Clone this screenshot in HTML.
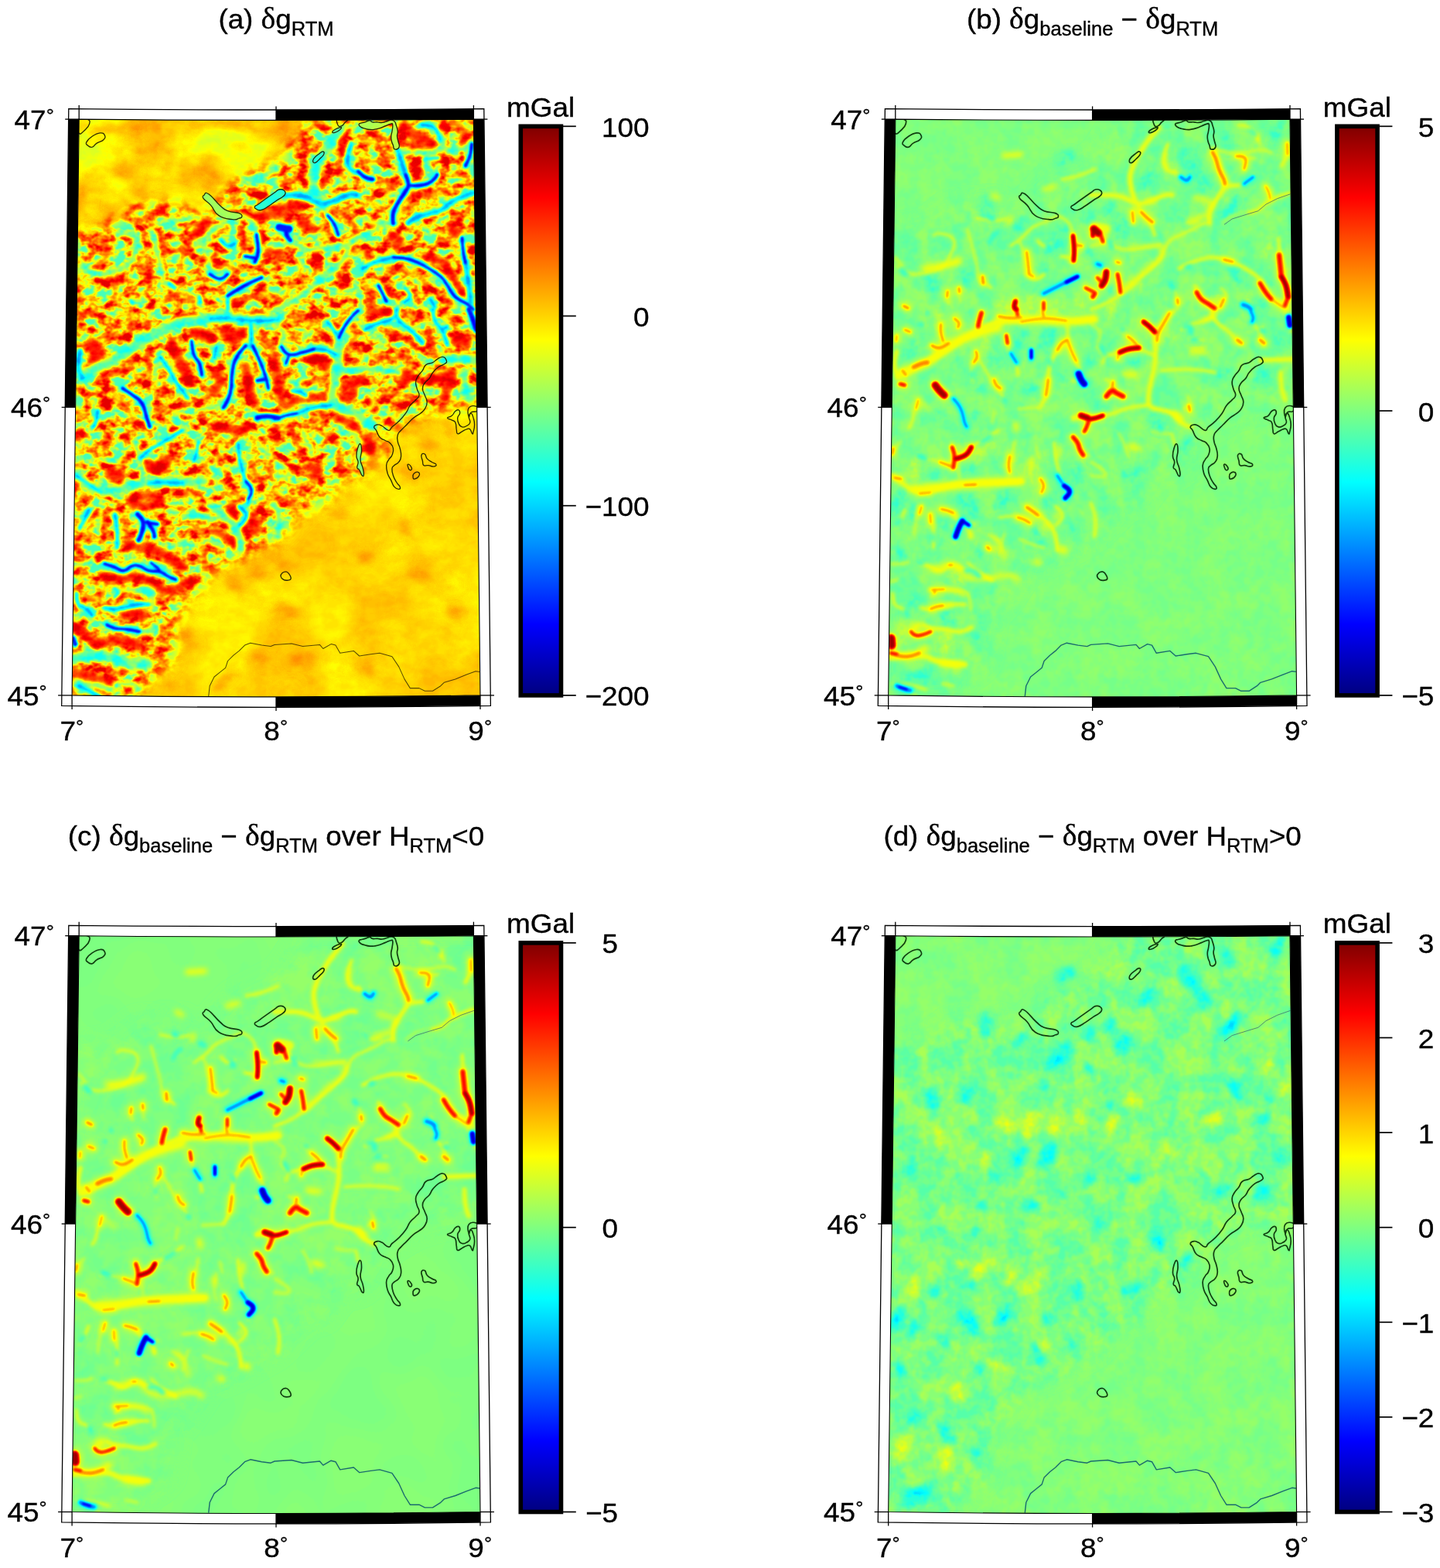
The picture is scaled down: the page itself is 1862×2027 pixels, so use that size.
<!DOCTYPE html>
<html><head><meta charset="utf-8"><title>RTM gravity comparison</title>
<style>
html,body{margin:0;padding:0;background:#fff}
svg{display:block}
.t{font-family:"Liberation Sans", sans-serif;font-size:35px;fill:#000;stroke:#000;stroke-width:0.35px}
.tt{font-family:"Liberation Sans", sans-serif;font-size:36px;fill:#000;stroke:#000;stroke-width:0.35px}
.sb{font-size:25px}
.dl{font-family:"Liberation Serif","DejaVu Serif",serif;font-size:39px}
</style></head><body>
<svg width="1862" height="2027" viewBox="0 0 1862 2027">
<defs>
<clipPath id="mapclip"><path d="M102.2,154.1 Q357,156.7 612.4,154.1 L621.0,898.9 Q357,902.9 93.1,898.9 Z"/></clipPath>
<filter id="bR1" x="-5%" y="-5%" width="110%" height="110%" filterUnits="objectBoundingBox" color-interpolation-filters="sRGB"><feGaussianBlur stdDeviation="2.6"/></filter>
<filter id="bR2" x="-5%" y="-5%" width="110%" height="110%" filterUnits="objectBoundingBox" color-interpolation-filters="sRGB"><feGaussianBlur stdDeviation="2.4"/></filter>
<filter id="bV1" x="-5%" y="-5%" width="110%" height="110%" filterUnits="objectBoundingBox" color-interpolation-filters="sRGB"><feGaussianBlur stdDeviation="2.6"/></filter>
<filter id="bV2" x="-5%" y="-5%" width="110%" height="110%" filterUnits="objectBoundingBox" color-interpolation-filters="sRGB"><feGaussianBlur stdDeviation="1.8"/></filter>
<filter id="bV3" x="-5%" y="-5%" width="110%" height="110%" filterUnits="objectBoundingBox" color-interpolation-filters="sRGB"><feGaussianBlur stdDeviation="1.3"/></filter>
<filter id="bO" x="-5%" y="-5%" width="110%" height="110%" filterUnits="objectBoundingBox" color-interpolation-filters="sRGB"><feGaussianBlur stdDeviation="6"/></filter>
<filter id="bY" x="-5%" y="-5%" width="110%" height="110%" filterUnits="objectBoundingBox" color-interpolation-filters="sRGB"><feGaussianBlur stdDeviation="6"/></filter>
<filter id="bALP" x="0" y="0" width="1862" height="2027" filterUnits="userSpaceOnUse" color-interpolation-filters="sRGB"><feGaussianBlur stdDeviation="9"/></filter>
<filter id="jetA" x="85" y="145" width="550" height="770" filterUnits="userSpaceOnUse" color-interpolation-filters="sRGB">
<feTurbulence type="fractalNoise" baseFrequency="0.055 0.07" numOctaves="3" seed="11" result="t"/>
<feColorMatrix in="t" type="matrix" values="2.3 0 0 0 -0.65  2.3 0 0 0 -0.65  2.3 0 0 0 -0.65  0 0 0 0 1" result="n"/>
<feTurbulence type="fractalNoise" baseFrequency="0.012" numOctaves="2" seed="16" result="t2"/>
<feColorMatrix in="t2" type="matrix" values="3.0 0 0 0 -1.0  3.0 0 0 0 -1.0  3.0 0 0 0 -1.0  0 0 0 0 1" result="n2"/>
<feColorMatrix in="SourceGraphic" type="matrix" values="0 1 0 0 0  0 1 0 0 0  0 1 0 0 0  0 0 0 0 1" result="amp"/>
<feColorMatrix in="SourceGraphic" type="matrix" values="0 0 1 0 0  0 0 1 0 0  0 0 1 0 0  0 0 0 0 1" result="amp2"/>
<feColorMatrix in="SourceGraphic" type="matrix" values="1 0 0 0 0  1 0 0 0 0  1 0 0 0 0  0 0 0 0 1" result="val"/>
<feComposite in="amp" in2="n" operator="arithmetic" k1="1" k2="-0.5" k3="0" k4="0.5" result="m"/>
<feComposite in="amp2" in2="n2" operator="arithmetic" k1="1" k2="-0.5" k3="0" k4="0.5" result="m2"/>
<feComposite in="val" in2="m" operator="arithmetic" k1="0" k2="1" k3="1" k4="-0.5" result="v1"/>
<feComposite in="v1" in2="m2" operator="arithmetic" k1="0" k2="1" k3="1" k4="-0.5" result="v"/>
<feComponentTransfer in="v">
<feFuncR type="table" tableValues="0 0 0 0 0.5 1 1 1 0.5"/>
<feFuncG type="table" tableValues="0 0 0.5 1 1 1 0.5 0 0"/>
<feFuncB type="table" tableValues="0.5 1 1 1 0.5 0 0 0 0"/>
</feComponentTransfer>
</filter>
<filter id="dr2" x="-5%" y="-5%" width="110%" height="110%" color-interpolation-filters="sRGB"><feGaussianBlur stdDeviation="1.5"/></filter>
<filter id="dr1" x="-5%" y="-5%" width="110%" height="110%" color-interpolation-filters="sRGB"><feGaussianBlur stdDeviation="1.6"/></filter>
<filter id="do" x="-5%" y="-5%" width="110%" height="110%" color-interpolation-filters="sRGB"><feGaussianBlur stdDeviation="1.8"/></filter>
<filter id="dy" x="-5%" y="-5%" width="110%" height="110%" color-interpolation-filters="sRGB"><feGaussianBlur stdDeviation="3.5"/></filter>
<filter id="dc" x="-5%" y="-5%" width="110%" height="110%" color-interpolation-filters="sRGB"><feGaussianBlur stdDeviation="2.5"/></filter>
<filter id="db1" x="-5%" y="-5%" width="110%" height="110%" color-interpolation-filters="sRGB"><feGaussianBlur stdDeviation="1.6"/></filter>
<filter id="db2" x="-5%" y="-5%" width="110%" height="110%" color-interpolation-filters="sRGB"><feGaussianBlur stdDeviation="1.4"/></filter>
<filter id="dvein" x="-5%" y="-5%" width="110%" height="110%" color-interpolation-filters="sRGB"><feGaussianBlur stdDeviation="2.2"/></filter>
<filter id="dblob" x="-5%" y="-5%" width="110%" height="110%" color-interpolation-filters="sRGB"><feGaussianBlur stdDeviation="4.2"/></filter>
<filter id="jetB" x="85" y="145" width="550" height="770" filterUnits="userSpaceOnUse" color-interpolation-filters="sRGB">
<feTurbulence type="fractalNoise" baseFrequency="0.09" numOctaves="2" seed="41" result="t"/>
<feColorMatrix in="t" type="matrix" values="3.0 0 0 0 -1.0  3.0 0 0 0 -1.0  3.0 0 0 0 -1.0  0 0 0 0 1" result="n"/>
<feTurbulence type="fractalNoise" baseFrequency="0.03 0.024" numOctaves="3" seed="46" result="t2"/>
<feColorMatrix in="t2" type="matrix" values="3.4 0 0 0 -1.2  3.4 0 0 0 -1.2  3.4 0 0 0 -1.2  0 0 0 0 1" result="n2"/>
<feColorMatrix in="SourceGraphic" type="matrix" values="0 1 0 0 0  0 1 0 0 0  0 1 0 0 0  0 0 0 0 1" result="amp"/>
<feColorMatrix in="SourceGraphic" type="matrix" values="0 0 1 0 0  0 0 1 0 0  0 0 1 0 0  0 0 0 0 1" result="amp2"/>
<feColorMatrix in="SourceGraphic" type="matrix" values="1 0 0 0 0  1 0 0 0 0  1 0 0 0 0  0 0 0 0 1" result="val"/>
<feComposite in="amp" in2="n" operator="arithmetic" k1="1" k2="-0.5" k3="0" k4="0.5" result="m"/>
<feComposite in="amp2" in2="n2" operator="arithmetic" k1="1" k2="-0.5" k3="0" k4="0.5" result="m2"/>
<feComposite in="val" in2="m" operator="arithmetic" k1="0" k2="1" k3="1" k4="-0.5" result="v1"/>
<feComposite in="v1" in2="m2" operator="arithmetic" k1="0" k2="1" k3="1" k4="-0.5" result="v"/>
<feComponentTransfer in="v">
<feFuncR type="table" tableValues="0 0 0 0 0.5 1 1 1 0.5"/>
<feFuncG type="table" tableValues="0 0 0.5 1 1 1 0.5 0 0"/>
<feFuncB type="table" tableValues="0.5 1 1 1 0.5 0 0 0 0"/>
</feComponentTransfer>
</filter>
<filter id="jetC" x="85" y="145" width="550" height="770" filterUnits="userSpaceOnUse" color-interpolation-filters="sRGB">
<feTurbulence type="fractalNoise" baseFrequency="0.045" numOctaves="3" seed="31" result="t"/>
<feColorMatrix in="t" type="matrix" values="3.0 0 0 0 -1.0  3.0 0 0 0 -1.0  3.0 0 0 0 -1.0  0 0 0 0 1" result="n"/>
<feTurbulence type="fractalNoise" baseFrequency="0.012" numOctaves="2" seed="36" result="t2"/>
<feColorMatrix in="t2" type="matrix" values="3.0 0 0 0 -1.0  3.0 0 0 0 -1.0  3.0 0 0 0 -1.0  0 0 0 0 1" result="n2"/>
<feColorMatrix in="SourceGraphic" type="matrix" values="0 1 0 0 0  0 1 0 0 0  0 1 0 0 0  0 0 0 0 1" result="amp"/>
<feColorMatrix in="SourceGraphic" type="matrix" values="0 0 1 0 0  0 0 1 0 0  0 0 1 0 0  0 0 0 0 1" result="amp2"/>
<feColorMatrix in="SourceGraphic" type="matrix" values="1 0 0 0 0  1 0 0 0 0  1 0 0 0 0  0 0 0 0 1" result="val"/>
<feComposite in="amp" in2="n" operator="arithmetic" k1="1" k2="-0.5" k3="0" k4="0.5" result="m"/>
<feComposite in="amp2" in2="n2" operator="arithmetic" k1="1" k2="-0.5" k3="0" k4="0.5" result="m2"/>
<feComposite in="val" in2="m" operator="arithmetic" k1="0" k2="1" k3="1" k4="-0.5" result="v1"/>
<feComposite in="v1" in2="m2" operator="arithmetic" k1="0" k2="1" k3="1" k4="-0.5" result="v"/>
<feComponentTransfer in="v">
<feFuncR type="table" tableValues="0 0 0 0 0.5 1 1 1 0.5"/>
<feFuncG type="table" tableValues="0 0 0.5 1 1 1 0.5 0 0"/>
<feFuncB type="table" tableValues="0.5 1 1 1 0.5 0 0 0 0"/>
</feComponentTransfer>
</filter>
<filter id="jetD" x="85" y="145" width="550" height="770" filterUnits="userSpaceOnUse" color-interpolation-filters="sRGB">
<feTurbulence type="fractalNoise" baseFrequency="0.09" numOctaves="2" seed="41" result="t"/>
<feColorMatrix in="t" type="matrix" values="3.0 0 0 0 -1.0  3.0 0 0 0 -1.0  3.0 0 0 0 -1.0  0 0 0 0 1" result="n"/>
<feTurbulence type="fractalNoise" baseFrequency="0.03 0.024" numOctaves="3" seed="46" result="t2"/>
<feColorMatrix in="t2" type="matrix" values="3.4 0 0 0 -1.2  3.4 0 0 0 -1.2  3.4 0 0 0 -1.2  0 0 0 0 1" result="n2"/>
<feColorMatrix in="SourceGraphic" type="matrix" values="0 1 0 0 0  0 1 0 0 0  0 1 0 0 0  0 0 0 0 1" result="amp"/>
<feColorMatrix in="SourceGraphic" type="matrix" values="0 0 1 0 0  0 0 1 0 0  0 0 1 0 0  0 0 0 0 1" result="amp2"/>
<feColorMatrix in="SourceGraphic" type="matrix" values="1 0 0 0 0  1 0 0 0 0  1 0 0 0 0  0 0 0 0 1" result="val"/>
<feComposite in="amp" in2="n" operator="arithmetic" k1="1" k2="-0.5" k3="0" k4="0.5" result="m"/>
<feComposite in="amp2" in2="n2" operator="arithmetic" k1="1" k2="-0.5" k3="0" k4="0.5" result="m2"/>
<feComposite in="val" in2="m" operator="arithmetic" k1="0" k2="1" k3="1" k4="-0.5" result="v1"/>
<feComposite in="v1" in2="m2" operator="arithmetic" k1="0" k2="1" k3="1" k4="-0.5" result="v"/>
<feComponentTransfer in="v">
<feFuncR type="table" tableValues="0 0 0 0 0.5 1 1 1 0.5"/>
<feFuncG type="table" tableValues="0 0 0.5 1 1 1 0.5 0 0"/>
<feFuncB type="table" tableValues="0.5 1 1 1 0.5 0 0 0 0"/>
</feComponentTransfer>
</filter>
<linearGradient id="jet" x1="0" y1="0" x2="0" y2="1">
<stop offset="0" stop-color="#7f0000"/><stop offset="0.125" stop-color="#ff0000"/><stop offset="0.375" stop-color="#ffff00"/><stop offset="0.625" stop-color="#00ffff"/><stop offset="0.875" stop-color="#0000ff"/><stop offset="1" stop-color="#00007f"/>
</linearGradient>
</defs>
<rect width="1862" height="2027" fill="#fff"/>

<g transform="translate(0,0)">
<path d="M88.8,140.7 Q357,143.29999999999998 625.8,140.7 L634.4,912.3 Q357,916.3 79.69999999999999,912.3 Z" fill="#fff" stroke="#000" stroke-width="1.3"/>
<path d="M357,142.0 Q485,141.7 612.4,140.7 L612.4,154.1 Q485,155.1 357,155.4 Z" fill="#000"/>
<path d="M357,914.3 Q489,913.8 621.0,912.3 L621.0,898.9 Q489,900.4 357,900.9 Z" fill="#000"/>
<path d="M88.8,154.1 L102.2,154.1 L97.65,526.5 L84.25,526.5 Z" fill="#000"/>
<path d="M625.8,154.1 L612.4,154.1 L616.7,526.5 L630.1,526.5 Z" fill="#000"/>
<path d="M102.2,154.1 Q357,156.7 612.4,154.1 L621.0,898.9 Q357,902.9 93.1,898.9 Z" fill="#80ff80"/>
<g clip-path="url(#mapclip)"><g filter="url(#jetA)">
<rect x="80" y="140" width="560" height="780" fill="rgb(168,5,11)"/>
<g filter="url(#bALP)"><path d="M90.0,296.0 L141.0,289.0 L177.7,261.0 L236.0,258.0 L258.0,281.5 L280.0,252.0 L302.0,230.0 L360.0,201.0 L384.0,164.6 L399.0,150.0 L630.0,150.0 L630.0,524.0 L574.0,528.6 L537.6,538.8 L501.0,560.7 L486.5,597.0 L464.6,616.0 L442.7,619.0 L420.7,650.0 L400.0,655.0 L360.0,694.0 L309.0,723.0 L272.6,737.7 L258.0,759.6 L243.4,781.5 L228.8,796.0 L225.9,825.0 L221.5,854.6 L206.9,869.0 L192.0,876.5 L177.7,905.0 L85.0,905.0Z" fill="rgb(170,117,0)"/></g>
<g filter="url(#bALP)"><path d="M85.0,145.0 L405.0,145.0 L384.0,164.6 L360.0,201.0 L302.0,230.0 L280.0,252.0 L258.0,281.5 L236.0,258.0 L177.7,261.0 L141.0,289.0 L85.0,300.0Z" fill="rgb(165,8,26)"/></g>
<g filter="url(#bO)"><g fill="none" stroke="rgb(182,8,8)" stroke-linecap="round" stroke-linejoin="round"><path d="M476.3,565.1 C477.8,571.5 481.4,579.8 482.1,589.9 C482.9,600.0 479.9,600.8 479.2,604.5" stroke-width="16.0"/><path d="M523.0,554.9 L544.9,551.9" stroke-width="10.0"/><path d="M544.9,575.3 L559.5,575.3" stroke-width="10.0"/><path d="M578.5,546.1 L581.5,560.7" stroke-width="10.0"/><path d="M523.0,607.5 L537.6,616.2" stroke-width="14.0"/><path d="M450.0,633.8 L457.3,641.1" stroke-width="10.0"/><path d="M329.6,737.7 L338.4,740.6" stroke-width="18.0"/><path d="M297.5,752.3 L309.2,761.0" stroke-width="12.0"/><path d="M240.5,818.0 L244.9,834.1" stroke-width="16.0"/><path d="M209.8,883.8 L221.5,885.2" stroke-width="12.0"/><path d="M279.9,891.1 L301.9,869.2" stroke-width="12.0"/><path d="M323.8,847.2 L338.4,851.6" stroke-width="12.0"/><path d="M345.7,715.7 L360.0,723.1" stroke-width="10.0"/><path d="M355.0,720.1 C358.0,722.4 361.1,725.1 366.7,728.9 C372.3,732.6 374.3,733.2 376.9,734.7" stroke-width="8.0"/><path d="M363.8,788.8 L374.0,790.3" stroke-width="22.0"/><path d="M469.0,720.1 L480.6,721.6" stroke-width="14.0"/><path d="M534.7,740.6 L549.3,740.6" stroke-width="16.0"/><path d="M520.1,676.3 L525.9,688.0" stroke-width="14.0"/><path d="M582.9,788.8 L594.6,790.3" stroke-width="16.0"/><path d="M376.9,854.5 L398.8,851.6" stroke-width="14.0"/><path d="M464.6,858.9 L479.2,866.2" stroke-width="14.0"/><path d="M428.1,664.6 L445.6,663.1" stroke-width="10.0"/><path d="M155.7,218.7 L166.0,223.1" stroke-width="26.0"/><path d="M119.2,171.9 C126.7,170.4 133.5,167.9 148.4,166.1 C163.4,164.2 170.2,165.0 177.7,164.6" stroke-width="12.0"/><path d="M107.5,237.7 L111.9,266.9" stroke-width="10.0"/><path d="M221.5,193.8 L218.6,215.7" stroke-width="8.0"/><path d="M236.1,208.4 L240.5,230.4" stroke-width="8.0"/><path d="M272.6,201.1 L287.2,208.4" stroke-width="9.0"/><path d="M301.9,186.5 L323.8,193.8" stroke-width="7.0"/><path d="M350.1,193.8 L345.7,215.7" stroke-width="8.0"/><path d="M250.7,164.6 C258.2,163.1 261.2,159.5 279.9,158.8 C298.7,158.0 312.5,160.9 323.8,161.7" stroke-width="10.0"/><path d="M138.2,266.9 L148.4,281.5" stroke-width="9.0"/><path d="M192.3,237.7 L177.7,249.4" stroke-width="9.0"/><path d="M265.3,215.7 L279.9,226.0" stroke-width="8.0"/><path d="M331.1,171.9 L353.0,167.5" stroke-width="8.0"/><path d="M362.3,164.6 L376.9,158.8" stroke-width="9.0"/><path d="M369.6,179.2 L384.2,171.9" stroke-width="9.0"/></g></g>
<g filter="url(#bY)"><g fill="none" stroke="rgb(164,8,8)" stroke-linecap="round" stroke-linejoin="round"><path d="M331.1,766.9 L345.7,769.8" stroke-width="16.0"/><path d="M258.0,781.5 L272.6,788.8" stroke-width="16.0"/><path d="M508.4,715.7 L523.0,717.2" stroke-width="14.0"/><path d="M527.4,658.8 L539.1,658.8" stroke-width="14.0"/><path d="M431.0,861.9 L442.7,860.4" stroke-width="16.0"/><path d="M363.8,891.1 L378.4,889.6" stroke-width="14.0"/><path d="M581.5,752.3 L588.8,755.2" stroke-width="14.0"/><path d="M177.7,186.5 C170.2,190.3 161.6,191.8 148.4,201.1 C135.3,210.5 135.9,202.4 126.5,223.1 C117.2,243.7 115.7,266.5 111.9,281.5" stroke-width="12.0"/><path d="M236.1,186.5 L243.4,193.8" stroke-width="10.0"/><path d="M250.7,245.0 L258.0,266.9" stroke-width="12.0"/><path d="M192.3,208.4 L206.9,230.4" stroke-width="10.0"/><path d="M359.4,193.8 L369.6,208.4" stroke-width="10.0"/></g></g>
<g filter="url(#bR1)"><g fill="none" stroke="rgb(200,51,0)" stroke-linecap="round" stroke-linejoin="round"><path d="M177.7,285.9 C184.4,282.1 192.7,276.7 204.0,271.3 C215.2,265.8 213.3,265.8 221.5,264.7 C229.7,263.6 227.5,264.1 236.1,266.9 C244.7,269.7 250.2,273.4 255.1,275.6" stroke-width="6.8"/><path d="M253.6,301.9 C251.0,306.1 248.7,308.3 243.4,318.0 C238.2,327.8 235.8,334.3 233.2,339.9" stroke-width="7.6"/><path d="M293.1,262.5 L309.2,246.4" stroke-width="6.0"/><path d="M300.4,268.3 L315.0,255.2" stroke-width="5.1"/><path d="M128.0,309.3 C130.6,313.4 137.5,317.8 138.2,325.3 C139.0,332.8 135.0,333.2 130.9,338.5 C126.8,343.7 124.4,343.9 122.1,345.8" stroke-width="8.5"/><path d="M138.2,358.9 L158.7,366.2" stroke-width="7.6"/><path d="M151.4,354.5 L148.4,383.8" stroke-width="6.8"/><path d="M180.6,339.9 C184.3,342.9 192.6,345.6 195.2,351.6 C197.8,357.6 191.9,360.3 190.8,363.3" stroke-width="8.5"/><path d="M206.9,303.4 C209.5,309.0 209.6,321.6 217.1,325.3 C224.6,329.1 231.2,319.9 236.1,318.0" stroke-width="6.8"/><path d="M214.2,386.7 C219.8,384.8 226.7,377.9 236.1,379.4 C245.5,380.9 247.0,389.2 250.7,392.5" stroke-width="8.5"/><path d="M301.9,391.1 C311.2,388.8 323.5,384.2 338.4,382.3 C353.3,380.4 354.5,383.4 360.0,383.8" stroke-width="8.5"/><path d="M272.6,339.9 C278.2,341.1 285.2,341.7 294.5,344.3 C303.9,346.9 305.4,348.7 309.2,350.2" stroke-width="6.8"/><path d="M309.2,296.1 C311.4,299.9 317.2,304.0 317.9,310.7 C318.7,317.5 313.6,319.4 312.1,322.4" stroke-width="6.0"/><path d="M104.6,383.8 L98.8,398.4" stroke-width="6.0"/><path d="M345.7,337.0 L360.0,339.9" stroke-width="6.8"/><path d="M160.1,281.5 C163.1,278.5 165.8,274.3 171.8,269.8 C177.8,265.3 180.5,265.5 183.5,264.0" stroke-width="5.1"/><path d="M133.8,296.1 L145.5,278.6" stroke-width="5.1"/><path d="M355.0,281.5 L372.5,278.6" stroke-width="8.5"/><path d="M442.7,179.2 C442.7,183.0 443.8,184.5 442.7,193.8 C441.5,203.2 437.5,206.0 438.3,215.7 C439.0,225.5 443.7,227.7 445.6,231.8" stroke-width="9.3"/><path d="M410.5,218.7 C413.1,222.0 420.0,225.1 420.7,231.8 C421.5,238.6 415.3,241.6 413.4,245.0" stroke-width="7.6"/><path d="M360.8,234.7 L384.2,231.8" stroke-width="8.5"/><path d="M372.5,190.9 C377.4,189.8 382.9,188.4 391.5,186.5 C400.1,184.7 402.4,184.4 406.1,183.6" stroke-width="6.8"/><path d="M398.8,164.6 L420.7,163.1" stroke-width="6.0"/><path d="M466.0,179.2 L486.5,186.5" stroke-width="6.8"/><path d="M479.2,171.9 L493.8,179.2" stroke-width="6.0"/><path d="M469.0,208.4 C475.3,208.4 485.6,210.3 493.8,208.4 C502.0,206.6 499.2,203.0 501.1,201.1" stroke-width="7.6"/><path d="M523.0,183.6 C528.6,185.5 535.6,188.7 544.9,190.9 C554.3,193.2 555.8,192.0 559.5,192.4" stroke-width="10.2"/><path d="M585.8,157.3 C590.3,161.1 600.8,164.4 603.4,171.9 C606.0,179.4 597.9,182.8 596.1,186.5" stroke-width="10.2"/><path d="M486.5,234.7 C492.1,235.5 504.7,233.9 508.4,237.7 C512.2,241.4 503.0,246.4 501.1,249.4" stroke-width="8.5"/><path d="M530.3,212.8 C534.1,214.7 543.1,215.6 544.9,220.1 C546.8,224.6 539.5,227.7 537.6,230.4" stroke-width="7.6"/><path d="M517.2,261.0 C522.4,258.8 526.8,254.9 537.6,252.3 C548.5,249.7 549.4,251.6 559.5,250.8 C569.7,250.1 572.6,249.7 577.1,249.4" stroke-width="9.3"/><path d="M520.1,274.2 L534.7,265.4" stroke-width="7.6"/><path d="M588.8,223.1 L604.8,230.4" stroke-width="6.8"/><path d="M588.8,274.2 L594.6,288.8" stroke-width="6.8"/><path d="M398.8,284.4 L403.2,293.2" stroke-width="6.8"/><path d="M428.1,268.3 C433.7,271.7 441.7,274.4 450.0,281.5 C458.2,288.6 456.4,288.6 460.2,296.1 C463.9,303.6 463.5,307.0 464.6,310.7" stroke-width="7.6"/><path d="M479.2,259.6 L493.8,269.8" stroke-width="6.8"/><path d="M457.3,325.3 C461.8,326.1 469.2,324.5 474.8,328.2 C480.4,332.0 478.1,336.9 479.2,339.9" stroke-width="7.6"/><path d="M401.8,337.0 C404.8,337.8 412.3,335.4 413.4,339.9 C414.6,344.4 408.0,350.8 406.1,354.5" stroke-width="6.8"/><path d="M435.4,354.5 C437.2,358.3 441.9,363.2 442.7,369.2 C443.4,375.1 439.4,375.7 438.3,377.9" stroke-width="6.8"/><path d="M501.1,347.2 C508.6,348.4 519.1,347.9 530.3,351.6 C541.6,355.4 539.3,357.4 544.9,361.9 C550.6,366.3 550.4,367.3 552.2,369.2" stroke-width="7.6"/><path d="M476.3,369.2 C477.8,372.9 481.4,376.3 482.1,383.8 C482.9,391.3 479.9,394.6 479.2,398.4" stroke-width="7.6"/><path d="M376.9,369.2 L369.6,383.8" stroke-width="6.8"/><path d="M566.9,310.7 L581.5,315.1" stroke-width="6.0"/><path d="M413.4,310.7 L425.1,303.4" stroke-width="6.0"/><path d="M501.1,377.9 L515.7,386.7" stroke-width="6.0"/><path d="M574.2,386.7 L588.8,395.5" stroke-width="6.0"/><path d="M384.2,337.0 L391.5,351.6" stroke-width="6.0"/><path d="M133.8,436.5 L152.8,432.1" stroke-width="7.6"/><path d="M104.6,407.3 L119.2,404.4" stroke-width="6.8"/><path d="M152.8,404.4 L170.4,408.8" stroke-width="6.8"/><path d="M170.4,414.6 L167.4,429.2" stroke-width="6.8"/><path d="M189.4,408.8 L192.3,429.2" stroke-width="6.0"/><path d="M338.4,429.2 C341.4,434.8 344.5,441.8 350.1,451.1 C355.6,460.5 357.5,462.0 360.0,465.7" stroke-width="8.5"/><path d="M126.5,490.6 C132.1,488.3 139.1,485.2 148.4,481.8 C157.8,478.4 159.3,478.6 163.1,477.4" stroke-width="7.6"/><path d="M168.9,465.7 C170.0,469.5 170.3,472.9 173.3,480.4 C176.3,487.8 178.7,491.2 180.6,495.0" stroke-width="6.8"/><path d="M189.4,455.5 C190.1,460.0 190.8,464.8 192.3,473.1 C193.8,481.3 194.4,483.9 195.2,487.7" stroke-width="6.8"/><path d="M211.3,495.0 L212.7,509.6" stroke-width="6.8"/><path d="M123.6,502.3 L128.0,511.0" stroke-width="5.1"/><path d="M144.1,502.3 C147.1,506.0 150.1,509.4 155.7,516.9 C161.4,524.4 161.5,524.0 166.0,531.5 C170.5,539.0 171.4,542.4 173.3,546.1" stroke-width="7.6"/><path d="M202.5,528.6 L214.2,531.5" stroke-width="8.5"/><path d="M98.8,528.6 L104.6,538.8" stroke-width="6.8"/><path d="M160.1,560.7 L163.1,575.3" stroke-width="6.0"/><path d="M262.4,597.2 L268.2,607.5" stroke-width="6.8"/><path d="M104.6,597.2 L98.8,604.5" stroke-width="6.0"/><path d="M287.2,604.5 L294.5,611.9" stroke-width="6.0"/><path d="M323.8,597.2 C325.6,601.0 327.3,606.2 331.1,611.9 C334.8,617.5 336.5,617.3 338.4,619.2" stroke-width="7.6"/><path d="M236.1,639.6 L258.0,636.7" stroke-width="8.5"/><path d="M298.9,641.1 L309.2,636.7" stroke-width="6.8"/><path d="M104.6,633.8 L111.9,645.5" stroke-width="6.8"/><path d="M269.7,408.8 L287.2,405.8" stroke-width="6.0"/><path d="M301.9,405.8 L338.4,404.4" stroke-width="6.0"/><path d="M218.6,587.0 L221.5,594.3" stroke-width="5.1"/><path d="M104.6,553.4 L109.0,563.6" stroke-width="6.0"/><path d="M138.2,560.7 L133.8,582.6" stroke-width="6.0"/><path d="M265.3,502.3 L269.7,516.9" stroke-width="6.0"/><path d="M353.0,560.7 L360.0,575.3" stroke-width="6.0"/><path d="M345.7,604.5 L353.0,619.2" stroke-width="6.0"/><path d="M374.0,408.8 C378.5,409.5 384.0,409.4 391.5,411.7 C399.0,413.9 400.2,416.0 403.2,417.5" stroke-width="7.6"/><path d="M376.9,436.5 L384.2,433.6" stroke-width="6.0"/><path d="M416.4,429.2 C418.2,431.5 420.7,433.1 423.7,438.0 C426.7,442.9 426.9,445.6 428.1,448.2" stroke-width="6.8"/><path d="M439.7,408.8 L442.7,417.5" stroke-width="6.0"/><path d="M460.2,421.9 C459.4,425.7 459.9,429.0 457.3,436.5 C454.7,444.0 451.8,447.4 450.0,451.1" stroke-width="7.6"/><path d="M501.1,426.3 C504.9,428.2 508.2,429.1 515.7,433.6 C523.2,438.1 524.7,439.3 530.3,443.8 C535.9,448.3 535.8,449.3 537.6,451.1" stroke-width="7.6"/><path d="M523.0,407.3 C526.8,407.7 530.9,406.9 537.6,408.8 C544.4,410.6 546.3,413.1 549.3,414.6" stroke-width="6.8"/><path d="M552.2,429.2 C554.1,433.0 556.9,437.1 559.5,443.8 C562.2,450.6 561.7,452.5 562.5,455.5" stroke-width="7.6"/><path d="M574.2,407.3 C577.9,408.4 583.1,409.1 588.8,411.7 C594.4,414.3 594.2,416.0 596.1,417.5" stroke-width="6.8"/><path d="M461.7,451.1 C463.2,453.8 468.6,456.5 467.5,461.4 C466.4,466.2 459.9,467.9 457.3,470.1" stroke-width="6.8"/><path d="M482.1,459.9 C487.0,460.7 488.7,462.8 501.1,462.8 C513.5,462.8 522.8,460.7 530.3,459.9" stroke-width="6.8"/><path d="M536.2,470.1 L523.0,476.0" stroke-width="6.0"/><path d="M391.5,493.5 C395.3,493.5 399.4,493.9 406.1,493.5 C412.9,493.1 414.8,492.4 417.8,492.0" stroke-width="6.8"/><path d="M493.8,514.0 C499.4,513.2 506.3,511.4 515.7,511.0 C525.1,510.7 526.6,512.1 530.3,512.5" stroke-width="6.8"/><path d="M515.7,524.2 L512.8,538.8" stroke-width="8.5"/><path d="M403.2,543.2 C407.0,542.4 414.5,543.3 417.8,540.3 C421.2,537.3 416.7,533.7 416.4,531.5" stroke-width="6.8"/><path d="M355.0,553.4 C358.7,553.0 363.2,550.1 369.6,551.9 C376.0,553.8 376.1,554.7 379.8,560.7 C383.6,566.7 382.0,568.6 384.2,575.3 C386.5,582.1 387.5,584.0 388.6,587.0" stroke-width="7.6"/><path d="M416.4,560.7 C419.4,561.8 422.8,561.4 428.1,565.1 C433.3,568.8 434.6,572.7 436.8,575.3" stroke-width="6.8"/><path d="M390.1,626.5 L398.8,633.8" stroke-width="6.0"/><path d="M436.8,589.9 L442.7,611.9" stroke-width="6.8"/><path d="M355.0,633.8 C357.2,635.6 360.0,637.3 363.8,641.1 C367.5,644.8 368.1,646.5 369.6,648.4" stroke-width="6.8"/><path d="M501.1,581.2 L501.1,589.9" stroke-width="6.0"/><path d="M123.6,658.8 C122.5,664.0 121.8,669.1 119.2,679.2 C116.6,689.3 114.9,693.3 113.4,698.2" stroke-width="6.0"/><path d="M139.7,657.3 C139.3,662.9 139.7,668.0 138.2,679.2 C136.7,690.5 135.0,695.5 133.8,701.1" stroke-width="5.1"/><path d="M155.7,669.0 C157.6,671.6 160.8,671.0 163.1,679.2 C165.3,687.5 163.8,692.9 164.5,701.1 C165.3,709.4 165.6,708.7 166.0,711.4" stroke-width="6.8"/><path d="M98.8,701.1 L104.6,715.7" stroke-width="6.0"/><path d="M317.9,676.3 L338.4,673.4" stroke-width="6.8"/><path d="M258.0,705.5 C259.9,709.3 264.2,712.6 265.3,720.1 C266.4,727.6 263.2,731.0 262.4,734.7" stroke-width="7.6"/><path d="M206.9,764.0 L209.8,781.5" stroke-width="4.2"/><path d="M221.5,761.0 L225.9,778.6" stroke-width="4.2"/><path d="M236.1,761.0 L241.9,775.6" stroke-width="4.2"/><path d="M138.2,745.0 C137.1,749.8 136.8,756.5 133.8,764.0 C130.8,771.5 132.1,772.3 126.5,774.2 C120.9,776.1 115.7,772.0 111.9,771.3" stroke-width="6.8"/><path d="M155.7,772.7 C159.5,772.0 164.0,770.2 170.4,769.8 C176.7,769.4 178.0,770.9 180.6,771.3" stroke-width="5.1"/><path d="M209.8,810.7 L221.5,807.8" stroke-width="6.0"/><path d="M209.8,810.7 C209.4,814.5 206.1,819.3 208.3,825.3 C210.6,831.3 215.9,831.8 218.6,834.1" stroke-width="6.0"/><path d="M154.3,829.7 L158.7,844.3" stroke-width="4.2"/><path d="M168.9,832.6 L173.3,845.8" stroke-width="4.2"/><path d="M182.0,834.1 L186.4,847.2" stroke-width="4.2"/><path d="M201.0,837.0 C202.5,840.8 203.5,846.4 206.9,851.6 C210.3,856.9 212.3,856.0 214.2,857.5" stroke-width="5.1"/><path d="M141.1,869.2 C146.8,868.8 152.2,867.7 163.1,867.7 C173.9,867.7 178.3,868.8 183.5,869.2" stroke-width="6.0"/><path d="M133.8,886.7 L138.2,892.5" stroke-width="6.8"/><path d="M104.6,745.0 L111.9,740.6" stroke-width="5.1"/><path d="M221.5,655.8 L236.1,658.8" stroke-width="6.0"/><path d="M250.7,683.6 L265.3,686.5" stroke-width="6.0"/><path d="M372.5,651.5 L384.2,652.9" stroke-width="8.5"/></g><g fill="none" stroke="rgb(200,51,0)" stroke-linecap="round" stroke-linejoin="round"><path d="M266.8,287.3 L253.6,301.9" stroke-width="14.4"/><path d="M332.5,281.5 C336.3,280.4 340.1,278.6 347.1,277.1 C354.2,275.6 356.7,276.0 360.0,275.6" stroke-width="13.6"/><path d="M345.7,325.3 L360.0,322.4" stroke-width="12.0"/><path d="M355.0,272.7 C358.7,271.6 360.2,270.2 369.6,268.3 C379.0,266.5 385.9,266.2 391.5,265.4" stroke-width="13.6"/><path d="M355.0,320.9 L360.8,329.7" stroke-width="11.2"/><path d="M523.0,166.1 C528.6,169.4 535.6,174.0 544.9,179.2 C554.3,184.5 555.8,184.7 559.5,186.5" stroke-width="15.2"/><path d="M582.9,293.2 L590.2,303.4" stroke-width="12.8"/><path d="M388.6,288.8 L406.1,296.1" stroke-width="13.6"/><path d="M505.5,304.9 C508.5,306.4 515.3,307.3 517.2,310.7 C519.0,314.1 513.9,316.1 512.8,318.0" stroke-width="12.0"/><path d="M552.2,332.6 C557.9,334.5 566.3,334.3 574.2,339.9 C582.0,345.6 578.4,347.1 582.9,354.5 C587.4,362.0 587.9,362.4 591.7,369.2 C595.4,375.9 596.0,377.8 597.5,380.8" stroke-width="11.2"/><path d="M117.8,443.8 C120.0,446.8 125.8,449.9 126.5,455.5 C127.3,461.1 122.2,463.1 120.7,465.7" stroke-width="16.8"/><path d="M253.6,429.2 C256.6,430.3 260.8,431.4 265.3,433.6 C269.8,435.9 269.7,436.9 271.2,438.0" stroke-width="16.8"/><path d="M290.2,429.2 C293.2,431.1 296.2,436.2 301.9,436.5 C307.5,436.9 309.5,432.2 312.1,430.7" stroke-width="16.8"/><path d="M221.5,443.8 C223.7,448.3 225.8,452.0 230.3,461.4 C234.8,470.7 235.3,471.7 239.0,480.4 C242.8,489.0 243.4,491.2 244.9,495.0" stroke-width="13.6"/><path d="M279.9,481.8 C281.1,484.8 285.1,487.5 284.3,493.5 C283.6,499.5 278.9,502.2 277.0,505.2" stroke-width="13.6"/><path d="M317.9,473.1 C318.7,477.5 319.3,482.3 320.8,490.6 C322.3,498.8 321.5,497.7 323.8,505.2 C326.0,512.7 328.1,516.1 329.6,519.8" stroke-width="12.8"/><path d="M279.9,550.5 C283.7,551.6 287.1,553.4 294.5,554.9 C302.0,556.4 302.0,557.1 309.2,556.3 C316.3,555.6 318.9,553.1 322.3,551.9" stroke-width="12.0"/><path d="M190.8,601.6 C194.2,602.4 198.0,605.7 204.0,604.5 C210.0,603.4 211.6,599.1 214.2,597.2" stroke-width="16.8"/><path d="M141.1,611.9 L155.7,616.2" stroke-width="15.2"/><path d="M170.4,645.5 C176.0,644.3 182.9,640.7 192.3,641.1 C201.6,641.4 203.1,645.4 206.9,646.9" stroke-width="12.0"/><path d="M403.2,462.8 C406.6,463.6 411.9,463.1 416.4,465.7 C420.9,468.4 419.6,471.2 420.7,473.1" stroke-width="16.8"/><path d="M479.2,402.9 L501.1,404.4" stroke-width="10.4"/><path d="M590.2,439.4 L603.4,442.4" stroke-width="16.0"/><path d="M515.7,483.3 C518.7,483.7 525.5,482.1 527.4,484.7 C529.3,487.4 524.1,491.3 523.0,493.5" stroke-width="15.2"/><path d="M559.5,490.6 C563.3,489.5 567.8,487.7 574.2,486.2 C580.5,484.7 582.9,481.4 584.4,484.7 C585.9,488.1 582.6,491.9 580.0,499.4 C577.4,506.8 575.7,510.2 574.2,514.0" stroke-width="13.6"/><path d="M445.6,499.4 C448.6,498.2 451.3,497.2 457.3,495.0 C463.3,492.7 466.0,491.7 469.0,490.6" stroke-width="12.8"/><path d="M442.7,515.4 C445.7,514.3 450.6,514.4 454.4,511.0 C458.1,507.7 456.5,504.5 457.3,502.3" stroke-width="12.8"/><path d="M355.0,465.7 C356.1,471.4 357.5,476.4 359.4,487.7 C361.3,498.9 359.7,500.2 362.3,509.6 C364.9,518.9 364.0,522.3 369.6,524.2 C375.2,526.1 374.9,519.5 384.2,516.9 C393.6,514.3 397.5,515.5 406.1,514.0 C414.8,512.5 414.8,511.8 417.8,511.0" stroke-width="12.0"/><path d="M436.8,540.3 C440.2,541.8 444.0,543.1 450.0,546.1 C456.0,549.1 457.6,550.4 460.2,551.9" stroke-width="12.8"/><path d="M475.5,568.0 L479.2,582.6" stroke-width="13.6"/><path d="M398.8,604.5 C401.8,605.3 409.0,604.5 410.5,607.5 C412.0,610.5 406.2,614.0 404.7,616.2" stroke-width="12.8"/><path d="M171.8,652.9 C177.1,653.3 184.0,654.4 192.3,654.4 C200.5,654.4 201.0,653.3 204.0,652.9" stroke-width="11.2"/><path d="M298.9,655.8 L301.9,663.1" stroke-width="14.4"/><path d="M326.7,667.5 L329.6,686.5" stroke-width="15.2"/><path d="M277.0,686.5 C279.6,687.6 281.6,687.5 287.2,690.9 C292.9,694.3 294.8,695.9 298.9,699.7 C303.0,703.4 302.2,704.0 303.3,705.5" stroke-width="12.0"/><path d="M166.0,705.5 C172.7,706.3 180.7,705.8 192.3,708.4 C203.9,711.1 203.8,712.0 211.3,715.7 C218.8,719.5 215.1,718.6 221.5,723.1 C227.9,727.5 232.4,730.7 236.1,733.3" stroke-width="13.6"/><path d="M133.8,743.5 C139.5,744.3 144.5,746.1 155.7,746.4 C167.0,746.8 166.4,742.7 177.7,745.0 C188.9,747.2 190.2,750.3 199.6,755.2 C208.9,760.1 204.8,764.0 214.2,764.0 C223.6,764.0 227.5,758.6 236.1,755.2 C244.7,751.8 244.8,751.9 247.8,750.8" stroke-width="12.0"/><path d="M160.1,794.6 C164.6,794.1 171.3,791.7 177.7,792.5 C184.0,793.2 183.1,796.3 185.0,797.6" stroke-width="13.6"/><path d="M94.4,810.7 C97.0,811.5 99.4,809.9 104.6,813.6 C109.9,817.4 109.2,820.8 114.8,825.3 C120.5,829.8 117.9,830.8 126.5,831.2 C135.1,831.5 138.3,827.2 148.4,826.8 C158.6,826.4 157.7,827.8 166.0,829.7 C174.2,831.6 176.8,833.0 180.6,834.1" stroke-width="12.8"/><path d="M94.4,869.2 C98.9,870.3 103.7,871.3 111.9,873.5 C120.2,875.8 119.0,876.0 126.5,877.9 C134.0,879.8 137.4,880.1 141.1,880.8" stroke-width="12.8"/></g></g>
<g filter="url(#bR2)"><g fill="none" stroke="rgb(217,26,0)" stroke-linecap="round" stroke-linejoin="round"><path d="M266.8,287.3 L253.6,301.9" stroke-width="10.4"/><path d="M332.5,281.5 C336.3,280.4 340.1,278.6 347.1,277.1 C354.2,275.6 356.7,276.0 360.0,275.6" stroke-width="9.6"/><path d="M345.7,325.3 L360.0,322.4" stroke-width="8.0"/><path d="M355.0,272.7 C358.7,271.6 360.2,270.2 369.6,268.3 C379.0,266.5 385.9,266.2 391.5,265.4" stroke-width="9.6"/><path d="M355.0,320.9 L360.8,329.7" stroke-width="7.2"/><path d="M523.0,166.1 C528.6,169.4 535.6,174.0 544.9,179.2 C554.3,184.5 555.8,184.7 559.5,186.5" stroke-width="11.2"/><path d="M582.9,293.2 L590.2,303.4" stroke-width="8.8"/><path d="M388.6,288.8 L406.1,296.1" stroke-width="9.6"/><path d="M505.5,304.9 C508.5,306.4 515.3,307.3 517.2,310.7 C519.0,314.1 513.9,316.1 512.8,318.0" stroke-width="8.0"/><path d="M552.2,332.6 C557.9,334.5 566.3,334.3 574.2,339.9 C582.0,345.6 578.4,347.1 582.9,354.5 C587.4,362.0 587.9,362.4 591.7,369.2 C595.4,375.9 596.0,377.8 597.5,380.8" stroke-width="7.2"/><path d="M117.8,443.8 C120.0,446.8 125.8,449.9 126.5,455.5 C127.3,461.1 122.2,463.1 120.7,465.7" stroke-width="12.8"/><path d="M253.6,429.2 C256.6,430.3 260.8,431.4 265.3,433.6 C269.8,435.9 269.7,436.9 271.2,438.0" stroke-width="12.8"/><path d="M290.2,429.2 C293.2,431.1 296.2,436.2 301.9,436.5 C307.5,436.9 309.5,432.2 312.1,430.7" stroke-width="12.8"/><path d="M221.5,443.8 C223.7,448.3 225.8,452.0 230.3,461.4 C234.8,470.7 235.3,471.7 239.0,480.4 C242.8,489.0 243.4,491.2 244.9,495.0" stroke-width="9.6"/><path d="M279.9,481.8 C281.1,484.8 285.1,487.5 284.3,493.5 C283.6,499.5 278.9,502.2 277.0,505.2" stroke-width="9.6"/><path d="M317.9,473.1 C318.7,477.5 319.3,482.3 320.8,490.6 C322.3,498.8 321.5,497.7 323.8,505.2 C326.0,512.7 328.1,516.1 329.6,519.8" stroke-width="8.8"/><path d="M279.9,550.5 C283.7,551.6 287.1,553.4 294.5,554.9 C302.0,556.4 302.0,557.1 309.2,556.3 C316.3,555.6 318.9,553.1 322.3,551.9" stroke-width="8.0"/><path d="M190.8,601.6 C194.2,602.4 198.0,605.7 204.0,604.5 C210.0,603.4 211.6,599.1 214.2,597.2" stroke-width="12.8"/><path d="M141.1,611.9 L155.7,616.2" stroke-width="11.2"/><path d="M170.4,645.5 C176.0,644.3 182.9,640.7 192.3,641.1 C201.6,641.4 203.1,645.4 206.9,646.9" stroke-width="8.0"/><path d="M403.2,462.8 C406.6,463.6 411.9,463.1 416.4,465.7 C420.9,468.4 419.6,471.2 420.7,473.1" stroke-width="12.8"/><path d="M479.2,402.9 L501.1,404.4" stroke-width="6.4"/><path d="M590.2,439.4 L603.4,442.4" stroke-width="12.0"/><path d="M515.7,483.3 C518.7,483.7 525.5,482.1 527.4,484.7 C529.3,487.4 524.1,491.3 523.0,493.5" stroke-width="11.2"/><path d="M559.5,490.6 C563.3,489.5 567.8,487.7 574.2,486.2 C580.5,484.7 582.9,481.4 584.4,484.7 C585.9,488.1 582.6,491.9 580.0,499.4 C577.4,506.8 575.7,510.2 574.2,514.0" stroke-width="9.6"/><path d="M445.6,499.4 C448.6,498.2 451.3,497.2 457.3,495.0 C463.3,492.7 466.0,491.7 469.0,490.6" stroke-width="8.8"/><path d="M442.7,515.4 C445.7,514.3 450.6,514.4 454.4,511.0 C458.1,507.7 456.5,504.5 457.3,502.3" stroke-width="8.8"/><path d="M355.0,465.7 C356.1,471.4 357.5,476.4 359.4,487.7 C361.3,498.9 359.7,500.2 362.3,509.6 C364.9,518.9 364.0,522.3 369.6,524.2 C375.2,526.1 374.9,519.5 384.2,516.9 C393.6,514.3 397.5,515.5 406.1,514.0 C414.8,512.5 414.8,511.8 417.8,511.0" stroke-width="8.0"/><path d="M436.8,540.3 C440.2,541.8 444.0,543.1 450.0,546.1 C456.0,549.1 457.6,550.4 460.2,551.9" stroke-width="8.8"/><path d="M475.5,568.0 L479.2,582.6" stroke-width="9.6"/><path d="M398.8,604.5 C401.8,605.3 409.0,604.5 410.5,607.5 C412.0,610.5 406.2,614.0 404.7,616.2" stroke-width="8.8"/><path d="M171.8,652.9 C177.1,653.3 184.0,654.4 192.3,654.4 C200.5,654.4 201.0,653.3 204.0,652.9" stroke-width="7.2"/><path d="M298.9,655.8 L301.9,663.1" stroke-width="10.4"/><path d="M326.7,667.5 L329.6,686.5" stroke-width="11.2"/><path d="M277.0,686.5 C279.6,687.6 281.6,687.5 287.2,690.9 C292.9,694.3 294.8,695.9 298.9,699.7 C303.0,703.4 302.2,704.0 303.3,705.5" stroke-width="8.0"/><path d="M166.0,705.5 C172.7,706.3 180.7,705.8 192.3,708.4 C203.9,711.1 203.8,712.0 211.3,715.7 C218.8,719.5 215.1,718.6 221.5,723.1 C227.9,727.5 232.4,730.7 236.1,733.3" stroke-width="9.6"/><path d="M133.8,743.5 C139.5,744.3 144.5,746.1 155.7,746.4 C167.0,746.8 166.4,742.7 177.7,745.0 C188.9,747.2 190.2,750.3 199.6,755.2 C208.9,760.1 204.8,764.0 214.2,764.0 C223.6,764.0 227.5,758.6 236.1,755.2 C244.7,751.8 244.8,751.9 247.8,750.8" stroke-width="8.0"/><path d="M160.1,794.6 C164.6,794.1 171.3,791.7 177.7,792.5 C184.0,793.2 183.1,796.3 185.0,797.6" stroke-width="9.6"/><path d="M94.4,810.7 C97.0,811.5 99.4,809.9 104.6,813.6 C109.9,817.4 109.2,820.8 114.8,825.3 C120.5,829.8 117.9,830.8 126.5,831.2 C135.1,831.5 138.3,827.2 148.4,826.8 C158.6,826.4 157.7,827.8 166.0,829.7 C174.2,831.6 176.8,833.0 180.6,834.1" stroke-width="8.8"/><path d="M94.4,869.2 C98.9,870.3 103.7,871.3 111.9,873.5 C120.2,875.8 119.0,876.0 126.5,877.9 C134.0,879.8 137.4,880.1 141.1,880.8" stroke-width="8.8"/></g></g>
<g filter="url(#bV1)"><g fill="none" stroke="rgb(112,31,0)" stroke-linecap="round" stroke-linejoin="round"><path d="M206.9,282.2 C212.5,283.0 219.1,285.0 228.8,285.1 C238.5,285.3 240.7,283.5 244.9,283.0" stroke-width="6.3"/><path d="M104.6,344.3 C108.4,346.6 110.6,350.8 119.2,353.1 C127.8,355.3 127.0,355.3 138.2,353.1 C149.5,350.8 154.4,349.6 163.1,344.3 C171.7,339.1 168.1,341.2 171.8,332.6 C175.6,324.0 180.7,318.6 177.7,310.7 C174.7,302.8 166.9,303.4 160.1,301.9 C153.4,300.4 153.6,304.1 151.4,304.9" stroke-width="6.3"/><path d="M195.2,296.1 C196.7,301.7 198.0,306.8 201.0,318.0 C204.0,329.3 204.3,328.7 206.9,339.9 C209.5,351.2 207.5,354.7 211.3,361.9 C215.0,369.0 218.9,366.2 221.5,367.7" stroke-width="5.4"/><path d="M250.7,318.0 C254.5,315.4 258.6,313.4 265.3,307.8 C272.1,302.2 271.4,300.6 277.0,296.1 C282.6,291.6 277.9,294.6 287.2,290.3 C296.6,286.0 306.8,282.1 313.5,279.3" stroke-width="6.3"/><path d="M262.4,310.7 C264.3,316.3 267.5,321.4 269.7,332.6 C272.0,343.9 270.8,348.9 271.2,354.5" stroke-width="5.4"/><path d="M313.5,279.3 C316.9,281.7 322.2,282.6 326.7,288.8 C331.2,295.0 329.9,299.7 331.1,303.4" stroke-width="6.3"/><path d="M101.7,332.6 L111.9,344.3" stroke-width="5.4"/><path d="M183.5,373.5 L186.4,391.1" stroke-width="4.5"/><path d="M317.9,231.8 C323.2,230.7 327.6,230.8 338.4,227.4 C349.2,224.1 354.5,220.9 360.0,218.7" stroke-width="7.2"/><path d="M413.4,262.5 L423.7,278.6" stroke-width="6.3"/><path d="M553.7,205.5 L552.2,215.7" stroke-width="3.6"/><path d="M355.0,400.0 C360.6,397.7 366.4,396.7 376.9,391.1 C387.4,385.4 385.8,385.8 395.9,377.9 C406.0,370.1 404.4,370.9 416.4,360.4 C428.4,349.9 434.4,346.0 442.7,337.0 C450.9,328.0 447.0,328.3 448.5,325.3" stroke-width="8.1"/><path d="M448.5,325.3 C450.8,321.6 451.3,316.3 457.3,310.7 C463.3,305.1 464.4,307.2 471.9,303.4 C479.4,299.7 479.0,299.9 486.5,296.1 C494.0,292.4 495.1,290.3 501.1,288.8 C507.1,287.3 507.6,289.9 509.9,290.3" stroke-width="6.3"/><path d="M508.4,332.6 C514.0,333.4 519.1,332.2 530.3,335.6 C541.6,338.9 542.1,340.2 552.2,345.8 C562.4,351.4 563.0,351.5 569.8,357.5 C576.5,363.5 573.7,362.4 578.5,369.2 C583.4,375.9 586.1,380.0 588.8,383.8" stroke-width="9.0"/><path d="M355.0,318.0 C360.6,317.3 365.7,314.0 376.9,315.1 C388.2,316.2 383.8,321.7 398.8,322.4 C413.8,323.2 423.4,319.5 435.4,318.0 C447.3,316.5 443.0,316.9 445.6,316.6" stroke-width="6.3"/><path d="M413.4,262.5 C411.6,256.1 407.3,249.7 406.1,237.7 C405.0,225.7 405.3,227.0 409.1,215.7 C412.8,204.5 415.1,203.2 420.7,193.8 C426.4,184.5 425.4,186.7 431.0,179.2 C436.6,171.7 439.7,168.4 442.7,164.6" stroke-width="12.6"/><path d="M471.9,278.6 C473.8,280.8 473.6,285.5 479.2,287.3 C484.8,289.2 490.1,286.3 493.8,285.9" stroke-width="5.4"/><path d="M515.7,193.8 C523.2,195.0 530.0,198.2 544.9,198.2 C559.9,198.2 562.9,193.8 574.2,193.8 C585.4,193.8 585.0,197.1 588.8,198.2" stroke-width="5.4"/><path d="M461.7,369.2 C462.8,372.9 464.5,375.9 466.0,383.8 C467.5,391.7 467.1,395.8 467.5,400.0" stroke-width="4.5"/><path d="M571.2,171.9 L574.2,188.0" stroke-width="5.4"/><path d="M104.6,487.7 C110.2,484.7 115.3,482.0 126.5,476.0 C137.8,470.0 137.2,470.7 148.4,464.3 C159.7,457.9 159.1,458.3 170.4,451.1 C181.6,444.0 181.0,443.3 192.3,436.5 C203.5,429.8 202.9,430.1 214.2,424.8 C225.4,419.6 223.0,419.1 236.1,416.1 C249.2,413.1 250.3,414.3 265.3,413.1 C280.3,412.0 279.6,411.3 294.5,411.7 C309.5,412.1 307.0,414.2 323.8,414.6 C340.5,415.0 350.7,413.5 360.0,413.1" stroke-width="13.5"/><path d="M202.5,468.7 C201.8,472.0 199.6,475.4 199.6,481.8 C199.6,488.2 201.8,490.5 202.5,493.5" stroke-width="4.5"/><path d="M260.9,528.6 C265.8,528.2 272.8,527.5 279.9,527.1 C287.1,526.7 286.5,527.1 288.7,527.1" stroke-width="5.4"/><path d="M174.7,572.4 C175.9,576.9 176.9,581.7 179.1,589.9 C181.4,598.2 182.0,597.1 183.5,604.5 C185.0,612.0 184.6,615.4 185.0,619.2" stroke-width="4.5"/><path d="M332.5,568.0 C334.8,571.8 336.1,577.0 341.3,582.6 C346.5,588.2 350.0,588.1 353.0,589.9" stroke-width="4.5"/><path d="M98.8,614.8 C102.1,617.4 104.8,620.1 111.9,625.0 C119.0,629.9 117.2,631.5 126.5,633.8 C135.9,636.0 135.3,635.6 148.4,633.8 C161.6,631.9 162.7,629.1 177.7,626.5 C192.6,623.8 191.9,624.3 206.9,623.5 C221.9,622.8 221.1,623.9 236.1,623.5 C251.1,623.2 257.8,622.5 265.3,622.1" stroke-width="11.7"/><path d="M129.4,592.9 C134.3,593.2 141.7,593.6 148.4,594.3 C155.2,595.1 153.9,595.4 155.7,595.8" stroke-width="4.5"/><path d="M98.8,582.6 L109.0,570.9" stroke-width="4.5"/><path d="M284.3,575.3 L287.2,589.9" stroke-width="4.5"/><path d="M230.3,531.5 L227.3,546.1" stroke-width="4.5"/><path d="M279.9,589.9 C279.2,595.6 277.0,602.5 277.0,611.9 C277.0,621.2 279.2,622.7 279.9,626.5" stroke-width="4.5"/><path d="M438.3,436.5 C438.3,442.1 438.7,448.3 438.3,458.4 C437.9,468.6 438.3,466.6 436.8,476.0 C435.3,485.3 434.3,485.2 432.4,495.0 C430.6,504.7 429.5,506.1 429.5,514.0 C429.5,521.8 428.3,521.5 432.4,525.6 C436.6,529.8 438.5,527.8 445.6,530.0 C452.7,532.3 454.2,531.0 460.2,534.4 C466.2,537.8 464.8,539.4 469.0,543.2 C473.1,546.9 472.5,546.8 476.3,549.0 C480.0,551.3 481.7,551.2 483.6,551.9" stroke-width="11.7"/><path d="M445.6,478.9 C452.3,478.5 457.6,477.4 471.9,477.4 C486.1,477.4 489.9,477.8 501.1,478.9 C512.3,480.0 512.0,481.1 515.7,481.8" stroke-width="7.2"/><path d="M372.5,490.6 C374.8,491.7 378.3,491.2 381.3,495.0 C384.3,498.7 383.5,502.6 384.2,505.2" stroke-width="5.4"/><path d="M574.2,465.7 C579.8,465.6 585.6,465.4 596.1,465.0 C606.6,464.6 610.2,464.5 615.1,464.3" stroke-width="11.7"/><path d="M483.6,438.0 L501.1,439.4" stroke-width="4.5"/><path d="M486.5,451.1 L501.1,449.7" stroke-width="4.5"/><path d="M479.2,511.0 C480.3,514.0 484.7,518.2 483.6,522.7 C482.4,527.2 477.1,527.1 474.8,528.6" stroke-width="4.5"/><path d="M600.5,481.8 C600.8,487.1 600.4,493.3 601.9,502.3 C603.4,511.3 605.2,513.1 606.3,516.9" stroke-width="10.8"/><path d="M355.0,597.2 C358.0,599.1 361.8,600.8 366.7,604.5 C371.6,608.3 373.2,608.9 374.0,611.9 C374.7,614.8 374.5,615.5 369.6,616.2 C364.7,617.0 358.7,615.1 355.0,614.8" stroke-width="5.4"/><path d="M391.5,560.7 C393.4,564.5 395.8,567.8 398.8,575.3 C401.8,582.8 402.1,586.2 403.2,589.9" stroke-width="4.5"/><path d="M433.9,557.8 C436.9,558.5 439.6,560.0 445.6,560.7 C451.6,561.5 454.3,560.7 457.3,560.7" stroke-width="4.5"/><path d="M355.0,419.0 C358.0,421.6 364.4,422.9 366.7,429.2 C368.9,435.6 364.5,440.1 363.8,443.8" stroke-width="4.5"/><path d="M391.5,426.3 L403.2,435.1" stroke-width="4.5"/><path d="M460.2,560.7 L463.1,575.3" stroke-width="6.3"/><path d="M132.4,654.4 C131.2,660.8 129.5,669.1 128.0,679.2 C126.5,689.3 126.9,690.1 126.5,693.8" stroke-width="4.5"/><path d="M135.3,728.9 C138.7,730.0 142.1,731.0 148.4,733.3 C154.8,735.5 154.5,738.0 160.1,737.7 C165.7,737.3 165.1,733.3 170.4,731.8 C175.6,730.3 175.0,730.3 180.6,731.8 C186.2,733.3 185.5,735.8 192.3,737.7 C199.0,739.5 200.5,737.3 206.9,739.1 C213.3,741.0 211.9,742.3 217.1,745.0 C222.4,747.6 224.7,748.2 227.3,749.4" stroke-width="10.8"/><path d="M97.3,728.9 C101.1,728.9 106.3,729.6 111.9,728.9 C117.5,728.1 117.3,726.7 119.2,726.0" stroke-width="5.4"/><path d="M221.5,690.9 C225.2,693.2 231.6,695.2 236.1,699.7 C240.6,704.2 239.0,704.3 239.0,708.4 C239.0,712.6 236.9,713.9 236.1,715.7" stroke-width="4.5"/><path d="M243.4,689.4 L240.5,699.7" stroke-width="4.5"/><path d="M218.6,708.4 L230.3,711.4" stroke-width="4.5"/><path d="M262.4,696.8 C266.9,698.6 271.7,701.1 279.9,704.1 C288.2,707.1 290.8,707.3 294.5,708.4" stroke-width="5.4"/><path d="M272.6,654.4 C276.4,657.0 279.7,658.2 287.2,664.6 C294.7,671.0 296.2,671.7 301.9,679.2 C307.5,686.7 306.5,685.6 309.2,693.8 C311.8,702.1 311.3,706.9 312.1,711.4" stroke-width="9.9"/><path d="M236.1,669.0 C241.7,668.6 246.8,666.8 258.0,667.5 C269.3,668.3 274.3,670.8 279.9,671.9" stroke-width="6.3"/><path d="M145.5,762.5 C151.9,762.5 158.4,761.8 170.4,762.5 C182.3,763.2 185.2,762.4 192.3,765.4 C199.4,768.4 196.2,768.2 198.1,774.2 C200.0,780.2 199.2,785.1 199.6,788.8" stroke-width="5.4"/><path d="M138.2,807.8 C140.8,808.9 142.1,810.7 148.4,812.2 C154.8,813.7 154.8,812.5 163.1,813.6 C171.3,814.8 173.1,816.2 180.6,816.6 C188.1,816.9 187.0,816.6 192.3,815.1 C197.5,813.6 198.8,811.8 201.0,810.7" stroke-width="9.9"/><path d="M95.8,752.3 L104.6,749.4" stroke-width="4.5"/><path d="M95.8,850.2 C101.8,849.4 107.6,847.6 119.2,847.2 C130.8,846.9 131.8,846.8 141.1,848.7 C150.5,850.6 146.4,852.3 155.7,854.5 C165.1,856.8 168.3,856.3 177.7,857.5 C187.0,858.6 188.5,858.6 192.3,858.9" stroke-width="13.5"/><path d="M98.8,883.8 C104.0,884.1 108.4,883.4 119.2,885.2 C130.1,887.1 135.5,889.6 141.1,891.1" stroke-width="7.2"/><path d="M163.1,883.8 L177.7,886.7" stroke-width="5.4"/><path d="M355.0,650.0 C356.5,655.6 359.7,660.7 360.8,671.9 C362.0,683.2 359.8,688.2 359.4,693.8" stroke-width="8.1"/></g><g fill="none" stroke="rgb(112,31,0)" stroke-linecap="round" stroke-linejoin="round"><path d="M218.6,366.2 L225.9,372.1" stroke-width="7.0"/><path d="M285.8,310.7 C288.0,312.6 290.0,316.9 294.5,318.0 C299.0,319.1 301.1,315.8 303.3,315.1" stroke-width="7.0"/><path d="M294.5,382.3 L294.5,400.0" stroke-width="7.0"/><path d="M168.9,388.1 L171.8,392.5" stroke-width="6.2"/><path d="M258.0,383.8 L259.5,391.1" stroke-width="7.0"/><path d="M355.0,252.3 C358.7,252.3 360.2,251.9 369.6,252.3 C379.0,252.6 380.3,251.1 391.5,253.7 C402.8,256.4 404.1,260.6 413.4,262.5 C422.8,264.4 418.7,263.7 428.1,261.0 C437.4,258.4 441.7,254.5 450.0,252.3 C458.2,250.0 457.6,252.3 460.2,252.3" stroke-width="9.4"/><path d="M514.3,193.8 C515.8,198.3 517.5,203.1 520.1,211.4 C522.7,219.6 523.4,222.2 524.5,226.0" stroke-width="8.6"/><path d="M612.9,249.4 C608.6,250.8 604.1,251.8 596.1,255.2 C588.0,258.6 587.8,258.4 581.5,262.5 C575.1,266.6 577.6,267.9 571.2,271.3 C564.9,274.6 565.2,273.0 556.6,275.6 C548.0,278.3 545.1,278.1 537.6,281.5 C530.1,284.9 530.0,286.9 527.4,288.8" stroke-width="8.6"/><path d="M454.4,186.5 C453.2,190.3 450.7,193.6 450.0,201.1 C449.2,208.6 448.8,210.1 451.4,215.7 C454.1,221.4 457.9,221.2 460.2,223.1" stroke-width="7.8"/><path d="M544.9,161.7 C548.7,162.4 553.9,161.6 559.5,164.6 C565.2,167.6 564.2,168.9 566.9,173.4 C569.5,177.9 569.0,179.9 569.8,182.1" stroke-width="7.0"/><path d="M549.3,205.5 L566.9,204.1" stroke-width="6.2"/><path d="M469.0,347.2 C473.5,345.0 476.4,342.2 486.5,338.5 C496.6,334.7 502.8,334.1 508.4,332.6" stroke-width="7.8"/><path d="M601.9,339.9 C603.0,347.4 604.2,353.8 606.3,369.2 C608.4,384.6 609.0,392.1 610.0,400.0" stroke-width="8.6"/><path d="M523.0,372.1 C524.9,374.7 530.3,377.4 530.3,382.3 C530.3,387.2 524.9,388.8 523.0,391.1" stroke-width="6.2"/><path d="M556.6,386.7 L562.5,396.9" stroke-width="6.2"/><path d="M272.6,413.1 C278.2,412.8 281.4,411.3 294.5,411.7 C307.7,412.1 307.0,414.0 323.8,414.6 C340.5,415.2 350.7,414.1 360.0,413.9" stroke-width="7.8"/><path d="M106.1,487.7 C104.8,483.9 101.5,481.7 101.0,473.1 C100.4,464.4 103.1,458.9 103.9,454.1" stroke-width="9.4"/><path d="M206.9,461.4 C209.1,464.4 210.8,465.6 215.6,473.1 C220.5,480.5 220.6,482.3 225.9,490.6 C231.1,498.8 231.6,498.8 236.1,505.2 C240.6,511.6 241.5,512.8 243.4,515.4" stroke-width="6.2"/><path d="M279.9,448.2 L277.0,462.8" stroke-width="6.2"/><path d="M323.8,414.6 C324.1,420.2 325.2,428.3 325.2,436.5 C325.2,444.8 324.1,444.1 323.8,446.8" stroke-width="7.0"/><path d="M236.1,556.3 C232.4,558.6 229.0,560.6 221.5,565.1 C214.0,569.6 214.4,569.4 206.9,573.9 C199.4,578.4 199.0,577.8 192.3,582.6 C185.5,587.5 183.6,590.2 180.6,592.9" stroke-width="7.0"/><path d="M126.5,531.5 C125.8,535.2 125.5,540.5 123.6,546.1 C121.7,551.7 120.3,551.5 119.2,553.4" stroke-width="7.0"/><path d="M256.6,570.9 C255.8,575.1 255.1,580.6 253.6,587.0 C252.1,593.4 251.5,593.5 250.7,595.8" stroke-width="6.2"/><path d="M307.7,572.4 C308.4,578.8 308.4,585.3 310.6,597.2 C312.9,609.2 313.1,609.8 316.5,619.2 C319.8,628.5 322.6,625.9 323.8,633.8 C324.9,641.7 321.6,645.8 320.8,650.0" stroke-width="7.0"/><path d="M192.3,625.0 C197.9,624.6 202.9,623.7 214.2,623.5 C225.4,623.4 230.5,624.1 236.1,624.3" stroke-width="7.8"/><path d="M98.8,614.8 C104.0,618.5 111.0,623.8 119.2,629.4 C127.5,635.0 127.9,634.8 130.9,636.7" stroke-width="6.2"/><path d="M438.3,436.5 C435.7,432.8 431.8,427.2 428.1,421.9 C424.3,416.7 424.8,417.6 423.7,416.1" stroke-width="7.0"/><path d="M355.0,541.7 C358.7,540.6 362.1,539.2 369.6,537.3 C377.1,535.5 376.7,536.7 384.2,534.4 C391.7,532.2 391.3,530.8 398.8,528.6 C406.3,526.3 405.9,526.8 413.4,525.6 C420.9,524.5 424.3,524.6 428.1,524.2" stroke-width="7.8"/><path d="M406.1,451.1 C409.9,451.5 413.6,450.7 420.7,452.6 C427.9,454.5 430.5,456.9 433.9,458.4" stroke-width="7.0"/><path d="M378.4,505.2 C381.0,505.6 384.1,505.2 388.6,506.7 C393.1,508.2 394.0,509.9 395.9,511.0" stroke-width="7.0"/><path d="M512.8,400.0 C512.8,402.2 510.9,403.9 512.8,408.8 C514.7,413.6 515.6,414.5 520.1,419.0 C524.6,423.5 525.1,421.8 530.3,426.3 C535.6,430.8 536.4,432.0 540.6,436.5 C544.7,441.0 544.9,442.0 546.4,443.8" stroke-width="7.8"/><path d="M471.9,426.3 C475.6,424.4 479.0,422.0 486.5,419.0 C494.0,416.0 494.4,417.2 501.1,414.6 C507.8,412.0 509.8,410.3 512.8,408.8" stroke-width="7.0"/><path d="M559.5,400.0 C560.3,403.7 559.5,407.9 562.5,414.6 C565.5,421.4 567.9,420.7 571.2,426.3 C574.6,431.9 573.7,431.3 575.6,436.5 C577.5,441.8 577.8,444.1 578.5,446.8" stroke-width="7.0"/><path d="M578.5,421.9 L571.2,426.3" stroke-width="6.2"/><path d="M114.8,658.8 C113.3,662.1 112.0,665.9 109.0,671.9 C106.0,677.9 104.6,679.5 103.1,682.1" stroke-width="7.0"/><path d="M148.4,664.6 C149.2,670.2 150.6,675.3 151.4,686.5 C152.1,697.8 151.4,702.8 151.4,708.4" stroke-width="7.0"/><path d="M309.2,654.4 C311.4,657.0 316.4,659.7 317.9,664.6 C319.4,669.5 317.2,669.6 315.0,673.4 C312.8,677.1 310.7,677.7 309.2,679.2" stroke-width="7.0"/><path d="M148.4,761.0 C149.6,762.2 152.8,762.8 152.8,765.4 C152.8,768.0 149.6,769.8 148.4,771.3" stroke-width="6.2"/><path d="M135.3,785.9 C138.7,786.3 141.3,787.7 148.4,787.3 C155.6,787.0 155.6,785.9 163.1,784.4 C170.5,782.9 170.2,782.2 177.7,781.5 C185.2,780.7 188.5,781.5 192.3,781.5" stroke-width="7.8"/><path d="M98.8,766.9 C99.5,770.6 98.3,776.2 101.7,781.5 C105.1,786.7 107.4,783.6 111.9,787.3 C116.4,791.1 117.3,793.9 119.2,796.1" stroke-width="7.0"/><path d="M101.7,886.7 C104.3,887.8 106.7,888.4 111.9,891.1 C117.2,893.7 118.0,894.6 122.1,896.9 C126.3,899.2 126.5,899.2 128.0,900.0" stroke-width="7.0"/></g><g fill="none" stroke="rgb(112,31,0)" stroke-linecap="round" stroke-linejoin="round"><path d="M271.2,354.5 C274.5,356.0 278.3,360.4 284.3,360.4 C290.3,360.4 291.9,356.0 294.5,354.5" stroke-width="8.0"/><path d="M331.8,303.4 C332.3,309.0 334.3,316.3 333.7,325.3 C333.1,334.3 330.7,335.1 329.6,338.5" stroke-width="8.6"/><path d="M316.5,331.2 L329.6,333.4" stroke-width="8.0"/><path d="M294.5,382.3 C300.2,378.9 305.2,375.1 316.5,369.2 C327.7,363.2 332.8,361.6 338.4,358.9" stroke-width="8.6"/><path d="M423.7,278.6 C425.9,281.6 428.9,283.7 432.4,290.3 C436.0,296.8 436.2,300.6 437.5,304.1" stroke-width="8.0"/><path d="M524.5,226.0 C525.4,229.3 528.5,233.1 528.1,239.1 C527.8,245.1 526.8,243.0 523.0,249.4 C519.3,255.7 517.3,257.2 513.5,264.0 C509.8,270.7 509.7,269.3 508.4,275.6 C507.1,282.0 508.4,285.4 508.4,288.8" stroke-width="9.2"/><path d="M530.3,239.9 C534.8,239.7 540.4,240.8 547.9,239.1 C555.3,237.4 555.0,236.7 559.5,233.3 C564.0,229.9 563.9,227.8 565.4,226.0" stroke-width="8.6"/><path d="M463.1,221.6 C465.4,223.5 467.0,226.3 471.9,228.9 C476.8,231.5 479.5,231.1 482.1,231.8" stroke-width="9.2"/><path d="M610.0,186.5 C609.4,190.3 609.8,194.0 607.8,201.1 C605.7,208.3 603.4,210.9 601.9,214.3" stroke-width="8.6"/><path d="M508.4,332.6 C514.0,333.4 519.1,332.2 530.3,335.6 C541.6,338.9 542.1,340.2 552.2,345.8 C562.4,351.4 563.0,351.5 569.8,357.5 C576.5,363.5 573.7,362.4 578.5,369.2 C583.4,375.9 582.4,377.8 588.8,383.8 C595.1,389.8 597.4,388.4 603.4,392.5 C609.4,396.7 609.9,398.1 612.1,400.0" stroke-width="8.0"/><path d="M597.5,307.8 C597.9,312.3 597.9,317.1 599.0,325.3 C600.1,333.6 601.2,336.2 601.9,339.9" stroke-width="8.0"/><path d="M489.4,369.2 C490.9,372.2 492.6,375.6 495.3,380.8 C497.9,386.1 498.5,387.4 499.6,389.6" stroke-width="8.0"/><path d="M360.8,293.9 L374.0,296.1" stroke-width="13.4"/><path d="M369.6,296.1 C370.0,298.4 369.6,301.1 371.1,304.9 C372.6,308.6 374.3,309.2 375.5,310.7" stroke-width="9.8"/><path d="M158.7,502.3 C162.0,504.5 165.4,506.2 171.8,511.0 C178.2,515.9 179.0,514.1 183.5,521.3 C188.0,528.4 186.7,530.9 189.4,538.8 C192.0,546.7 192.6,548.6 193.7,551.9" stroke-width="8.6"/><path d="M247.8,440.9 C248.5,445.4 248.1,450.9 250.7,458.4 C253.3,465.9 255.4,463.4 258.0,470.1 C260.6,476.9 260.2,481.0 260.9,484.7" stroke-width="8.0"/><path d="M317.9,446.8 C314.9,450.5 310.7,452.7 306.2,461.4 C301.7,470.0 302.3,469.9 300.4,480.4 C298.5,490.8 300.4,492.9 298.9,502.3 C297.4,511.6 297.2,510.5 294.5,516.9 C291.9,523.3 290.2,524.5 288.7,527.1" stroke-width="8.6"/><path d="M326.7,446.8 C328.9,451.6 331.3,456.0 335.5,465.7 C339.6,475.5 339.8,475.4 342.8,484.7 C345.8,494.1 346.0,497.8 347.1,502.3" stroke-width="8.0"/><path d="M332.5,492.0 L341.3,490.6" stroke-width="8.6"/><path d="M332.5,540.3 C335.5,539.7 337.2,538.1 344.2,538.1 C351.3,538.1 356.0,539.7 360.0,540.3" stroke-width="10.4"/><path d="M317.9,622.1 C319.8,625.1 324.5,627.8 325.2,633.8 C326.0,639.8 322.0,642.5 320.8,645.5" stroke-width="7.4"/><path d="M438.3,436.5 C440.2,432.8 441.5,428.7 445.6,421.9 C449.7,415.2 449.9,415.5 454.4,410.2 C458.8,405.0 460.9,403.7 463.1,401.5" stroke-width="8.0"/><path d="M355.0,541.7 C358.7,540.6 362.1,539.2 369.6,537.3 C377.1,535.5 380.5,535.2 384.2,534.4" stroke-width="7.4"/><path d="M363.8,448.2 C366.4,450.8 366.9,456.6 374.0,458.4 C381.1,460.3 383.3,457.4 391.5,455.5 C399.8,453.6 402.4,452.3 406.1,451.1" stroke-width="8.0"/><path d="M374.0,458.4 L369.6,470.1" stroke-width="7.4"/><path d="M606.3,400.0 C607.8,403.7 609.7,407.9 612.1,414.6 C614.6,421.4 614.9,423.3 615.8,426.3" stroke-width="10.4"/><path d="M177.7,664.6 C179.5,667.2 183.5,668.8 185.0,674.8 C186.5,680.8 185.0,682.0 183.5,688.0 C182.0,694.0 180.2,695.6 179.1,698.2" stroke-width="9.8"/><path d="M190.8,674.8 C192.7,677.8 195.9,681.7 198.1,686.5 C200.4,691.4 199.2,692.0 199.6,693.8" stroke-width="9.2"/><path d="M185.0,674.8 L204.0,677.8" stroke-width="8.0"/><path d="M135.3,728.9 C138.7,730.0 142.1,731.0 148.4,733.3 C154.8,735.5 154.5,738.0 160.1,737.7 C165.7,737.3 165.1,733.3 170.4,731.8 C175.6,730.3 175.0,730.3 180.6,731.8 C186.2,733.3 185.5,735.8 192.3,737.7 C199.0,739.5 200.5,737.3 206.9,739.1 C213.3,741.0 211.9,742.3 217.1,745.0 C222.4,747.6 224.7,748.2 227.3,749.4" stroke-width="8.0"/><path d="M195.2,727.4 C197.4,729.3 201.0,731.7 204.0,734.7 C207.0,737.7 206.1,738.0 206.9,739.1" stroke-width="7.4"/><path d="M138.2,807.8 C140.8,808.9 142.1,810.7 148.4,812.2 C154.8,813.7 154.8,812.5 163.1,813.6 C171.3,814.8 176.1,815.8 180.6,816.6" stroke-width="8.0"/><path d="M94.4,825.3 L97.3,832.6" stroke-width="9.8"/></g></g>
<g filter="url(#bV2)"><g fill="none" stroke="rgb(79,20,0)" stroke-linecap="round" stroke-linejoin="round"><path d="M218.6,366.2 L225.9,372.1" stroke-width="4.0"/><path d="M285.8,310.7 C288.0,312.6 290.0,316.9 294.5,318.0 C299.0,319.1 301.1,315.8 303.3,315.1" stroke-width="4.0"/><path d="M294.5,382.3 L294.5,400.0" stroke-width="4.0"/><path d="M168.9,388.1 L171.8,392.5" stroke-width="3.2"/><path d="M258.0,383.8 L259.5,391.1" stroke-width="4.0"/><path d="M355.0,252.3 C358.7,252.3 360.2,251.9 369.6,252.3 C379.0,252.6 380.3,251.1 391.5,253.7 C402.8,256.4 404.1,260.6 413.4,262.5 C422.8,264.4 418.7,263.7 428.1,261.0 C437.4,258.4 441.7,254.5 450.0,252.3 C458.2,250.0 457.6,252.3 460.2,252.3" stroke-width="6.4"/><path d="M514.3,193.8 C515.8,198.3 517.5,203.1 520.1,211.4 C522.7,219.6 523.4,222.2 524.5,226.0" stroke-width="5.6"/><path d="M612.9,249.4 C608.6,250.8 604.1,251.8 596.1,255.2 C588.0,258.6 587.8,258.4 581.5,262.5 C575.1,266.6 577.6,267.9 571.2,271.3 C564.9,274.6 565.2,273.0 556.6,275.6 C548.0,278.3 545.1,278.1 537.6,281.5 C530.1,284.9 530.0,286.9 527.4,288.8" stroke-width="5.6"/><path d="M454.4,186.5 C453.2,190.3 450.7,193.6 450.0,201.1 C449.2,208.6 448.8,210.1 451.4,215.7 C454.1,221.4 457.9,221.2 460.2,223.1" stroke-width="4.8"/><path d="M544.9,161.7 C548.7,162.4 553.9,161.6 559.5,164.6 C565.2,167.6 564.2,168.9 566.9,173.4 C569.5,177.9 569.0,179.9 569.8,182.1" stroke-width="4.0"/><path d="M549.3,205.5 L566.9,204.1" stroke-width="3.2"/><path d="M469.0,347.2 C473.5,345.0 476.4,342.2 486.5,338.5 C496.6,334.7 502.8,334.1 508.4,332.6" stroke-width="4.8"/><path d="M601.9,339.9 C603.0,347.4 604.2,353.8 606.3,369.2 C608.4,384.6 609.0,392.1 610.0,400.0" stroke-width="5.6"/><path d="M523.0,372.1 C524.9,374.7 530.3,377.4 530.3,382.3 C530.3,387.2 524.9,388.8 523.0,391.1" stroke-width="3.2"/><path d="M556.6,386.7 L562.5,396.9" stroke-width="3.2"/><path d="M272.6,413.1 C278.2,412.8 281.4,411.3 294.5,411.7 C307.7,412.1 307.0,414.0 323.8,414.6 C340.5,415.2 350.7,414.1 360.0,413.9" stroke-width="4.8"/><path d="M106.1,487.7 C104.8,483.9 101.5,481.7 101.0,473.1 C100.4,464.4 103.1,458.9 103.9,454.1" stroke-width="6.4"/><path d="M206.9,461.4 C209.1,464.4 210.8,465.6 215.6,473.1 C220.5,480.5 220.6,482.3 225.9,490.6 C231.1,498.8 231.6,498.8 236.1,505.2 C240.6,511.6 241.5,512.8 243.4,515.4" stroke-width="3.2"/><path d="M279.9,448.2 L277.0,462.8" stroke-width="3.2"/><path d="M323.8,414.6 C324.1,420.2 325.2,428.3 325.2,436.5 C325.2,444.8 324.1,444.1 323.8,446.8" stroke-width="4.0"/><path d="M236.1,556.3 C232.4,558.6 229.0,560.6 221.5,565.1 C214.0,569.6 214.4,569.4 206.9,573.9 C199.4,578.4 199.0,577.8 192.3,582.6 C185.5,587.5 183.6,590.2 180.6,592.9" stroke-width="4.0"/><path d="M126.5,531.5 C125.8,535.2 125.5,540.5 123.6,546.1 C121.7,551.7 120.3,551.5 119.2,553.4" stroke-width="4.0"/><path d="M256.6,570.9 C255.8,575.1 255.1,580.6 253.6,587.0 C252.1,593.4 251.5,593.5 250.7,595.8" stroke-width="3.2"/><path d="M307.7,572.4 C308.4,578.8 308.4,585.3 310.6,597.2 C312.9,609.2 313.1,609.8 316.5,619.2 C319.8,628.5 322.6,625.9 323.8,633.8 C324.9,641.7 321.6,645.8 320.8,650.0" stroke-width="4.0"/><path d="M192.3,625.0 C197.9,624.6 202.9,623.7 214.2,623.5 C225.4,623.4 230.5,624.1 236.1,624.3" stroke-width="4.8"/><path d="M98.8,614.8 C104.0,618.5 111.0,623.8 119.2,629.4 C127.5,635.0 127.9,634.8 130.9,636.7" stroke-width="3.2"/><path d="M438.3,436.5 C435.7,432.8 431.8,427.2 428.1,421.9 C424.3,416.7 424.8,417.6 423.7,416.1" stroke-width="4.0"/><path d="M355.0,541.7 C358.7,540.6 362.1,539.2 369.6,537.3 C377.1,535.5 376.7,536.7 384.2,534.4 C391.7,532.2 391.3,530.8 398.8,528.6 C406.3,526.3 405.9,526.8 413.4,525.6 C420.9,524.5 424.3,524.6 428.1,524.2" stroke-width="4.8"/><path d="M406.1,451.1 C409.9,451.5 413.6,450.7 420.7,452.6 C427.9,454.5 430.5,456.9 433.9,458.4" stroke-width="4.0"/><path d="M378.4,505.2 C381.0,505.6 384.1,505.2 388.6,506.7 C393.1,508.2 394.0,509.9 395.9,511.0" stroke-width="4.0"/><path d="M512.8,400.0 C512.8,402.2 510.9,403.9 512.8,408.8 C514.7,413.6 515.6,414.5 520.1,419.0 C524.6,423.5 525.1,421.8 530.3,426.3 C535.6,430.8 536.4,432.0 540.6,436.5 C544.7,441.0 544.9,442.0 546.4,443.8" stroke-width="4.8"/><path d="M471.9,426.3 C475.6,424.4 479.0,422.0 486.5,419.0 C494.0,416.0 494.4,417.2 501.1,414.6 C507.8,412.0 509.8,410.3 512.8,408.8" stroke-width="4.0"/><path d="M559.5,400.0 C560.3,403.7 559.5,407.9 562.5,414.6 C565.5,421.4 567.9,420.7 571.2,426.3 C574.6,431.9 573.7,431.3 575.6,436.5 C577.5,441.8 577.8,444.1 578.5,446.8" stroke-width="4.0"/><path d="M578.5,421.9 L571.2,426.3" stroke-width="3.2"/><path d="M114.8,658.8 C113.3,662.1 112.0,665.9 109.0,671.9 C106.0,677.9 104.6,679.5 103.1,682.1" stroke-width="4.0"/><path d="M148.4,664.6 C149.2,670.2 150.6,675.3 151.4,686.5 C152.1,697.8 151.4,702.8 151.4,708.4" stroke-width="4.0"/><path d="M309.2,654.4 C311.4,657.0 316.4,659.7 317.9,664.6 C319.4,669.5 317.2,669.6 315.0,673.4 C312.8,677.1 310.7,677.7 309.2,679.2" stroke-width="4.0"/><path d="M148.4,761.0 C149.6,762.2 152.8,762.8 152.8,765.4 C152.8,768.0 149.6,769.8 148.4,771.3" stroke-width="3.2"/><path d="M135.3,785.9 C138.7,786.3 141.3,787.7 148.4,787.3 C155.6,787.0 155.6,785.9 163.1,784.4 C170.5,782.9 170.2,782.2 177.7,781.5 C185.2,780.7 188.5,781.5 192.3,781.5" stroke-width="4.8"/><path d="M98.8,766.9 C99.5,770.6 98.3,776.2 101.7,781.5 C105.1,786.7 107.4,783.6 111.9,787.3 C116.4,791.1 117.3,793.9 119.2,796.1" stroke-width="4.0"/><path d="M101.7,886.7 C104.3,887.8 106.7,888.4 111.9,891.1 C117.2,893.7 118.0,894.6 122.1,896.9 C126.3,899.2 126.5,899.2 128.0,900.0" stroke-width="4.0"/></g><g fill="none" stroke="rgb(79,20,0)" stroke-linecap="round" stroke-linejoin="round"><path d="M271.2,354.5 C274.5,356.0 278.3,360.4 284.3,360.4 C290.3,360.4 291.9,356.0 294.5,354.5" stroke-width="5.0"/><path d="M331.8,303.4 C332.3,309.0 334.3,316.3 333.7,325.3 C333.1,334.3 330.7,335.1 329.6,338.5" stroke-width="5.6"/><path d="M316.5,331.2 L329.6,333.4" stroke-width="5.0"/><path d="M294.5,382.3 C300.2,378.9 305.2,375.1 316.5,369.2 C327.7,363.2 332.8,361.6 338.4,358.9" stroke-width="5.6"/><path d="M423.7,278.6 C425.9,281.6 428.9,283.7 432.4,290.3 C436.0,296.8 436.2,300.6 437.5,304.1" stroke-width="5.0"/><path d="M524.5,226.0 C525.4,229.3 528.5,233.1 528.1,239.1 C527.8,245.1 526.8,243.0 523.0,249.4 C519.3,255.7 517.3,257.2 513.5,264.0 C509.8,270.7 509.7,269.3 508.4,275.6 C507.1,282.0 508.4,285.4 508.4,288.8" stroke-width="6.2"/><path d="M530.3,239.9 C534.8,239.7 540.4,240.8 547.9,239.1 C555.3,237.4 555.0,236.7 559.5,233.3 C564.0,229.9 563.9,227.8 565.4,226.0" stroke-width="5.6"/><path d="M463.1,221.6 C465.4,223.5 467.0,226.3 471.9,228.9 C476.8,231.5 479.5,231.1 482.1,231.8" stroke-width="6.2"/><path d="M610.0,186.5 C609.4,190.3 609.8,194.0 607.8,201.1 C605.7,208.3 603.4,210.9 601.9,214.3" stroke-width="5.6"/><path d="M508.4,332.6 C514.0,333.4 519.1,332.2 530.3,335.6 C541.6,338.9 542.1,340.2 552.2,345.8 C562.4,351.4 563.0,351.5 569.8,357.5 C576.5,363.5 573.7,362.4 578.5,369.2 C583.4,375.9 582.4,377.8 588.8,383.8 C595.1,389.8 597.4,388.4 603.4,392.5 C609.4,396.7 609.9,398.1 612.1,400.0" stroke-width="5.0"/><path d="M597.5,307.8 C597.9,312.3 597.9,317.1 599.0,325.3 C600.1,333.6 601.2,336.2 601.9,339.9" stroke-width="5.0"/><path d="M489.4,369.2 C490.9,372.2 492.6,375.6 495.3,380.8 C497.9,386.1 498.5,387.4 499.6,389.6" stroke-width="5.0"/><path d="M360.8,293.9 L374.0,296.1" stroke-width="10.4"/><path d="M369.6,296.1 C370.0,298.4 369.6,301.1 371.1,304.9 C372.6,308.6 374.3,309.2 375.5,310.7" stroke-width="6.8"/><path d="M158.7,502.3 C162.0,504.5 165.4,506.2 171.8,511.0 C178.2,515.9 179.0,514.1 183.5,521.3 C188.0,528.4 186.7,530.9 189.4,538.8 C192.0,546.7 192.6,548.6 193.7,551.9" stroke-width="5.6"/><path d="M247.8,440.9 C248.5,445.4 248.1,450.9 250.7,458.4 C253.3,465.9 255.4,463.4 258.0,470.1 C260.6,476.9 260.2,481.0 260.9,484.7" stroke-width="5.0"/><path d="M317.9,446.8 C314.9,450.5 310.7,452.7 306.2,461.4 C301.7,470.0 302.3,469.9 300.4,480.4 C298.5,490.8 300.4,492.9 298.9,502.3 C297.4,511.6 297.2,510.5 294.5,516.9 C291.9,523.3 290.2,524.5 288.7,527.1" stroke-width="5.6"/><path d="M326.7,446.8 C328.9,451.6 331.3,456.0 335.5,465.7 C339.6,475.5 339.8,475.4 342.8,484.7 C345.8,494.1 346.0,497.8 347.1,502.3" stroke-width="5.0"/><path d="M332.5,492.0 L341.3,490.6" stroke-width="5.6"/><path d="M332.5,540.3 C335.5,539.7 337.2,538.1 344.2,538.1 C351.3,538.1 356.0,539.7 360.0,540.3" stroke-width="7.4"/><path d="M317.9,622.1 C319.8,625.1 324.5,627.8 325.2,633.8 C326.0,639.8 322.0,642.5 320.8,645.5" stroke-width="4.4"/><path d="M438.3,436.5 C440.2,432.8 441.5,428.7 445.6,421.9 C449.7,415.2 449.9,415.5 454.4,410.2 C458.8,405.0 460.9,403.7 463.1,401.5" stroke-width="5.0"/><path d="M355.0,541.7 C358.7,540.6 362.1,539.2 369.6,537.3 C377.1,535.5 380.5,535.2 384.2,534.4" stroke-width="4.4"/><path d="M363.8,448.2 C366.4,450.8 366.9,456.6 374.0,458.4 C381.1,460.3 383.3,457.4 391.5,455.5 C399.8,453.6 402.4,452.3 406.1,451.1" stroke-width="5.0"/><path d="M374.0,458.4 L369.6,470.1" stroke-width="4.4"/><path d="M606.3,400.0 C607.8,403.7 609.7,407.9 612.1,414.6 C614.6,421.4 614.9,423.3 615.8,426.3" stroke-width="7.4"/><path d="M177.7,664.6 C179.5,667.2 183.5,668.8 185.0,674.8 C186.5,680.8 185.0,682.0 183.5,688.0 C182.0,694.0 180.2,695.6 179.1,698.2" stroke-width="6.8"/><path d="M190.8,674.8 C192.7,677.8 195.9,681.7 198.1,686.5 C200.4,691.4 199.2,692.0 199.6,693.8" stroke-width="6.2"/><path d="M185.0,674.8 L204.0,677.8" stroke-width="5.0"/><path d="M135.3,728.9 C138.7,730.0 142.1,731.0 148.4,733.3 C154.8,735.5 154.5,738.0 160.1,737.7 C165.7,737.3 165.1,733.3 170.4,731.8 C175.6,730.3 175.0,730.3 180.6,731.8 C186.2,733.3 185.5,735.8 192.3,737.7 C199.0,739.5 200.5,737.3 206.9,739.1 C213.3,741.0 211.9,742.3 217.1,745.0 C222.4,747.6 224.7,748.2 227.3,749.4" stroke-width="5.0"/><path d="M195.2,727.4 C197.4,729.3 201.0,731.7 204.0,734.7 C207.0,737.7 206.1,738.0 206.9,739.1" stroke-width="4.4"/><path d="M138.2,807.8 C140.8,808.9 142.1,810.7 148.4,812.2 C154.8,813.7 154.8,812.5 163.1,813.6 C171.3,814.8 176.1,815.8 180.6,816.6" stroke-width="5.0"/><path d="M94.4,825.3 L97.3,832.6" stroke-width="6.8"/></g></g>
<g filter="url(#bV3)"><g fill="none" stroke="rgb(33,10,0)" stroke-linecap="round" stroke-linejoin="round"><path d="M271.2,354.5 C274.5,356.0 278.3,360.4 284.3,360.4 C290.3,360.4 291.9,356.0 294.5,354.5" stroke-width="3.0"/><path d="M331.8,303.4 C332.3,309.0 334.3,316.3 333.7,325.3 C333.1,334.3 330.7,335.1 329.6,338.5" stroke-width="3.6"/><path d="M316.5,331.2 L329.6,333.4" stroke-width="3.0"/><path d="M294.5,382.3 C300.2,378.9 305.2,375.1 316.5,369.2 C327.7,363.2 332.8,361.6 338.4,358.9" stroke-width="3.6"/><path d="M423.7,278.6 C425.9,281.6 428.9,283.7 432.4,290.3 C436.0,296.8 436.2,300.6 437.5,304.1" stroke-width="3.0"/><path d="M524.5,226.0 C525.4,229.3 528.5,233.1 528.1,239.1 C527.8,245.1 526.8,243.0 523.0,249.4 C519.3,255.7 517.3,257.2 513.5,264.0 C509.8,270.7 509.7,269.3 508.4,275.6 C507.1,282.0 508.4,285.4 508.4,288.8" stroke-width="4.2"/><path d="M530.3,239.9 C534.8,239.7 540.4,240.8 547.9,239.1 C555.3,237.4 555.0,236.7 559.5,233.3 C564.0,229.9 563.9,227.8 565.4,226.0" stroke-width="3.6"/><path d="M463.1,221.6 C465.4,223.5 467.0,226.3 471.9,228.9 C476.8,231.5 479.5,231.1 482.1,231.8" stroke-width="4.2"/><path d="M610.0,186.5 C609.4,190.3 609.8,194.0 607.8,201.1 C605.7,208.3 603.4,210.9 601.9,214.3" stroke-width="3.6"/><path d="M508.4,332.6 C514.0,333.4 519.1,332.2 530.3,335.6 C541.6,338.9 542.1,340.2 552.2,345.8 C562.4,351.4 563.0,351.5 569.8,357.5 C576.5,363.5 573.7,362.4 578.5,369.2 C583.4,375.9 582.4,377.8 588.8,383.8 C595.1,389.8 597.4,388.4 603.4,392.5 C609.4,396.7 609.9,398.1 612.1,400.0" stroke-width="3.0"/><path d="M597.5,307.8 C597.9,312.3 597.9,317.1 599.0,325.3 C600.1,333.6 601.2,336.2 601.9,339.9" stroke-width="3.0"/><path d="M489.4,369.2 C490.9,372.2 492.6,375.6 495.3,380.8 C497.9,386.1 498.5,387.4 499.6,389.6" stroke-width="3.0"/><path d="M360.8,293.9 L374.0,296.1" stroke-width="8.4"/><path d="M369.6,296.1 C370.0,298.4 369.6,301.1 371.1,304.9 C372.6,308.6 374.3,309.2 375.5,310.7" stroke-width="4.8"/><path d="M158.7,502.3 C162.0,504.5 165.4,506.2 171.8,511.0 C178.2,515.9 179.0,514.1 183.5,521.3 C188.0,528.4 186.7,530.9 189.4,538.8 C192.0,546.7 192.6,548.6 193.7,551.9" stroke-width="3.6"/><path d="M247.8,440.9 C248.5,445.4 248.1,450.9 250.7,458.4 C253.3,465.9 255.4,463.4 258.0,470.1 C260.6,476.9 260.2,481.0 260.9,484.7" stroke-width="3.0"/><path d="M317.9,446.8 C314.9,450.5 310.7,452.7 306.2,461.4 C301.7,470.0 302.3,469.9 300.4,480.4 C298.5,490.8 300.4,492.9 298.9,502.3 C297.4,511.6 297.2,510.5 294.5,516.9 C291.9,523.3 290.2,524.5 288.7,527.1" stroke-width="3.6"/><path d="M326.7,446.8 C328.9,451.6 331.3,456.0 335.5,465.7 C339.6,475.5 339.8,475.4 342.8,484.7 C345.8,494.1 346.0,497.8 347.1,502.3" stroke-width="3.0"/><path d="M332.5,492.0 L341.3,490.6" stroke-width="3.6"/><path d="M332.5,540.3 C335.5,539.7 337.2,538.1 344.2,538.1 C351.3,538.1 356.0,539.7 360.0,540.3" stroke-width="5.4"/><path d="M317.9,622.1 C319.8,625.1 324.5,627.8 325.2,633.8 C326.0,639.8 322.0,642.5 320.8,645.5" stroke-width="2.4"/><path d="M438.3,436.5 C440.2,432.8 441.5,428.7 445.6,421.9 C449.7,415.2 449.9,415.5 454.4,410.2 C458.8,405.0 460.9,403.7 463.1,401.5" stroke-width="3.0"/><path d="M355.0,541.7 C358.7,540.6 362.1,539.2 369.6,537.3 C377.1,535.5 380.5,535.2 384.2,534.4" stroke-width="2.4"/><path d="M363.8,448.2 C366.4,450.8 366.9,456.6 374.0,458.4 C381.1,460.3 383.3,457.4 391.5,455.5 C399.8,453.6 402.4,452.3 406.1,451.1" stroke-width="3.0"/><path d="M374.0,458.4 L369.6,470.1" stroke-width="2.4"/><path d="M606.3,400.0 C607.8,403.7 609.7,407.9 612.1,414.6 C614.6,421.4 614.9,423.3 615.8,426.3" stroke-width="5.4"/><path d="M177.7,664.6 C179.5,667.2 183.5,668.8 185.0,674.8 C186.5,680.8 185.0,682.0 183.5,688.0 C182.0,694.0 180.2,695.6 179.1,698.2" stroke-width="4.8"/><path d="M190.8,674.8 C192.7,677.8 195.9,681.7 198.1,686.5 C200.4,691.4 199.2,692.0 199.6,693.8" stroke-width="4.2"/><path d="M185.0,674.8 L204.0,677.8" stroke-width="3.0"/><path d="M135.3,728.9 C138.7,730.0 142.1,731.0 148.4,733.3 C154.8,735.5 154.5,738.0 160.1,737.7 C165.7,737.3 165.1,733.3 170.4,731.8 C175.6,730.3 175.0,730.3 180.6,731.8 C186.2,733.3 185.5,735.8 192.3,737.7 C199.0,739.5 200.5,737.3 206.9,739.1 C213.3,741.0 211.9,742.3 217.1,745.0 C222.4,747.6 224.7,748.2 227.3,749.4" stroke-width="3.0"/><path d="M195.2,727.4 C197.4,729.3 201.0,731.7 204.0,734.7 C207.0,737.7 206.1,738.0 206.9,739.1" stroke-width="2.4"/><path d="M138.2,807.8 C140.8,808.9 142.1,810.7 148.4,812.2 C154.8,813.7 154.8,812.5 163.1,813.6 C171.3,814.8 176.1,815.8 180.6,816.6" stroke-width="3.0"/><path d="M94.4,825.3 L97.3,832.6" stroke-width="4.8"/></g></g>
<g><path d="M263.9,252.3 C265.5,250.8 264.5,247.4 269.7,250.8 C275.0,254.2 277.9,259.8 284.3,265.4 C290.7,271.0 288.2,270.1 294.5,272.7 C300.9,275.3 304.5,273.8 309.2,275.6 C313.8,277.5 312.8,278.3 312.8,280.0 C312.8,281.7 312.3,281.3 309.2,282.2 C306.0,283.2 307.1,284.6 300.4,283.7 C293.6,282.7 290.0,283.3 282.9,278.6 C275.7,273.9 277.7,271.0 272.6,265.4 C267.6,259.8 265.4,260.0 263.1,256.7 C260.9,253.3 262.2,253.8 263.9,252.3Z" fill="rgb(135,8,0)"/><path d="M329.6,266.9 C330.4,265.4 330.1,266.8 334.0,264.0 C337.9,261.2 339.6,259.8 345.0,256.0 C350.4,252.2 350.9,251.8 355.0,249.0 C359.1,246.2 357.9,245.8 361.0,245.0 C364.1,244.2 364.9,244.7 367.0,246.0 C369.1,247.3 369.3,247.9 369.0,250.0 C368.7,252.1 368.8,251.7 366.0,254.0 C363.2,256.3 362.6,255.9 358.0,259.0 C353.4,262.1 353.1,262.8 348.0,266.0 C342.9,269.2 342.4,270.5 338.0,271.5 C333.6,272.5 333.2,271.2 331.0,270.0 C328.8,268.8 328.8,268.4 329.6,266.9Z" fill="rgb(102,8,0)"/><path d="M111.9,183.6 C113.4,180.6 114.7,179.3 119.2,176.3 C123.7,173.3 125.3,172.3 129.4,171.9 C133.6,171.5 134.2,172.6 135.3,174.8 C136.4,177.1 136.5,178.1 133.8,180.7 C131.2,183.3 128.8,182.6 125.1,185.1 C121.3,187.5 122.2,189.4 119.2,190.2 C116.2,190.9 115.2,189.7 113.4,188.0 C111.5,186.3 110.4,186.6 111.9,183.6Z" fill="rgb(163,8,0)"/><path d="M101.7,171.9 C103.9,175.3 106.9,170.5 110.5,167.5 C114.0,164.5 114.8,163.6 115.6,160.2 C116.3,156.9 116.9,155.9 113.4,154.4 C109.8,152.9 104.7,149.9 101.7,154.4 C98.7,158.9 99.4,168.5 101.7,171.9Z" fill="rgb(163,8,0)"/><path d="M464.8,159.7 C464.1,160.4 463.7,160.5 464.2,161.7 C464.7,162.9 464.8,163.1 466.8,164.3 C468.8,165.5 469.0,165.4 471.9,166.2 C474.9,167.1 475.1,167.3 478.4,167.5 C481.8,167.8 481.6,167.7 484.9,167.2 C488.3,166.7 488.1,166.7 491.4,165.6 C494.8,164.5 494.6,164.3 497.9,163.0 C501.3,161.7 501.9,160.9 504.4,160.4 C506.9,159.9 507.0,158.7 507.7,161.0 C508.3,163.4 507.5,165.7 507.0,169.5 C506.5,173.3 505.9,172.6 505.7,176.0 C505.5,179.3 505.7,179.5 506.4,182.5 C507.0,185.5 507.3,185.0 508.3,187.7 C509.3,190.3 508.3,192.2 510.3,192.9 C512.3,193.5 514.9,192.9 516.1,190.3 C517.3,187.6 515.5,186.1 514.8,182.5 C514.1,178.8 513.7,179.3 513.5,176.0 C513.3,172.6 514.5,173.1 514.2,169.5 C513.8,165.8 513.2,164.9 512.2,161.7 C511.2,158.5 511.8,158.8 510.3,157.1 C508.8,155.5 508.7,155.4 506.4,155.2 C504.0,155.0 504.2,155.7 501.2,156.5 C498.2,157.3 498.0,158.1 494.7,158.4 C491.3,158.8 491.5,158.0 488.2,157.8 C484.9,157.6 484.2,158.3 481.7,157.8 C479.2,157.3 480.1,156.2 478.4,155.8 C476.8,155.5 476.9,156.0 475.2,156.5 C473.5,157.0 474.1,157.1 471.9,157.8 C469.8,158.5 468.6,158.6 466.8,159.1 C464.9,159.6 465.5,159.1 464.8,159.7Z" fill="rgb(140,8,0)"/><path d="M429.7,170.8 C429.7,169.8 430.5,169.0 433.0,167.5 C435.5,166.0 437.3,165.4 439.5,164.9 C441.6,164.4 441.8,164.6 441.4,165.6 C441.1,166.6 440.3,167.3 438.2,168.8 C436.0,170.3 435.2,170.9 433.0,171.4 C430.8,171.9 429.7,171.8 429.7,170.8Z" fill="rgb(115,8,0)"/><path d="M405.4,205.5 C407.1,202.3 410.3,200.6 413.4,198.2 C416.6,195.8 416.5,195.6 417.8,196.0 C419.1,196.4 419.7,197.2 418.6,199.7 C417.4,202.1 416.4,202.7 413.4,205.5 C410.4,208.3 408.9,210.6 406.9,210.6 C404.8,210.6 403.7,208.7 405.4,205.5Z" fill="rgb(107,8,0)"/><path d="M466.0,573.9 C467.4,574.6 467.5,577.4 467.5,582.6 C467.5,587.9 465.7,588.7 466.0,594.3 C466.4,599.9 467.8,599.7 469.0,604.5 C470.1,609.4 470.6,610.7 470.4,613.3 C470.2,615.9 469.7,616.3 468.2,614.8 C466.7,613.3 466.3,610.1 464.6,607.5 C462.9,604.8 462.0,607.2 461.7,604.5 C461.3,601.9 463.3,601.0 463.1,597.2 C462.9,593.5 461.1,594.4 460.9,589.9 C460.7,585.4 461.1,583.8 462.4,579.7 C463.7,575.6 464.7,573.1 466.0,573.9Z" fill="rgb(128,8,0)"/></g>
</g>
<g fill="none" stroke="#1c1a00" stroke-width="1.35" stroke-linejoin="round" opacity="0.92"><path d="M263.9,252.3 C265.5,250.8 264.5,247.4 269.7,250.8 C275.0,254.2 277.9,259.8 284.3,265.4 C290.7,271.0 288.2,270.1 294.5,272.7 C300.9,275.3 304.5,273.8 309.2,275.6 C313.8,277.5 312.8,278.3 312.8,280.0 C312.8,281.7 312.3,281.3 309.2,282.2 C306.0,283.2 307.1,284.6 300.4,283.7 C293.6,282.7 290.0,283.3 282.9,278.6 C275.7,273.9 277.7,271.0 272.6,265.4 C267.6,259.8 265.4,260.0 263.1,256.7 C260.9,253.3 262.2,253.8 263.9,252.3Z"/><path d="M329.6,266.9 C330.4,265.4 330.1,266.8 334.0,264.0 C337.9,261.2 339.6,259.8 345.0,256.0 C350.4,252.2 350.9,251.8 355.0,249.0 C359.1,246.2 357.9,245.8 361.0,245.0 C364.1,244.2 364.9,244.7 367.0,246.0 C369.1,247.3 369.3,247.9 369.0,250.0 C368.7,252.1 368.8,251.7 366.0,254.0 C363.2,256.3 362.6,255.9 358.0,259.0 C353.4,262.1 353.1,262.8 348.0,266.0 C342.9,269.2 342.4,270.5 338.0,271.5 C333.6,272.5 333.2,271.2 331.0,270.0 C328.8,268.8 328.8,268.4 329.6,266.9Z"/><path d="M111.9,183.6 C113.4,180.6 114.7,179.3 119.2,176.3 C123.7,173.3 125.3,172.3 129.4,171.9 C133.6,171.5 134.2,172.6 135.3,174.8 C136.4,177.1 136.5,178.1 133.8,180.7 C131.2,183.3 128.8,182.6 125.1,185.1 C121.3,187.5 122.2,189.4 119.2,190.2 C116.2,190.9 115.2,189.7 113.4,188.0 C111.5,186.3 110.4,186.6 111.9,183.6Z"/><path d="M101.7,171.9 C103.9,175.3 106.9,170.5 110.5,167.5 C114.0,164.5 114.8,163.6 115.6,160.2 C116.3,156.9 116.9,155.9 113.4,154.4 C109.8,152.9 104.7,149.9 101.7,154.4 C98.7,158.9 99.4,168.5 101.7,171.9Z"/><path d="M464.8,159.7 C464.1,160.4 463.7,160.5 464.2,161.7 C464.7,162.9 464.8,163.1 466.8,164.3 C468.8,165.5 469.0,165.4 471.9,166.2 C474.9,167.1 475.1,167.3 478.4,167.5 C481.8,167.8 481.6,167.7 484.9,167.2 C488.3,166.7 488.1,166.7 491.4,165.6 C494.8,164.5 494.6,164.3 497.9,163.0 C501.3,161.7 501.9,160.9 504.4,160.4 C506.9,159.9 507.0,158.7 507.7,161.0 C508.3,163.4 507.5,165.7 507.0,169.5 C506.5,173.3 505.9,172.6 505.7,176.0 C505.5,179.3 505.7,179.5 506.4,182.5 C507.0,185.5 507.3,185.0 508.3,187.7 C509.3,190.3 508.3,192.2 510.3,192.9 C512.3,193.5 514.9,192.9 516.1,190.3 C517.3,187.6 515.5,186.1 514.8,182.5 C514.1,178.8 513.7,179.3 513.5,176.0 C513.3,172.6 514.5,173.1 514.2,169.5 C513.8,165.8 513.2,164.9 512.2,161.7 C511.2,158.5 511.8,158.8 510.3,157.1 C508.8,155.5 508.7,155.4 506.4,155.2 C504.0,155.0 504.2,155.7 501.2,156.5 C498.2,157.3 498.0,158.1 494.7,158.4 C491.3,158.8 491.5,158.0 488.2,157.8 C484.9,157.6 484.2,158.3 481.7,157.8 C479.2,157.3 480.1,156.2 478.4,155.8 C476.8,155.5 476.9,156.0 475.2,156.5 C473.5,157.0 474.1,157.1 471.9,157.8 C469.8,158.5 468.6,158.6 466.8,159.1 C464.9,159.6 465.5,159.1 464.8,159.7Z"/><path d="M436.6,152.6 C433.4,154.6 435.8,159.0 437.0,161.7 C438.3,164.4 439.1,163.8 441.4,163.0 C443.7,162.2 444.0,160.8 446.0,158.4 C448.0,156.1 451.6,155.4 449.2,153.9 C446.8,152.4 439.7,150.6 436.6,152.6Z"/><path d="M429.7,170.8 C429.7,169.8 430.5,169.0 433.0,167.5 C435.5,166.0 437.3,165.4 439.5,164.9 C441.6,164.4 441.8,164.6 441.4,165.6 C441.1,166.6 440.3,167.3 438.2,168.8 C436.0,170.3 435.2,170.9 433.0,171.4 C430.8,171.9 429.7,171.8 429.7,170.8Z"/><path d="M405.4,205.5 C407.1,202.3 410.3,200.6 413.4,198.2 C416.6,195.8 416.5,195.6 417.8,196.0 C419.1,196.4 419.7,197.2 418.6,199.7 C417.4,202.1 416.4,202.7 413.4,205.5 C410.4,208.3 408.9,210.6 406.9,210.6 C404.8,210.6 403.7,208.7 405.4,205.5Z"/><path d="M565.4,464.3 C568.8,462.4 569.7,461.0 572.7,461.4 C575.7,461.7 576.3,463.5 577.1,465.7 C577.8,468.0 578.2,467.9 575.6,470.1 C573.0,472.4 571.0,471.5 566.9,474.5 C562.7,477.5 562.5,478.1 559.5,481.8 C556.5,485.6 557.8,485.8 555.2,489.1 C552.5,492.5 551.6,491.6 549.3,495.0 C547.1,498.3 546.4,498.2 546.4,502.3 C546.4,506.4 547.8,506.5 549.3,511.0 C550.8,515.5 552.2,515.3 552.2,519.8 C552.2,524.3 551.6,524.8 549.3,528.6 C547.1,532.3 547.2,531.4 543.5,534.4 C539.7,537.4 539.2,536.5 534.7,540.3 C530.2,544.0 530.1,544.9 525.9,549.0 C521.8,553.1 521.6,553.0 518.6,556.3 C515.6,559.7 515.4,558.4 514.3,562.2 C513.1,565.9 513.5,566.4 514.3,570.9 C515.0,575.4 516.1,574.8 517.2,579.7 C518.3,584.6 519.0,585.4 518.6,589.9 C518.3,594.4 518.0,594.2 515.7,597.2 C513.5,600.2 512.1,599.4 509.9,601.6 C507.6,603.9 507.3,602.6 506.9,606.0 C506.6,609.4 506.9,610.3 508.4,614.8 C509.9,619.3 510.5,619.8 512.8,623.5 C515.0,627.3 516.4,627.1 517.2,629.4 C517.9,631.6 517.6,632.3 515.7,632.3 C513.8,632.3 512.5,632.4 509.9,629.4 C507.2,626.4 507.7,625.1 505.5,620.6 C503.2,616.1 502.6,616.7 501.1,611.9 C499.6,607.0 499.3,606.1 499.6,601.6 C500.0,597.1 500.7,597.7 502.6,594.3 C504.4,590.9 505.4,592.2 506.9,588.5 C508.4,584.7 509.2,583.8 508.4,579.7 C507.7,575.6 506.6,575.0 504.0,572.4 C501.4,569.8 501.6,571.4 498.2,569.5 C494.8,567.6 493.9,568.5 490.9,565.1 C487.9,561.7 488.4,559.7 486.5,556.3 C484.6,553.0 483.2,553.8 483.6,551.9 C483.9,550.1 485.3,549.4 488.0,549.0 C490.6,548.7 490.1,548.6 493.8,550.5 C497.5,552.4 499.2,556.0 502.6,556.3 C505.9,556.7 503.6,554.9 506.9,551.9 C510.3,549.0 511.2,549.1 515.7,544.6 C520.2,540.1 520.7,539.7 524.5,534.4 C528.2,529.2 527.0,528.7 530.3,524.2 C533.7,519.7 534.6,520.3 537.6,516.9 C540.6,513.5 541.6,514.8 542.0,511.0 C542.4,507.3 540.2,506.8 539.1,502.3 C538.0,497.8 537.3,497.6 537.6,493.5 C538.0,489.4 538.3,489.9 540.6,486.2 C542.8,482.5 543.8,482.6 546.4,478.9 C549.0,475.1 547.4,474.2 550.8,471.6 C554.2,469.0 555.8,470.5 559.5,468.7 C563.3,466.8 562.0,466.2 565.4,464.3Z"/><path d="M466.0,573.9 C467.4,574.6 467.5,577.4 467.5,582.6 C467.5,587.9 465.7,588.7 466.0,594.3 C466.4,599.9 467.8,599.7 469.0,604.5 C470.1,609.4 470.6,610.7 470.4,613.3 C470.2,615.9 469.7,616.3 468.2,614.8 C466.7,613.3 466.3,610.1 464.6,607.5 C462.9,604.8 462.0,607.2 461.7,604.5 C461.3,601.9 463.3,601.0 463.1,597.2 C462.9,593.5 461.1,594.4 460.9,589.9 C460.7,585.4 461.1,583.8 462.4,579.7 C463.7,575.6 464.7,573.1 466.0,573.9Z"/><path d="M578.5,540.3 C578.5,538.8 581.8,539.6 584.4,537.3 C587.0,535.1 586.5,533.4 588.8,531.5 C591.0,529.6 591.7,529.3 593.1,530.0 C594.6,530.8 595.0,531.8 594.6,534.4 C594.2,537.0 592.1,536.9 591.7,540.3 C591.3,543.6 591.7,544.6 593.1,547.6 C594.6,550.6 594.9,551.2 597.5,551.9 C600.2,552.7 600.8,552.0 603.4,550.5 C606.0,549.0 607.0,549.1 607.8,546.1 C608.5,543.1 605.9,541.8 606.3,538.8 C606.7,535.8 607.7,534.0 609.2,534.4 C610.7,534.8 611.0,536.5 612.1,540.3 C613.3,544.0 613.6,544.5 613.6,549.0 C613.6,553.5 612.9,554.8 612.1,557.8 C611.4,560.8 611.8,561.5 610.7,560.7 C609.6,560.0 609.6,556.4 607.8,554.9 C605.9,553.4 606.0,554.1 603.4,554.9 C600.8,555.6 600.5,556.3 597.5,557.8 C594.5,559.3 593.6,561.5 591.7,560.7 C589.8,560.0 591.0,558.6 590.2,554.9 C589.5,551.1 590.3,549.1 588.8,546.1 C587.3,543.1 587.0,544.7 584.4,543.2 C581.8,541.7 578.5,541.8 578.5,540.3Z"/><path d="M606.3,538.8 C605.5,537.3 603.7,530.5 606.3,527.1 C608.9,523.7 613.9,524.5 616.5,525.6 C619.1,526.8 618.4,529.6 616.5,531.5 C614.7,533.4 611.8,531.1 609.2,533.0 C606.6,534.8 607.0,540.3 606.3,538.8Z"/><path d="M544.9,588.5 C545.7,586.2 547.4,585.9 549.3,587.0 C551.2,588.1 550.0,590.2 552.2,592.9 C554.5,595.5 555.1,595.4 558.1,597.2 C561.1,599.1 563.2,598.7 563.9,600.2 C564.7,601.7 563.6,602.7 561.0,603.1 C558.4,603.5 557.1,602.0 553.7,601.6 C550.3,601.2 549.7,603.1 547.9,601.6 C546.0,600.1 547.1,599.2 546.4,595.8 C545.6,592.4 544.2,590.7 544.9,588.5Z"/><path d="M527.4,600.2 C528.2,599.8 529.0,600.1 530.3,601.6 C531.6,603.1 532.7,604.5 532.5,606.0 C532.3,607.5 530.9,608.2 529.6,607.5 C528.3,606.7 528.0,605.0 527.4,603.1 C526.8,601.2 526.7,600.5 527.4,600.2Z"/><path d="M535.4,611.9 C537.1,610.4 538.9,609.6 540.6,610.4 C542.2,611.1 543.1,612.5 542.0,614.8 C540.9,617.0 538.2,618.8 536.2,619.2 C534.1,619.5 534.2,618.1 534.0,616.2 C533.8,614.4 533.8,613.3 535.4,611.9Z"/><path d="M363.0,745.0 C362.7,742.7 363.5,742.1 365.2,740.6 C366.9,739.1 367.5,738.9 369.6,739.1 C371.7,739.3 371.6,739.1 373.3,741.3 C374.9,743.6 376.4,745.6 376.2,747.9 C376.0,750.1 375.0,749.7 372.5,750.1 C370.1,750.5 369.1,750.7 366.7,749.4 C364.3,748.0 363.4,747.2 363.0,745.0Z"/><path d="M269.7,900.0 L271.2,886.7 L277.0,875.0 L284.3,869.2 L291.6,863.3 L294.5,854.5 L301.9,847.2 L309.2,841.4 L316.5,834.1 L323.8,831.2 L338.4,834.1 L350.1,835.6 L355.0,833.4 L376.9,831.9 L391.5,835.6 L413.4,833.4 L417.8,838.5 L428.1,832.6 L433.9,834.1 L439.7,844.3 L457.3,841.4 L464.6,848.0 L479.2,845.8 L490.9,844.3 L506.9,848.7 L515.7,861.9 L523.0,877.9 L530.3,889.6 L542.0,889.6 L549.3,893.3 L559.5,893.3 L569.8,886.7 L574.2,882.3 L588.8,877.9 L603.4,872.1 L615.1,867.7 L620.2,868.4" stroke="#2a2000" stroke-width="1.05" opacity="0.85"/></g></g>
<path d="M102.2,154.1 Q357,156.7 612.4,154.1 L621.0,898.9 Q357,902.9 93.1,898.9 Z" fill="none" stroke="#000" stroke-width="1.1"/>
<line x1="102.2" y1="136.1" x2="102.2" y2="154.1" stroke="#000" stroke-width="1.3"/>
<line x1="357" y1="137.4" x2="357" y2="155.4" stroke="#000" stroke-width="1.3"/>
<line x1="612.4" y1="136.1" x2="612.4" y2="154.1" stroke="#000" stroke-width="1.3"/>
<line x1="93.1" y1="916.9" x2="93.1" y2="898.9" stroke="#000" stroke-width="1.3"/>
<line x1="357" y1="918.9" x2="357" y2="900.9" stroke="#000" stroke-width="1.3"/>
<line x1="621.0" y1="916.9" x2="621.0" y2="898.9" stroke="#000" stroke-width="1.3"/>
<line x1="84.2" y1="154.1" x2="102.2" y2="154.1" stroke="#000" stroke-width="1.3"/>
<line x1="630.4" y1="154.1" x2="612.4" y2="154.1" stroke="#000" stroke-width="1.3"/>
<line x1="79.65" y1="526.5" x2="97.65" y2="526.5" stroke="#000" stroke-width="1.3"/>
<line x1="634.7" y1="526.5" x2="616.7" y2="526.5" stroke="#000" stroke-width="1.3"/>
<line x1="75.1" y1="898.9" x2="93.1" y2="898.9" stroke="#000" stroke-width="1.3"/>
<line x1="639.0" y1="898.9" x2="621.0" y2="898.9" stroke="#000" stroke-width="1.3"/>
<text transform="translate(69.8,166.7) scale(1.055,1)" text-anchor="end" class="t">47<tspan font-size="24" dy="-10">°</tspan></text>
<text transform="translate(65.2,539.1) scale(1.055,1)" text-anchor="end" class="t">46<tspan font-size="24" dy="-10">°</tspan></text>
<text transform="translate(60.7,911.5) scale(1.055,1)" text-anchor="end" class="t">45<tspan font-size="24" dy="-10">°</tspan></text>
<text transform="translate(92.8,957.3) scale(1.055,1)" text-anchor="middle" class="t">7<tspan font-size="24" dy="-10">°</tspan></text>
<text transform="translate(356.7,957.3) scale(1.055,1)" text-anchor="middle" class="t">8<tspan font-size="24" dy="-10">°</tspan></text>
<text transform="translate(620.7,957.3) scale(1.055,1)" text-anchor="middle" class="t">9<tspan font-size="24" dy="-10">°</tspan></text>
</g>
<g transform="translate(1055.6,0)">
<path d="M88.8,140.7 Q357,143.29999999999998 625.8,140.7 L634.4,912.3 Q357,916.3 79.69999999999999,912.3 Z" fill="#fff" stroke="#000" stroke-width="1.3"/>
<path d="M357,142.0 Q485,141.7 612.4,140.7 L612.4,154.1 Q485,155.1 357,155.4 Z" fill="#000"/>
<path d="M357,914.3 Q489,913.8 621.0,912.3 L621.0,898.9 Q489,900.4 357,900.9 Z" fill="#000"/>
<path d="M88.8,154.1 L102.2,154.1 L97.65,526.5 L84.25,526.5 Z" fill="#000"/>
<path d="M625.8,154.1 L612.4,154.1 L616.7,526.5 L630.1,526.5 Z" fill="#000"/>
<path d="M102.2,154.1 Q357,156.7 612.4,154.1 L621.0,898.9 Q357,902.9 93.1,898.9 Z" fill="#80ff80"/>
<g clip-path="url(#mapclip)"><g filter="url(#jetB)">
<rect x="80" y="140" width="560" height="780" fill="rgb(127,3,4)"/>
<g filter="url(#bALP)"><path d="M90.0,296.0 L141.0,289.0 L177.7,261.0 L236.0,258.0 L258.0,281.5 L280.0,252.0 L302.0,230.0 L360.0,201.0 L384.0,164.6 L399.0,150.0 L630.0,150.0 L630.0,524.0 L574.0,528.6 L537.6,538.8 L501.0,560.7 L486.5,597.0 L464.6,616.0 L442.7,619.0 L420.7,650.0 L400.0,655.0 L360.0,694.0 L309.0,723.0 L272.6,737.7 L258.0,759.6 L243.4,781.5 L228.8,796.0 L225.9,825.0 L221.5,854.6 L206.9,869.0 L192.0,876.5 L177.7,905.0 L85.0,905.0Z" fill="rgb(126,5,10)"/></g>
<g filter="url(#dblob)" fill="none" stroke-linecap="round"><path d="M121.7,461.8 L124.5,446.1" stroke="rgb(112,13,0)" stroke-width="11.2"/><path d="M151.3,372.5 L148.5,356.8" stroke="rgb(112,13,0)" stroke-width="13.4"/><path d="M189.8,364.3 L199.3,353.0" stroke="rgb(112,13,0)" stroke-width="11.2"/><path d="M259.5,294.3 L266.4,286.1" stroke="rgb(112,13,0)" stroke-width="11.2"/><path d="M305.6,320.6 L321.6,301.5" stroke="rgb(112,13,0)" stroke-width="17.9"/><path d="M350.4,283.8 L354.1,275.9" stroke="rgb(112,13,0)" stroke-width="12.5"/><path d="M383.1,278.5 L380.9,266.2" stroke="rgb(112,13,0)" stroke-width="12.5"/><path d="M394.1,299.2 L399.7,287.2" stroke="rgb(112,13,0)" stroke-width="17.9"/><path d="M352.8,329.1 L351.7,322.8" stroke="rgb(112,13,0)" stroke-width="8.9"/><path d="M536.4,187.5 L531.2,178.6" stroke="rgb(112,13,0)" stroke-width="13.4"/><path d="M593.0,175.3 L599.6,161.1" stroke="rgb(112,13,0)" stroke-width="13.4"/><path d="M488.8,219.5 L477.6,200.2" stroke="rgb(112,13,0)" stroke-width="15.6"/><path d="M504.9,243.2 L497.3,230.1" stroke="rgb(112,13,0)" stroke-width="13.4"/><path d="M528.5,279.3 L545.1,259.5" stroke="rgb(112,13,0)" stroke-width="17.9"/><path d="M421.9,239.4 L431.4,228.0" stroke="rgb(112,13,0)" stroke-width="13.4"/><path d="M260.0,445.4 L265.9,432.7" stroke="rgb(112,13,0)" stroke-width="15.6"/><path d="M294.5,447.9 L302.8,430.1" stroke="rgb(112,13,0)" stroke-width="17.9"/><path d="M232.8,470.2 L227.7,461.4" stroke="rgb(112,13,0)" stroke-width="11.2"/><path d="M283.7,504.9 L272.0,498.2" stroke="rgb(112,13,0)" stroke-width="11.2"/><path d="M352.0,469.7 L358.5,462.0" stroke="rgb(112,13,0)" stroke-width="8.9"/><path d="M407.5,467.4 L416.1,464.3" stroke="rgb(112,13,0)" stroke-width="11.2"/><path d="M520.9,488.4 L528.8,479.0" stroke="rgb(112,13,0)" stroke-width="11.2"/><path d="M570.7,492.4 L580.3,480.9" stroke="rgb(112,13,0)" stroke-width="13.4"/><path d="M604.6,446.0 L599.9,438.0" stroke="rgb(112,13,0)" stroke-width="11.2"/><path d="M569.7,393.5 L581.2,389.3" stroke="rgb(112,13,0)" stroke-width="11.2"/><path d="M590.9,366.7 L583.8,362.6" stroke="rgb(112,13,0)" stroke-width="8.9"/><path d="M547.4,360.9 L538.0,344.6" stroke="rgb(112,13,0)" stroke-width="13.4"/><path d="M378.5,376.6 L379.6,370.6" stroke="rgb(112,13,0)" stroke-width="6.7"/><path d="M298.8,348.6 L292.6,345.0" stroke="rgb(112,13,0)" stroke-width="8.9"/><path d="M215.7,503.5 L209.0,499.6" stroke="rgb(112,13,0)" stroke-width="8.9"/><path d="M321.0,489.3 L318.0,484.0" stroke="rgb(112,13,0)" stroke-width="6.7"/><path d="M219.9,278.4 L216.7,260.4" stroke="rgb(112,13,0)" stroke-width="13.4"/><path d="M316.0,206.3 L328.9,201.6" stroke="rgb(112,13,0)" stroke-width="13.4"/><path d="M203.6,663.0 L191.3,641.7" stroke="rgb(112,13,0)" stroke-width="17.0"/><path d="M236.7,652.9 L247.5,640.0" stroke="rgb(112,13,0)" stroke-width="15.6"/><path d="M101.0,658.4 L109.4,640.4" stroke="rgb(112,13,0)" stroke-width="15.6"/><path d="M119.8,671.4 L126.4,657.1" stroke="rgb(112,13,0)" stroke-width="11.2"/><path d="M153.5,617.5 L152.2,609.8" stroke="rgb(112,13,0)" stroke-width="11.2"/><path d="M194.4,605.9 L200.6,603.6" stroke="rgb(112,13,0)" stroke-width="8.9"/><path d="M167.3,683.5 L162.2,674.8" stroke="rgb(112,13,0)" stroke-width="8.9"/><path d="M302.2,651.4 L295.1,647.4" stroke="rgb(112,13,0)" stroke-width="8.9"/><path d="M399.9,612.9 L411.8,608.5" stroke="rgb(112,13,0)" stroke-width="13.4"/><path d="M338.7,621.1 L336.1,606.2" stroke="rgb(112,13,0)" stroke-width="13.4"/><path d="M442.7,554.6 L440.4,541.9" stroke="rgb(112,13,0)" stroke-width="17.9"/><path d="M473.2,579.9 L481.3,570.1" stroke="rgb(112,13,0)" stroke-width="8.9"/><path d="M288.2,702.1 L285.4,686.0" stroke="rgb(112,13,0)" stroke-width="13.4"/><path d="M206.8,717.9 L212.0,711.8" stroke="rgb(112,13,0)" stroke-width="11.2"/><path d="M325.6,686.2 L331.3,684.1" stroke="rgb(112,13,0)" stroke-width="6.7"/><path d="M172.6,806.7 L162.8,789.7" stroke="rgb(112,13,0)" stroke-width="13.4"/><path d="M131.0,780.2 L121.1,774.5" stroke="rgb(112,13,0)" stroke-width="11.2"/><path d="M118.8,882.3 L139.3,874.8" stroke="rgb(112,13,0)" stroke-width="22.3"/><path d="M205.4,823.5 L213.4,820.6" stroke="rgb(112,13,0)" stroke-width="8.9"/><path d="M109.1,720.1 L107.3,709.6" stroke="rgb(112,13,0)" stroke-width="11.2"/><path d="M163.5,539.2 L160.1,533.4" stroke="rgb(112,13,0)" stroke-width="8.9"/><path d="M204.0,539.2 L208.8,533.4" stroke="rgb(112,13,0)" stroke-width="8.9"/><path d="M366.5,530.8 L367.7,524.0" stroke="rgb(112,13,0)" stroke-width="8.9"/><path d="M274.1,405.3 L281.6,389.4" stroke="rgb(140,13,0)" stroke-width="17.9"/><path d="M251.3,400.9 L238.9,393.8" stroke="rgb(140,13,0)" stroke-width="13.4"/><path d="M307.7,403.6 L313.5,391.1" stroke="rgb(140,13,0)" stroke-width="13.4"/><path d="M342.8,392.7 L337.9,384.2" stroke="rgb(140,13,0)" stroke-width="11.2"/><path d="M378.3,405.4 L385.8,389.4" stroke="rgb(140,13,0)" stroke-width="13.4"/><path d="M418.2,371.3 L405.4,363.9" stroke="rgb(140,13,0)" stroke-width="13.4"/><path d="M505.6,394.1 L520.3,388.8" stroke="rgb(140,13,0)" stroke-width="15.6"/><path d="M529.9,256.9 L531.8,246.2" stroke="rgb(140,13,0)" stroke-width="8.9"/><path d="M160.5,421.7 L157.1,402.8" stroke="rgb(140,13,0)" stroke-width="13.4"/><path d="M216.6,445.7 L220.1,438.3" stroke="rgb(140,13,0)" stroke-width="11.2"/><path d="M582.4,327.3 L586.4,318.7" stroke="rgb(140,13,0)" stroke-width="11.2"/><path d="M603.6,356.2 L606.8,349.3" stroke="rgb(140,13,0)" stroke-width="11.2"/><path d="M458.9,433.3 L447.9,426.9" stroke="rgb(140,13,0)" stroke-width="11.2"/><path d="M441.0,450.9 L442.1,445.0" stroke="rgb(140,13,0)" stroke-width="6.7"/><path d="M206.6,593.0 L212.2,580.8" stroke="rgb(140,13,0)" stroke-width="13.4"/><path d="M124.9,614.1 L127.2,601.4" stroke="rgb(140,13,0)" stroke-width="11.2"/><path d="M249.7,600.7 L252.5,585.0" stroke="rgb(140,13,0)" stroke-width="11.2"/><path d="M270.8,610.3 L285.0,605.1" stroke="rgb(140,13,0)" stroke-width="11.2"/><path d="M229.9,582.6 L224.6,573.4" stroke="rgb(140,13,0)" stroke-width="8.9"/><path d="M185.6,579.1 L191.5,576.9" stroke="rgb(140,13,0)" stroke-width="8.9"/><path d="M297.7,595.7 L287.7,590.0" stroke="rgb(140,13,0)" stroke-width="8.9"/><path d="M239.1,712.3 L227.4,705.5" stroke="rgb(140,13,0)" stroke-width="11.2"/><path d="M294.9,688.9 L290.5,681.3" stroke="rgb(140,13,0)" stroke-width="8.9"/><path d="M183.8,751.1 L181.5,738.2" stroke="rgb(140,13,0)" stroke-width="13.4"/><path d="M169.6,841.3 L165.9,820.6" stroke="rgb(140,13,0)" stroke-width="17.9"/><path d="M110.6,814.3 L117.7,805.9" stroke="rgb(140,13,0)" stroke-width="13.4"/><path d="M105.8,827.2 L110.6,816.9" stroke="rgb(140,13,0)" stroke-width="11.2"/></g>
<g filter="url(#dvein)" fill="none" stroke="rgb(153,0,0)" stroke-linecap="round" stroke-linejoin="round"><path d="M206.9,282.2 C212.5,283.0 219.1,285.0 228.8,285.1 C238.5,285.3 240.7,283.5 244.9,283.0" stroke-width="3.5"/><path d="M104.6,344.3 C108.4,346.6 110.6,350.8 119.2,353.1 C127.8,355.3 127.0,355.3 138.2,353.1 C149.5,350.8 154.4,349.6 163.1,344.3 C171.7,339.1 168.1,341.2 171.8,332.6 C175.6,324.0 180.7,318.6 177.7,310.7 C174.7,302.8 166.9,303.4 160.1,301.9 C153.4,300.4 153.6,304.1 151.4,304.9" stroke-width="3.5"/><path d="M195.2,296.1 C196.7,301.7 198.0,306.8 201.0,318.0 C204.0,329.3 204.3,328.7 206.9,339.9 C209.5,351.2 207.5,354.7 211.3,361.9 C215.0,369.0 218.9,366.2 221.5,367.7" stroke-width="3.0"/><path d="M218.6,366.2 L225.9,372.1" stroke-width="4.0"/><path d="M250.7,318.0 C254.5,315.4 258.6,313.4 265.3,307.8 C272.1,302.2 271.4,300.6 277.0,296.1 C282.6,291.6 277.9,294.6 287.2,290.3 C296.6,286.0 306.8,282.1 313.5,279.3" stroke-width="3.5"/><path d="M262.4,310.7 C264.3,316.3 267.5,321.4 269.7,332.6 C272.0,343.9 270.8,348.9 271.2,354.5" stroke-width="3.0"/><path d="M271.2,354.5 C274.5,356.0 278.3,360.4 284.3,360.4 C290.3,360.4 291.9,356.0 294.5,354.5" stroke-width="4.5"/><path d="M285.8,310.7 C288.0,312.6 290.0,316.9 294.5,318.0 C299.0,319.1 301.1,315.8 303.3,315.1" stroke-width="4.0"/><path d="M331.8,303.4 C332.3,309.0 334.3,316.3 333.7,325.3 C333.1,334.3 330.7,335.1 329.6,338.5" stroke-width="5.4"/><path d="M316.5,331.2 L329.6,333.4" stroke-width="4.5"/><path d="M294.5,382.3 C300.2,378.9 305.2,375.1 316.5,369.2 C327.7,363.2 332.8,361.6 338.4,358.9" stroke-width="5.4"/><path d="M294.5,382.3 L294.5,400.0" stroke-width="4.0"/><path d="M313.5,279.3 C316.9,281.7 322.2,282.6 326.7,288.8 C331.2,295.0 329.9,299.7 331.1,303.4" stroke-width="3.5"/><path d="M168.9,388.1 L171.8,392.5" stroke-width="3.2"/><path d="M258.0,383.8 L259.5,391.1" stroke-width="4.0"/><path d="M101.7,332.6 L111.9,344.3" stroke-width="3.0"/><path d="M183.5,373.5 L186.4,391.1" stroke-width="2.5"/><path d="M317.9,231.8 C323.2,230.7 327.6,230.8 338.4,227.4 C349.2,224.1 354.5,220.9 360.0,218.7" stroke-width="4.0"/><path d="M355.0,252.3 C358.7,252.3 360.2,251.9 369.6,252.3 C379.0,252.6 380.3,251.1 391.5,253.7 C402.8,256.4 404.1,260.6 413.4,262.5 C422.8,264.4 418.7,263.7 428.1,261.0 C437.4,258.4 441.7,254.5 450.0,252.3 C458.2,250.0 457.6,252.3 460.2,252.3" stroke-width="6.4"/><path d="M423.7,278.6 C425.9,281.6 428.9,283.7 432.4,290.3 C436.0,296.8 436.2,300.6 437.5,304.1" stroke-width="4.5"/><path d="M413.4,262.5 L423.7,278.6" stroke-width="3.5"/><path d="M514.3,193.8 C515.8,198.3 517.5,203.1 520.1,211.4 C522.7,219.6 523.4,222.2 524.5,226.0" stroke-width="5.6"/><path d="M524.5,226.0 C525.4,229.3 528.5,233.1 528.1,239.1 C527.8,245.1 526.8,243.0 523.0,249.4 C519.3,255.7 517.3,257.2 513.5,264.0 C509.8,270.7 509.7,269.3 508.4,275.6 C507.1,282.0 508.4,285.4 508.4,288.8" stroke-width="6.3"/><path d="M530.3,239.9 C534.8,239.7 540.4,240.8 547.9,239.1 C555.3,237.4 555.0,236.7 559.5,233.3 C564.0,229.9 563.9,227.8 565.4,226.0" stroke-width="5.4"/><path d="M612.9,249.4 C608.6,250.8 604.1,251.8 596.1,255.2 C588.0,258.6 587.8,258.4 581.5,262.5 C575.1,266.6 577.6,267.9 571.2,271.3 C564.9,274.6 565.2,273.0 556.6,275.6 C548.0,278.3 545.1,278.1 537.6,281.5 C530.1,284.9 530.0,286.9 527.4,288.8" stroke-width="5.6"/><path d="M454.4,186.5 C453.2,190.3 450.7,193.6 450.0,201.1 C449.2,208.6 448.8,210.1 451.4,215.7 C454.1,221.4 457.9,221.2 460.2,223.1" stroke-width="4.8"/><path d="M463.1,221.6 C465.4,223.5 467.0,226.3 471.9,228.9 C476.8,231.5 479.5,231.1 482.1,231.8" stroke-width="6.3"/><path d="M544.9,161.7 C548.7,162.4 553.9,161.6 559.5,164.6 C565.2,167.6 564.2,168.9 566.9,173.4 C569.5,177.9 569.0,179.9 569.8,182.1" stroke-width="4.0"/><path d="M610.0,186.5 C609.4,190.3 609.8,194.0 607.8,201.1 C605.7,208.3 603.4,210.9 601.9,214.3" stroke-width="5.4"/><path d="M549.3,205.5 L566.9,204.1" stroke-width="3.2"/><path d="M553.7,205.5 L552.2,215.7" stroke-width="2.0"/><path d="M355.0,400.0 C360.6,397.7 366.4,396.7 376.9,391.1 C387.4,385.4 385.8,385.8 395.9,377.9 C406.0,370.1 404.4,370.9 416.4,360.4 C428.4,349.9 434.4,346.0 442.7,337.0 C450.9,328.0 447.0,328.3 448.5,325.3" stroke-width="4.5"/><path d="M448.5,325.3 C450.8,321.6 451.3,316.3 457.3,310.7 C463.3,305.1 464.4,307.2 471.9,303.4 C479.4,299.7 479.0,299.9 486.5,296.1 C494.0,292.4 495.1,290.3 501.1,288.8 C507.1,287.3 507.6,289.9 509.9,290.3" stroke-width="3.5"/><path d="M469.0,347.2 C473.5,345.0 476.4,342.2 486.5,338.5 C496.6,334.7 502.8,334.1 508.4,332.6" stroke-width="4.8"/><path d="M508.4,332.6 C514.0,333.4 519.1,332.2 530.3,335.6 C541.6,338.9 542.1,340.2 552.2,345.8 C562.4,351.4 563.0,351.5 569.8,357.5 C576.5,363.5 573.7,362.4 578.5,369.2 C583.4,375.9 582.4,377.8 588.8,383.8 C595.1,389.8 597.4,388.4 603.4,392.5 C609.4,396.7 609.9,398.1 612.1,400.0" stroke-width="4.5"/><path d="M508.4,332.6 C514.0,333.4 519.1,332.2 530.3,335.6 C541.6,338.9 542.1,340.2 552.2,345.8 C562.4,351.4 563.0,351.5 569.8,357.5 C576.5,363.5 573.7,362.4 578.5,369.2 C583.4,375.9 586.1,380.0 588.8,383.8" stroke-width="5.0"/><path d="M597.5,307.8 C597.9,312.3 597.9,317.1 599.0,325.3 C600.1,333.6 601.2,336.2 601.9,339.9" stroke-width="4.5"/><path d="M601.9,339.9 C603.0,347.4 604.2,353.8 606.3,369.2 C608.4,384.6 609.0,392.1 610.0,400.0" stroke-width="5.6"/><path d="M489.4,369.2 C490.9,372.2 492.6,375.6 495.3,380.8 C497.9,386.1 498.5,387.4 499.6,389.6" stroke-width="4.5"/><path d="M523.0,372.1 C524.9,374.7 530.3,377.4 530.3,382.3 C530.3,387.2 524.9,388.8 523.0,391.1" stroke-width="3.2"/><path d="M556.6,386.7 L562.5,396.9" stroke-width="3.2"/><path d="M360.8,293.9 L374.0,296.1" stroke-width="12.6"/><path d="M369.6,296.1 C370.0,298.4 369.6,301.1 371.1,304.9 C372.6,308.6 374.3,309.2 375.5,310.7" stroke-width="7.2"/><path d="M355.0,318.0 C360.6,317.3 365.7,314.0 376.9,315.1 C388.2,316.2 383.8,321.7 398.8,322.4 C413.8,323.2 423.4,319.5 435.4,318.0 C447.3,316.5 443.0,316.9 445.6,316.6" stroke-width="3.5"/><path d="M413.4,262.5 C411.6,256.1 407.3,249.7 406.1,237.7 C405.0,225.7 405.3,227.0 409.1,215.7 C412.8,204.5 415.1,203.2 420.7,193.8 C426.4,184.5 425.4,186.7 431.0,179.2 C436.6,171.7 439.7,168.4 442.7,164.6" stroke-width="7.0"/><path d="M471.9,278.6 C473.8,280.8 473.6,285.5 479.2,287.3 C484.8,289.2 490.1,286.3 493.8,285.9" stroke-width="3.0"/><path d="M515.7,193.8 C523.2,195.0 530.0,198.2 544.9,198.2 C559.9,198.2 562.9,193.8 574.2,193.8 C585.4,193.8 585.0,197.1 588.8,198.2" stroke-width="3.0"/><path d="M461.7,369.2 C462.8,372.9 464.5,375.9 466.0,383.8 C467.5,391.7 467.1,395.8 467.5,400.0" stroke-width="2.5"/><path d="M571.2,171.9 L574.2,188.0" stroke-width="3.0"/><path d="M104.6,487.7 C110.2,484.7 115.3,482.0 126.5,476.0 C137.8,470.0 137.2,470.7 148.4,464.3 C159.7,457.9 159.1,458.3 170.4,451.1 C181.6,444.0 181.0,443.3 192.3,436.5 C203.5,429.8 202.9,430.1 214.2,424.8 C225.4,419.6 223.0,419.1 236.1,416.1 C249.2,413.1 250.3,414.3 265.3,413.1 C280.3,412.0 279.6,411.3 294.5,411.7 C309.5,412.1 307.0,414.2 323.8,414.6 C340.5,415.0 350.7,413.5 360.0,413.1" stroke-width="7.5"/><path d="M272.6,413.1 C278.2,412.8 281.4,411.3 294.5,411.7 C307.7,412.1 307.0,414.0 323.8,414.6 C340.5,415.2 350.7,414.1 360.0,413.9" stroke-width="4.8"/><path d="M106.1,487.7 C104.8,483.9 101.5,481.7 101.0,473.1 C100.4,464.4 103.1,458.9 103.9,454.1" stroke-width="6.4"/><path d="M158.7,502.3 C162.0,504.5 165.4,506.2 171.8,511.0 C178.2,515.9 179.0,514.1 183.5,521.3 C188.0,528.4 186.7,530.9 189.4,538.8 C192.0,546.7 192.6,548.6 193.7,551.9" stroke-width="5.4"/><path d="M206.9,461.4 C209.1,464.4 210.8,465.6 215.6,473.1 C220.5,480.5 220.6,482.3 225.9,490.6 C231.1,498.8 231.6,498.8 236.1,505.2 C240.6,511.6 241.5,512.8 243.4,515.4" stroke-width="3.2"/><path d="M202.5,468.7 C201.8,472.0 199.6,475.4 199.6,481.8 C199.6,488.2 201.8,490.5 202.5,493.5" stroke-width="2.5"/><path d="M247.8,440.9 C248.5,445.4 248.1,450.9 250.7,458.4 C253.3,465.9 255.4,463.4 258.0,470.1 C260.6,476.9 260.2,481.0 260.9,484.7" stroke-width="4.5"/><path d="M279.9,448.2 L277.0,462.8" stroke-width="3.2"/><path d="M317.9,446.8 C314.9,450.5 310.7,452.7 306.2,461.4 C301.7,470.0 302.3,469.9 300.4,480.4 C298.5,490.8 300.4,492.9 298.9,502.3 C297.4,511.6 297.2,510.5 294.5,516.9 C291.9,523.3 290.2,524.5 288.7,527.1" stroke-width="5.4"/><path d="M326.7,446.8 C328.9,451.6 331.3,456.0 335.5,465.7 C339.6,475.5 339.8,475.4 342.8,484.7 C345.8,494.1 346.0,497.8 347.1,502.3" stroke-width="4.5"/><path d="M332.5,492.0 L341.3,490.6" stroke-width="5.4"/><path d="M323.8,414.6 C324.1,420.2 325.2,428.3 325.2,436.5 C325.2,444.8 324.1,444.1 323.8,446.8" stroke-width="4.0"/><path d="M260.9,528.6 C265.8,528.2 272.8,527.5 279.9,527.1 C287.1,526.7 286.5,527.1 288.7,527.1" stroke-width="3.0"/><path d="M332.5,540.3 C335.5,539.7 337.2,538.1 344.2,538.1 C351.3,538.1 356.0,539.7 360.0,540.3" stroke-width="8.1"/><path d="M236.1,556.3 C232.4,558.6 229.0,560.6 221.5,565.1 C214.0,569.6 214.4,569.4 206.9,573.9 C199.4,578.4 199.0,577.8 192.3,582.6 C185.5,587.5 183.6,590.2 180.6,592.9" stroke-width="4.0"/><path d="M174.7,572.4 C175.9,576.9 176.9,581.7 179.1,589.9 C181.4,598.2 182.0,597.1 183.5,604.5 C185.0,612.0 184.6,615.4 185.0,619.2" stroke-width="2.5"/><path d="M126.5,531.5 C125.8,535.2 125.5,540.5 123.6,546.1 C121.7,551.7 120.3,551.5 119.2,553.4" stroke-width="4.0"/><path d="M256.6,570.9 C255.8,575.1 255.1,580.6 253.6,587.0 C252.1,593.4 251.5,593.5 250.7,595.8" stroke-width="3.2"/><path d="M307.7,572.4 C308.4,578.8 308.4,585.3 310.6,597.2 C312.9,609.2 313.1,609.8 316.5,619.2 C319.8,628.5 322.6,625.9 323.8,633.8 C324.9,641.7 321.6,645.8 320.8,650.0" stroke-width="4.0"/><path d="M317.9,622.1 C319.8,625.1 324.5,627.8 325.2,633.8 C326.0,639.8 322.0,642.5 320.8,645.5" stroke-width="3.6"/><path d="M332.5,568.0 C334.8,571.8 336.1,577.0 341.3,582.6 C346.5,588.2 350.0,588.1 353.0,589.9" stroke-width="2.5"/><path d="M98.8,614.8 C102.1,617.4 104.8,620.1 111.9,625.0 C119.0,629.9 117.2,631.5 126.5,633.8 C135.9,636.0 135.3,635.6 148.4,633.8 C161.6,631.9 162.7,629.1 177.7,626.5 C192.6,623.8 191.9,624.3 206.9,623.5 C221.9,622.8 221.1,623.9 236.1,623.5 C251.1,623.2 257.8,622.5 265.3,622.1" stroke-width="6.5"/><path d="M192.3,625.0 C197.9,624.6 202.9,623.7 214.2,623.5 C225.4,623.4 230.5,624.1 236.1,624.3" stroke-width="4.8"/><path d="M98.8,614.8 C104.0,618.5 111.0,623.8 119.2,629.4 C127.5,635.0 127.9,634.8 130.9,636.7" stroke-width="3.2"/><path d="M129.4,592.9 C134.3,593.2 141.7,593.6 148.4,594.3 C155.2,595.1 153.9,595.4 155.7,595.8" stroke-width="2.5"/><path d="M98.8,582.6 L109.0,570.9" stroke-width="2.5"/><path d="M284.3,575.3 L287.2,589.9" stroke-width="2.5"/><path d="M230.3,531.5 L227.3,546.1" stroke-width="2.5"/><path d="M279.9,589.9 C279.2,595.6 277.0,602.5 277.0,611.9 C277.0,621.2 279.2,622.7 279.9,626.5" stroke-width="2.5"/><path d="M438.3,436.5 C438.3,442.1 438.7,448.3 438.3,458.4 C437.9,468.6 438.3,466.6 436.8,476.0 C435.3,485.3 434.3,485.2 432.4,495.0 C430.6,504.7 429.5,506.1 429.5,514.0 C429.5,521.8 428.3,521.5 432.4,525.6 C436.6,529.8 438.5,527.8 445.6,530.0 C452.7,532.3 454.2,531.0 460.2,534.4 C466.2,537.8 464.8,539.4 469.0,543.2 C473.1,546.9 472.5,546.8 476.3,549.0 C480.0,551.3 481.7,551.2 483.6,551.9" stroke-width="6.5"/><path d="M438.3,436.5 C440.2,432.8 441.5,428.7 445.6,421.9 C449.7,415.2 449.9,415.5 454.4,410.2 C458.8,405.0 460.9,403.7 463.1,401.5" stroke-width="4.5"/><path d="M438.3,436.5 C435.7,432.8 431.8,427.2 428.1,421.9 C424.3,416.7 424.8,417.6 423.7,416.1" stroke-width="4.0"/><path d="M445.6,478.9 C452.3,478.5 457.6,477.4 471.9,477.4 C486.1,477.4 489.9,477.8 501.1,478.9 C512.3,480.0 512.0,481.1 515.7,481.8" stroke-width="4.0"/><path d="M355.0,541.7 C358.7,540.6 362.1,539.2 369.6,537.3 C377.1,535.5 376.7,536.7 384.2,534.4 C391.7,532.2 391.3,530.8 398.8,528.6 C406.3,526.3 405.9,526.8 413.4,525.6 C420.9,524.5 424.3,524.6 428.1,524.2" stroke-width="4.8"/><path d="M355.0,541.7 C358.7,540.6 362.1,539.2 369.6,537.3 C377.1,535.5 380.5,535.2 384.2,534.4" stroke-width="3.6"/><path d="M363.8,448.2 C366.4,450.8 366.9,456.6 374.0,458.4 C381.1,460.3 383.3,457.4 391.5,455.5 C399.8,453.6 402.4,452.3 406.1,451.1" stroke-width="4.5"/><path d="M406.1,451.1 C409.9,451.5 413.6,450.7 420.7,452.6 C427.9,454.5 430.5,456.9 433.9,458.4" stroke-width="4.0"/><path d="M374.0,458.4 L369.6,470.1" stroke-width="3.6"/><path d="M378.4,505.2 C381.0,505.6 384.1,505.2 388.6,506.7 C393.1,508.2 394.0,509.9 395.9,511.0" stroke-width="4.0"/><path d="M372.5,490.6 C374.8,491.7 378.3,491.2 381.3,495.0 C384.3,498.7 383.5,502.6 384.2,505.2" stroke-width="3.0"/><path d="M512.8,400.0 C512.8,402.2 510.9,403.9 512.8,408.8 C514.7,413.6 515.6,414.5 520.1,419.0 C524.6,423.5 525.1,421.8 530.3,426.3 C535.6,430.8 536.4,432.0 540.6,436.5 C544.7,441.0 544.9,442.0 546.4,443.8" stroke-width="4.8"/><path d="M574.2,465.7 C579.8,465.6 585.6,465.4 596.1,465.0 C606.6,464.6 610.2,464.5 615.1,464.3" stroke-width="6.5"/><path d="M471.9,426.3 C475.6,424.4 479.0,422.0 486.5,419.0 C494.0,416.0 494.4,417.2 501.1,414.6 C507.8,412.0 509.8,410.3 512.8,408.8" stroke-width="4.0"/><path d="M559.5,400.0 C560.3,403.7 559.5,407.9 562.5,414.6 C565.5,421.4 567.9,420.7 571.2,426.3 C574.6,431.9 573.7,431.3 575.6,436.5 C577.5,441.8 577.8,444.1 578.5,446.8" stroke-width="4.0"/><path d="M578.5,421.9 L571.2,426.3" stroke-width="3.2"/><path d="M606.3,400.0 C607.8,403.7 609.7,407.9 612.1,414.6 C614.6,421.4 614.9,423.3 615.8,426.3" stroke-width="8.1"/><path d="M483.6,438.0 L501.1,439.4" stroke-width="2.5"/><path d="M486.5,451.1 L501.1,449.7" stroke-width="2.5"/><path d="M479.2,511.0 C480.3,514.0 484.7,518.2 483.6,522.7 C482.4,527.2 477.1,527.1 474.8,528.6" stroke-width="2.5"/><path d="M600.5,481.8 C600.8,487.1 600.4,493.3 601.9,502.3 C603.4,511.3 605.2,513.1 606.3,516.9" stroke-width="6.0"/><path d="M355.0,597.2 C358.0,599.1 361.8,600.8 366.7,604.5 C371.6,608.3 373.2,608.9 374.0,611.9 C374.7,614.8 374.5,615.5 369.6,616.2 C364.7,617.0 358.7,615.1 355.0,614.8" stroke-width="3.0"/><path d="M391.5,560.7 C393.4,564.5 395.8,567.8 398.8,575.3 C401.8,582.8 402.1,586.2 403.2,589.9" stroke-width="2.5"/><path d="M433.9,557.8 C436.9,558.5 439.6,560.0 445.6,560.7 C451.6,561.5 454.3,560.7 457.3,560.7" stroke-width="2.5"/><path d="M355.0,419.0 C358.0,421.6 364.4,422.9 366.7,429.2 C368.9,435.6 364.5,440.1 363.8,443.8" stroke-width="2.5"/><path d="M391.5,426.3 L403.2,435.1" stroke-width="2.5"/><path d="M460.2,560.7 L463.1,575.3" stroke-width="3.5"/><path d="M177.7,664.6 C179.5,667.2 183.5,668.8 185.0,674.8 C186.5,680.8 185.0,682.0 183.5,688.0 C182.0,694.0 180.2,695.6 179.1,698.2" stroke-width="7.2"/><path d="M190.8,674.8 C192.7,677.8 195.9,681.7 198.1,686.5 C200.4,691.4 199.2,692.0 199.6,693.8" stroke-width="6.3"/><path d="M185.0,674.8 L204.0,677.8" stroke-width="4.5"/><path d="M114.8,658.8 C113.3,662.1 112.0,665.9 109.0,671.9 C106.0,677.9 104.6,679.5 103.1,682.1" stroke-width="4.0"/><path d="M132.4,654.4 C131.2,660.8 129.5,669.1 128.0,679.2 C126.5,689.3 126.9,690.1 126.5,693.8" stroke-width="2.5"/><path d="M148.4,664.6 C149.2,670.2 150.6,675.3 151.4,686.5 C152.1,697.8 151.4,702.8 151.4,708.4" stroke-width="4.0"/><path d="M135.3,728.9 C138.7,730.0 142.1,731.0 148.4,733.3 C154.8,735.5 154.5,738.0 160.1,737.7 C165.7,737.3 165.1,733.3 170.4,731.8 C175.6,730.3 175.0,730.3 180.6,731.8 C186.2,733.3 185.5,735.8 192.3,737.7 C199.0,739.5 200.5,737.3 206.9,739.1 C213.3,741.0 211.9,742.3 217.1,745.0 C222.4,747.6 224.7,748.2 227.3,749.4" stroke-width="6.0"/><path d="M135.3,728.9 C138.7,730.0 142.1,731.0 148.4,733.3 C154.8,735.5 154.5,738.0 160.1,737.7 C165.7,737.3 165.1,733.3 170.4,731.8 C175.6,730.3 175.0,730.3 180.6,731.8 C186.2,733.3 185.5,735.8 192.3,737.7 C199.0,739.5 200.5,737.3 206.9,739.1 C213.3,741.0 211.9,742.3 217.1,745.0 C222.4,747.6 224.7,748.2 227.3,749.4" stroke-width="4.5"/><path d="M195.2,727.4 C197.4,729.3 201.0,731.7 204.0,734.7 C207.0,737.7 206.1,738.0 206.9,739.1" stroke-width="3.6"/><path d="M97.3,728.9 C101.1,728.9 106.3,729.6 111.9,728.9 C117.5,728.1 117.3,726.7 119.2,726.0" stroke-width="3.0"/><path d="M221.5,690.9 C225.2,693.2 231.6,695.2 236.1,699.7 C240.6,704.2 239.0,704.3 239.0,708.4 C239.0,712.6 236.9,713.9 236.1,715.7" stroke-width="2.5"/><path d="M243.4,689.4 L240.5,699.7" stroke-width="2.5"/><path d="M218.6,708.4 L230.3,711.4" stroke-width="2.5"/><path d="M262.4,696.8 C266.9,698.6 271.7,701.1 279.9,704.1 C288.2,707.1 290.8,707.3 294.5,708.4" stroke-width="3.0"/><path d="M272.6,654.4 C276.4,657.0 279.7,658.2 287.2,664.6 C294.7,671.0 296.2,671.7 301.9,679.2 C307.5,686.7 306.5,685.6 309.2,693.8 C311.8,702.1 311.3,706.9 312.1,711.4" stroke-width="5.5"/><path d="M309.2,654.4 C311.4,657.0 316.4,659.7 317.9,664.6 C319.4,669.5 317.2,669.6 315.0,673.4 C312.8,677.1 310.7,677.7 309.2,679.2" stroke-width="4.0"/><path d="M236.1,669.0 C241.7,668.6 246.8,666.8 258.0,667.5 C269.3,668.3 274.3,670.8 279.9,671.9" stroke-width="3.5"/><path d="M148.4,761.0 C149.6,762.2 152.8,762.8 152.8,765.4 C152.8,768.0 149.6,769.8 148.4,771.3" stroke-width="3.2"/><path d="M145.5,762.5 C151.9,762.5 158.4,761.8 170.4,762.5 C182.3,763.2 185.2,762.4 192.3,765.4 C199.4,768.4 196.2,768.2 198.1,774.2 C200.0,780.2 199.2,785.1 199.6,788.8" stroke-width="3.0"/><path d="M135.3,785.9 C138.7,786.3 141.3,787.7 148.4,787.3 C155.6,787.0 155.6,785.9 163.1,784.4 C170.5,782.9 170.2,782.2 177.7,781.5 C185.2,780.7 188.5,781.5 192.3,781.5" stroke-width="4.8"/><path d="M138.2,807.8 C140.8,808.9 142.1,810.7 148.4,812.2 C154.8,813.7 154.8,812.5 163.1,813.6 C171.3,814.8 173.1,816.2 180.6,816.6 C188.1,816.9 187.0,816.6 192.3,815.1 C197.5,813.6 198.8,811.8 201.0,810.7" stroke-width="5.5"/><path d="M138.2,807.8 C140.8,808.9 142.1,810.7 148.4,812.2 C154.8,813.7 154.8,812.5 163.1,813.6 C171.3,814.8 176.1,815.8 180.6,816.6" stroke-width="4.5"/><path d="M98.8,766.9 C99.5,770.6 98.3,776.2 101.7,781.5 C105.1,786.7 107.4,783.6 111.9,787.3 C116.4,791.1 117.3,793.9 119.2,796.1" stroke-width="4.0"/><path d="M95.8,752.3 L104.6,749.4" stroke-width="2.5"/><path d="M94.4,825.3 L97.3,832.6" stroke-width="7.2"/><path d="M95.8,850.2 C101.8,849.4 107.6,847.6 119.2,847.2 C130.8,846.9 131.8,846.8 141.1,848.7 C150.5,850.6 146.4,852.3 155.7,854.5 C165.1,856.8 168.3,856.3 177.7,857.5 C187.0,858.6 188.5,858.6 192.3,858.9" stroke-width="7.5"/><path d="M101.7,886.7 C104.3,887.8 106.7,888.4 111.9,891.1 C117.2,893.7 118.0,894.6 122.1,896.9 C126.3,899.2 126.5,899.2 128.0,900.0" stroke-width="4.0"/><path d="M98.8,883.8 C104.0,884.1 108.4,883.4 119.2,885.2 C130.1,887.1 135.5,889.6 141.1,891.1" stroke-width="4.0"/><path d="M163.1,883.8 L177.7,886.7" stroke-width="3.0"/><path d="M355.0,650.0 C356.5,655.6 359.7,660.7 360.8,671.9 C362.0,683.2 359.8,688.2 359.4,693.8" stroke-width="4.5"/></g>
<g filter="url(#dy)"><g fill="none" stroke="rgb(156,0,0)" stroke-linecap="round" stroke-linejoin="round"><path d="M140.5,347.2 C146.2,346.5 151.2,346.9 162.5,344.3 C173.7,341.7 178.7,338.9 184.4,337.0" stroke-width="9.6"/><path d="M242.8,201.1 L264.7,199.7" stroke-width="7.2"/><path d="M250.1,281.5 L248.7,288.8" stroke-width="6.0"/><path d="M228.2,252.3 L235.5,256.7" stroke-width="6.0"/><path d="M293.9,245.0 L308.6,240.6" stroke-width="6.0"/><path d="M452.3,198.2 C451.9,200.8 450.5,203.2 450.8,208.4 C451.2,213.7 453.0,216.0 453.8,218.7" stroke-width="4.8"/><path d="M427.5,261.0 L439.1,259.6" stroke-width="4.8"/><path d="M412.8,266.9 L415.8,272.7" stroke-width="4.8"/><path d="M483.0,285.9 C486.0,284.8 489.0,283.4 494.7,281.5 C500.3,279.6 502.3,279.3 504.9,278.6" stroke-width="6.0"/><path d="M488.8,255.2 C491.8,255.9 494.5,256.2 500.5,258.1 C506.5,260.0 510.3,259.1 512.2,262.5 C514.1,265.9 508.9,269.0 507.8,271.3" stroke-width="4.8"/><path d="M447.9,320.9 C446.4,325.1 447.3,330.3 442.1,337.0 C436.8,343.8 434.9,340.9 427.5,347.2 C420.0,353.6 420.3,354.4 412.8,361.9 C405.3,369.3 402.0,372.7 398.2,376.5" stroke-width="4.8"/><path d="M405.5,318.0 L447.9,318.0" stroke-width="3.6"/><path d="M108.4,481.8 C112.9,480.3 115.8,480.1 125.9,476.0 C136.0,471.9 134.7,474.0 147.8,465.7 C161.0,457.5 162.1,452.4 177.1,443.8 C192.0,435.2 191.3,437.4 206.3,432.1 C221.3,426.9 228.0,425.6 235.5,423.4" stroke-width="12.0"/><path d="M235.5,413.1 C246.7,413.5 256.9,413.9 279.3,414.6 C301.8,415.4 302.6,416.8 323.2,416.1 C343.7,415.3 350.1,412.8 359.4,411.7" stroke-width="9.6"/><path d="M137.6,521.3 L147.8,531.5" stroke-width="3.6"/><path d="M257.4,547.6 L258.9,554.9" stroke-width="7.2"/><path d="M276.4,595.8 L277.9,604.5" stroke-width="6.0"/><path d="M314.4,578.2 L312.9,589.9" stroke-width="6.0"/><path d="M125.9,632.3 C135.3,631.6 145.6,630.9 162.5,629.4 C179.3,627.9 172.9,628.0 191.7,626.5 C210.4,625.0 216.8,624.7 235.5,623.5 C254.2,622.4 257.2,622.5 264.7,622.1" stroke-width="12.0"/><path d="M500.5,414.6 C503.5,413.5 508.4,413.2 512.2,410.2 C515.9,407.2 514.4,404.8 515.1,402.9" stroke-width="6.0"/><path d="M485.9,454.1 L500.5,454.8" stroke-width="7.2"/><path d="M398.2,483.3 L412.8,484.7" stroke-width="7.2"/><path d="M464.0,534.4 L471.3,541.7" stroke-width="9.6"/><path d="M405.5,576.8 L415.8,579.7" stroke-width="7.2"/><path d="M358.8,407.3 L360.2,410.2" stroke-width="6.0"/><path d="M286.6,666.1 L288.1,671.9" stroke-width="4.8"/><path d="M308.6,669.0 L314.4,664.6" stroke-width="4.8"/><path d="M293.9,677.8 L302.7,679.2" stroke-width="4.8"/><path d="M228.2,692.4 C230.1,694.6 232.5,696.3 235.5,701.1 C238.5,706.0 238.0,706.1 239.9,711.4 C241.8,716.6 242.1,719.0 242.8,721.6" stroke-width="4.8"/><path d="M317.3,709.9 L320.2,711.4" stroke-width="9.6"/><path d="M283.7,726.0 L288.1,727.4" stroke-width="7.2"/><path d="M150.8,737.7 C156.0,735.8 163.0,731.9 171.2,730.4 C179.5,728.9 177.7,728.4 182.9,731.8 C188.2,735.2 185.7,739.4 191.7,743.5 C197.7,747.6 196.9,747.1 206.3,747.9 C215.6,748.6 217.0,747.6 228.2,746.4 C239.4,745.3 241.5,742.8 250.1,743.5 C258.7,744.3 258.8,747.9 261.8,749.4" stroke-width="6.0"/><path d="M147.8,761.0 C155.3,761.4 165.8,760.3 177.1,762.5 C188.3,764.7 187.9,767.9 191.7,769.8" stroke-width="6.0"/><path d="M163.9,783.0 L174.1,781.5" stroke-width="6.0"/><path d="M125.9,810.7 L133.2,807.8" stroke-width="9.6"/><path d="M133.2,842.9 L140.5,838.5" stroke-width="9.6"/><path d="M162.5,857.5 L184.4,860.4" stroke-width="9.6"/></g><g fill="none" stroke="rgb(156,0,0)" stroke-linecap="round" stroke-linejoin="round"><path d="M331.9,304.9 C332.3,309.4 333.2,314.2 333.4,322.4 C333.6,330.6 332.9,333.3 332.7,337.0" stroke-width="10.6"/><path d="M357.5,294.6 L357.5,304.9" stroke-width="10.6"/><path d="M334.9,316.6 L343.6,318.0" stroke-width="9.8"/><path d="M215.0,357.5 L215.8,366.2" stroke-width="10.5"/><path d="M184.4,372.1 L185.1,377.9" stroke-width="9.8"/><path d="M169.8,376.5 L169.0,383.8" stroke-width="9.8"/><path d="M272.0,325.3 C272.6,330.2 273.5,336.8 274.2,344.3 C275.0,351.8 274.8,351.9 275.0,354.5" stroke-width="9.8"/><path d="M275.0,354.5 L280.8,357.5" stroke-width="9.1"/><path d="M257.4,389.6 C257.0,391.5 255.6,394.3 256.0,396.9 C256.3,399.6 258.1,399.2 258.9,400.0" stroke-width="11.3"/><path d="M293.9,391.1 L293.9,400.0" stroke-width="9.7"/><path d="M348.0,372.1 L359.4,377.9" stroke-width="9.7"/><path d="M112.8,395.5 L118.6,398.4" stroke-width="10.5"/><path d="M358.8,296.1 L364.6,301.2" stroke-width="14.9"/><path d="M367.5,303.4 L370.5,312.2" stroke-width="10.4"/><path d="M512.2,196.8 C513.3,199.0 514.3,199.5 516.6,205.5 C518.8,211.5 518.3,213.4 521.0,220.1 C523.6,226.9 524.9,227.3 526.8,231.8 C528.7,236.3 527.9,236.2 528.3,237.7" stroke-width="11.2"/><path d="M542.9,201.9 C545.9,202.6 551.9,200.5 554.6,204.8 C557.2,209.1 553.5,215.1 553.1,218.7" stroke-width="9.8"/><path d="M608.6,185.1 L609.4,199.7" stroke-width="9.1"/><path d="M408.5,274.2 L409.9,287.3" stroke-width="9.8"/><path d="M420.1,274.2 C422.0,276.1 423.7,278.1 427.5,281.5 C431.2,284.9 432.9,285.8 434.8,287.3" stroke-width="10.5"/><path d="M580.9,240.6 C582.0,242.8 583.7,245.2 585.2,249.4 C586.7,253.5 586.3,254.8 586.7,256.7" stroke-width="9.1"/><path d="M598.4,329.7 C598.8,333.5 599.1,337.2 599.9,344.3 C600.6,351.4 600.9,354.1 601.3,357.5" stroke-width="11.8"/><path d="M601.3,357.5 C602.8,360.5 604.9,362.4 607.2,369.2 C609.4,375.9 609.3,380.0 610.1,383.8" stroke-width="12.0"/><path d="M610.1,383.8 L605.7,395.5" stroke-width="10.4"/><path d="M573.6,366.2 C575.4,369.2 577.1,372.7 580.9,377.9 C584.6,383.2 586.3,384.4 588.2,386.7" stroke-width="11.1"/><path d="M588.2,386.7 L602.8,396.9" stroke-width="9.1"/><path d="M491.7,377.9 C493.2,380.2 493.8,382.9 497.6,386.7 C501.3,390.4 501.9,389.5 506.3,392.5 C510.8,395.5 512.9,396.9 515.1,398.4" stroke-width="11.1"/><path d="M526.8,386.7 L522.4,396.9" stroke-width="9.8"/><path d="M526.8,335.6 L538.5,338.5" stroke-width="9.8"/><path d="M374.9,351.6 C374.5,354.2 374.9,357.4 373.4,361.9 C371.9,366.3 370.1,367.3 369.0,369.2" stroke-width="12.8"/><path d="M363.2,358.9 L370.5,366.2" stroke-width="9.7"/><path d="M389.5,354.5 C390.0,357.5 390.7,360.2 391.7,366.2 C392.6,372.2 392.7,374.9 393.1,377.9" stroke-width="10.4"/><path d="M360.2,379.4 L357.3,383.8" stroke-width="11.1"/><path d="M388.0,338.5 L392.4,339.9" stroke-width="9.8"/><path d="M466.9,386.7 L467.6,392.5" stroke-width="9.8"/><path d="M213.6,404.4 C212.8,407.0 211.8,410.1 210.7,414.6 C209.5,419.1 209.6,420.0 209.2,421.9" stroke-width="11.1"/><path d="M178.5,411.7 C180.0,413.2 183.2,414.5 184.4,417.5 C185.5,420.5 183.3,421.9 182.9,423.4" stroke-width="9.8"/><path d="M161.0,419.0 C161.0,421.6 160.2,423.6 161.0,429.2 C161.7,434.8 163.2,437.9 163.9,440.9" stroke-width="9.8"/><path d="M149.3,446.8 C151.9,447.5 153.9,450.4 159.5,449.7 C165.1,448.9 168.2,445.3 171.2,443.8" stroke-width="10.5"/><path d="M114.2,426.3 L121.5,429.2" stroke-width="9.8"/><path d="M104.0,433.6 L103.3,440.9" stroke-width="9.1"/><path d="M125.9,474.5 C128.5,473.4 131.7,471.6 136.2,470.1 C140.6,468.6 141.6,469.0 143.5,468.7" stroke-width="12.6"/><path d="M235.5,408.8 C239.3,409.3 242.6,410.6 250.1,411.0 C257.6,411.3 261.0,410.4 264.7,410.2" stroke-width="9.8"/><path d="M258.9,401.5 L260.3,407.3" stroke-width="9.7"/><path d="M264.7,416.1 C272.2,414.9 279.0,412.1 293.9,411.7 C308.9,411.3 315.7,413.9 323.2,414.6" stroke-width="9.1"/><path d="M292.5,402.9 L293.9,408.8" stroke-width="9.8"/><path d="M111.3,478.9 L115.7,484.7" stroke-width="9.8"/><path d="M108.4,496.4 L114.2,497.9" stroke-width="10.4"/><path d="M153.7,497.9 C155.2,499.8 156.5,501.8 159.5,505.2 C162.5,508.6 163.9,509.5 165.4,511.0" stroke-width="14.2"/><path d="M206.3,454.1 C206.7,455.9 208.5,457.6 207.7,461.4 C207.0,465.1 204.5,466.8 203.4,468.7" stroke-width="9.8"/><path d="M245.7,433.6 L247.2,443.8" stroke-width="9.7"/><path d="M311.5,452.6 C313.0,450.3 314.0,447.2 317.3,443.8 C320.7,440.5 322.8,440.6 324.6,439.4" stroke-width="9.8"/><path d="M324.6,439.4 C326.1,443.6 327.5,448.4 330.5,455.5 C333.5,462.6 334.8,464.2 336.3,467.2" stroke-width="9.1"/><path d="M229.7,490.6 C230.4,492.5 230.3,494.9 232.6,497.9 C234.8,500.9 236.9,501.1 238.4,502.3" stroke-width="9.8"/><path d="M299.8,490.6 C299.4,493.6 299.1,497.0 298.3,502.3 C297.6,507.5 297.2,508.8 296.9,511.0" stroke-width="9.8"/><path d="M131.8,516.9 L128.8,528.6" stroke-width="9.1"/><path d="M342.2,537.3 L350.9,540.3" stroke-width="12.8"/><path d="M352.4,543.2 C351.6,545.4 351.0,548.2 349.5,551.9 C348.0,555.7 347.3,556.3 346.5,557.8" stroke-width="10.4"/><path d="M331.9,565.1 C333.4,567.0 335.5,568.3 337.8,572.4 C340.0,576.5 338.8,577.0 340.7,581.2 C342.6,585.3 344.0,586.6 345.1,588.5" stroke-width="11.1"/><path d="M200.4,578.2 C198.9,580.5 198.3,583.6 194.6,587.0 C190.8,590.4 189.6,589.9 185.8,591.4 C182.1,592.9 181.5,592.5 180.0,592.9" stroke-width="11.3"/><path d="M175.6,578.2 C176.4,581.2 178.1,583.2 178.5,589.9 C178.9,596.7 177.4,600.8 177.1,604.5" stroke-width="10.4"/><path d="M159.5,597.2 C162.5,598.4 166.7,599.8 171.2,601.6 C175.7,603.5 175.6,603.8 177.1,604.5" stroke-width="9.8"/><path d="M250.1,589.9 C249.7,592.9 248.7,596.4 248.7,601.6 C248.7,606.9 249.7,608.1 250.1,610.4" stroke-width="9.8"/><path d="M289.6,619.2 C290.7,621.4 293.6,623.4 293.9,627.9 C294.3,632.4 291.8,634.4 291.0,636.7" stroke-width="9.8"/><path d="M191.7,627.2 L206.3,626.5" stroke-width="9.8"/><path d="M133.2,638.1 L147.8,636.7" stroke-width="9.1"/><path d="M99.6,579.7 L98.2,587.0" stroke-width="9.8"/><path d="M101.1,617.7 L109.9,619.2" stroke-width="9.8"/><path d="M423.1,416.1 C424.9,417.6 426.6,418.5 430.4,421.9 C434.1,425.3 435.8,427.3 437.7,429.2" stroke-width="11.3"/><path d="M456.7,404.4 C454.8,407.8 453.1,410.8 449.4,417.5 C445.6,424.3 444.3,424.7 442.1,430.7 C439.8,436.7 441.0,438.3 440.6,440.9" stroke-width="9.8"/><path d="M402.6,435.1 C404.5,436.6 406.5,437.5 409.9,440.9 C413.3,444.3 414.3,446.3 415.8,448.2" stroke-width="9.8"/><path d="M392.4,455.5 C395.4,454.4 397.7,452.6 404.1,451.1 C410.4,449.6 413.9,450.0 417.2,449.7" stroke-width="11.3"/><path d="M390.9,457.0 L389.5,464.3" stroke-width="9.1"/><path d="M374.9,512.5 C376.7,510.6 378.8,506.3 382.2,505.2 C385.5,504.1 384.3,506.2 388.0,508.1 C391.8,510.0 394.5,511.4 396.8,512.5" stroke-width="11.8"/><path d="M382.2,505.2 L383.6,493.5" stroke-width="9.8"/><path d="M354.4,541.7 C356.3,541.3 357.6,541.4 361.7,540.3 C365.8,539.1 368.2,538.1 370.5,537.3" stroke-width="10.6"/><path d="M544.3,439.4 L550.2,443.8" stroke-width="10.5"/><path d="M573.6,439.4 L579.4,443.8" stroke-width="10.5"/><path d="M481.5,524.2 L483.0,531.5" stroke-width="9.8"/><path d="M133.2,664.6 L136.2,654.4" stroke-width="9.1"/><path d="M147.1,664.6 L147.8,676.3" stroke-width="9.1"/><path d="M161.0,658.0 C163.2,658.6 165.6,658.9 169.8,660.2 C173.9,661.5 175.2,662.4 177.1,663.1" stroke-width="9.8"/><path d="M272.0,655.8 C274.3,657.3 277.0,659.1 280.8,661.7 C284.5,664.3 285.1,664.9 286.6,666.1" stroke-width="10.5"/><path d="M260.3,669.0 C262.6,669.7 265.0,670.0 269.1,671.9 C273.2,673.8 274.5,675.2 276.4,676.3" stroke-width="9.8"/><path d="M220.9,707.0 L223.8,709.9" stroke-width="9.8"/><path d="M171.2,730.4 L175.6,730.4" stroke-width="9.1"/><path d="M149.3,762.5 L165.4,761.8" stroke-width="9.1"/><path d="M153.0,762.5 L153.0,766.9" stroke-width="9.1"/><path d="M147.8,787.3 C149.7,786.6 151.0,785.5 155.1,784.4 C159.3,783.3 161.7,783.3 163.9,783.0" stroke-width="9.8"/><path d="M122.3,816.6 C123.6,817.7 123.8,819.8 127.4,820.9 C130.9,822.1 130.9,822.1 136.2,820.9 C141.4,819.8 144.8,817.7 147.8,816.6" stroke-width="9.7"/><path d="M96.7,825.3 L97.4,834.1" stroke-width="15.6"/><path d="M96.7,844.3 L104.0,845.8" stroke-width="10.4"/><path d="M104.0,847.2 C107.8,847.6 111.1,849.5 118.6,848.7 C126.1,848.0 129.5,845.4 133.2,844.3" stroke-width="11.2"/></g></g>
<g filter="url(#dc)"><g fill="none" stroke="rgb(102,0,0)" stroke-linecap="round" stroke-linejoin="round"><path d="M225.3,281.5 L228.2,283.0" stroke-width="6.0"/><path d="M109.9,348.7 L115.7,354.5" stroke-width="6.0"/><path d="M258.9,293.2 L264.7,296.1" stroke-width="5.0"/><path d="M234.0,300.5 C232.5,301.6 230.8,301.5 228.2,304.9 C225.6,308.2 224.9,311.4 223.8,313.6" stroke-width="4.0"/><path d="M299.8,316.6 L301.3,322.4" stroke-width="6.0"/><path d="M561.9,167.5 L567.7,174.8" stroke-width="4.0"/><path d="M377.8,310.7 L382.2,319.5" stroke-width="5.0"/><path d="M478.6,345.8 L483.0,344.3" stroke-width="5.0"/><path d="M458.1,367.7 L462.5,372.1" stroke-width="6.0"/><path d="M471.3,280.0 L475.7,285.9" stroke-width="4.0"/><path d="M526.8,290.3 C529.4,288.4 529.5,286.7 537.0,283.0 C544.5,279.2 551.2,277.5 556.0,275.6" stroke-width="3.0"/><path d="M277.1,462.8 L276.4,467.2" stroke-width="4.0"/><path d="M301.3,465.7 L302.7,471.6" stroke-width="5.0"/><path d="M213.6,570.9 C215.5,569.8 217.9,568.4 220.9,566.6 C223.9,564.7 224.2,564.4 225.3,563.6" stroke-width="5.0"/><path d="M133.2,589.9 L140.5,592.9" stroke-width="6.0"/><path d="M143.5,404.4 L143.8,406.6" stroke-width="4.0"/><path d="M134.7,419.0 L136.9,420.5" stroke-width="4.0"/><path d="M242.8,515.4 L244.3,518.3" stroke-width="5.0"/><path d="M200.4,481.8 L200.7,487.7" stroke-width="4.0"/><path d="M475.7,423.4 C477.5,423.0 480.7,420.0 483.0,421.9 C485.2,423.8 484.1,428.4 484.4,430.7" stroke-width="5.0"/><path d="M485.9,439.4 L491.7,438.7" stroke-width="5.0"/><path d="M393.8,426.3 L396.8,427.0" stroke-width="4.0"/><path d="M367.5,448.2 L373.4,458.4" stroke-width="5.0"/><path d="M573.6,426.3 L577.9,427.8" stroke-width="4.0"/><path d="M108.4,671.9 L104.0,679.2" stroke-width="5.0"/><path d="M150.8,690.9 L151.5,698.2" stroke-width="4.0"/><path d="M193.1,737.7 C195.8,737.8 198.9,736.5 203.4,738.4 C207.9,740.3 208.8,743.3 210.7,745.0" stroke-width="5.0"/><path d="M133.2,727.4 L137.6,728.2" stroke-width="5.0"/><path d="M115.7,790.3 L118.6,796.1" stroke-width="6.0"/></g><g fill="none" stroke="rgb(102,0,0)" stroke-linecap="round" stroke-linejoin="round"><path d="M293.9,379.4 C297.7,377.5 301.1,375.8 308.6,372.1 C316.0,368.3 319.4,366.6 323.2,364.8" stroke-width="9.5"/><path d="M323.2,364.8 L337.8,357.5" stroke-width="9.5"/><path d="M471.3,228.9 C473.2,230.0 475.6,233.3 478.6,233.3 C481.6,233.3 481.8,230.0 483.0,228.9" stroke-width="9.5"/><path d="M553.1,237.7 C554.6,236.5 555.9,235.5 558.9,233.3 C561.9,231.0 563.3,230.0 564.8,228.9" stroke-width="8.8"/><path d="M363.2,341.4 L367.5,342.9" stroke-width="9.5"/><path d="M551.6,394.0 C553.5,394.7 556.3,395.4 558.9,396.9 C561.6,398.5 561.1,399.2 561.9,400.0" stroke-width="10.2"/><path d="M177.1,515.4 C178.9,517.7 181.4,519.3 184.4,524.2 C187.4,529.1 186.9,528.8 188.8,534.4 C190.6,540.0 190.2,541.6 191.7,546.1 C193.2,550.6 193.8,550.4 194.6,551.9" stroke-width="8.8"/><path d="M251.6,457.0 C252.7,458.9 254.1,461.3 256.0,464.3 C257.8,467.3 258.1,467.5 258.9,468.7" stroke-width="8.8"/><path d="M277.9,452.6 L277.9,462.8" stroke-width="8.8"/><path d="M339.2,483.3 C340.0,485.2 340.3,487.2 342.2,490.6 C344.0,494.0 345.4,494.9 346.5,496.4" stroke-width="12.5"/><path d="M311.5,614.8 L317.3,623.5" stroke-width="8.8"/><path d="M320.2,627.9 C322.1,629.8 327.2,631.1 327.5,635.2 C327.9,639.3 323.2,641.7 321.7,644.0" stroke-width="10.2"/><path d="M561.9,402.9 C562.6,404.8 564.4,406.9 564.8,410.2 C565.2,413.6 563.7,414.6 563.3,416.1" stroke-width="8.8"/><path d="M610.8,410.2 L612.3,420.5" stroke-width="11.0"/><path d="M180.0,693.8 C181.1,690.8 182.1,687.4 184.4,682.1 C186.6,676.9 187.6,675.6 188.8,673.4" stroke-width="11.0"/><path d="M188.8,673.4 L197.5,679.2" stroke-width="8.8"/><path d="M104.0,886.7 C106.6,887.8 109.7,889.6 114.2,891.1 C118.7,892.6 119.7,892.2 121.5,892.5" stroke-width="10.2"/><path d="M106.9,888.1 L117.2,891.1" stroke-width="8.0"/></g></g>
<g filter="url(#do)"><g fill="none" stroke="rgb(189,0,0)" stroke-linecap="round" stroke-linejoin="round"><path d="M334.9,316.6 L343.6,318.0" stroke-width="2.8"/><path d="M215.0,357.5 L215.8,366.2" stroke-width="3.5"/><path d="M184.4,372.1 L185.1,377.9" stroke-width="2.8"/><path d="M169.8,376.5 L169.0,383.8" stroke-width="2.8"/><path d="M272.0,325.3 C272.6,330.2 273.5,336.8 274.2,344.3 C275.0,351.8 274.8,351.9 275.0,354.5" stroke-width="2.8"/><path d="M275.0,354.5 L280.8,357.5" stroke-width="2.1"/><path d="M112.8,395.5 L118.6,398.4" stroke-width="3.5"/><path d="M512.2,196.8 C513.3,199.0 514.3,199.5 516.6,205.5 C518.8,211.5 518.3,213.4 521.0,220.1 C523.6,226.9 524.9,227.3 526.8,231.8 C528.7,236.3 527.9,236.2 528.3,237.7" stroke-width="4.2"/><path d="M542.9,201.9 C545.9,202.6 551.9,200.5 554.6,204.8 C557.2,209.1 553.5,215.1 553.1,218.7" stroke-width="2.8"/><path d="M608.6,185.1 L609.4,199.7" stroke-width="2.1"/><path d="M408.5,274.2 L409.9,287.3" stroke-width="2.8"/><path d="M420.1,274.2 C422.0,276.1 423.7,278.1 427.5,281.5 C431.2,284.9 432.9,285.8 434.8,287.3" stroke-width="3.5"/><path d="M580.9,240.6 C582.0,242.8 583.7,245.2 585.2,249.4 C586.7,253.5 586.3,254.8 586.7,256.7" stroke-width="2.1"/><path d="M588.2,386.7 L602.8,396.9" stroke-width="2.1"/><path d="M526.8,386.7 L522.4,396.9" stroke-width="2.8"/><path d="M526.8,335.6 L538.5,338.5" stroke-width="2.8"/><path d="M388.0,338.5 L392.4,339.9" stroke-width="2.8"/><path d="M466.9,386.7 L467.6,392.5" stroke-width="2.8"/><path d="M178.5,411.7 C180.0,413.2 183.2,414.5 184.4,417.5 C185.5,420.5 183.3,421.9 182.9,423.4" stroke-width="2.8"/><path d="M161.0,419.0 C161.0,421.6 160.2,423.6 161.0,429.2 C161.7,434.8 163.2,437.9 163.9,440.9" stroke-width="2.8"/><path d="M149.3,446.8 C151.9,447.5 153.9,450.4 159.5,449.7 C165.1,448.9 168.2,445.3 171.2,443.8" stroke-width="3.5"/><path d="M114.2,426.3 L121.5,429.2" stroke-width="2.8"/><path d="M104.0,433.6 L103.3,440.9" stroke-width="2.1"/><path d="M125.9,474.5 C128.5,473.4 131.7,471.6 136.2,470.1 C140.6,468.6 141.6,469.0 143.5,468.7" stroke-width="5.6"/><path d="M235.5,408.8 C239.3,409.3 242.6,410.6 250.1,411.0 C257.6,411.3 261.0,410.4 264.7,410.2" stroke-width="2.8"/><path d="M264.7,416.1 C272.2,414.9 279.0,412.1 293.9,411.7 C308.9,411.3 315.7,413.9 323.2,414.6" stroke-width="2.1"/><path d="M292.5,402.9 L293.9,408.8" stroke-width="2.8"/><path d="M111.3,478.9 L115.7,484.7" stroke-width="2.8"/><path d="M206.3,454.1 C206.7,455.9 208.5,457.6 207.7,461.4 C207.0,465.1 204.5,466.8 203.4,468.7" stroke-width="2.8"/><path d="M311.5,452.6 C313.0,450.3 314.0,447.2 317.3,443.8 C320.7,440.5 322.8,440.6 324.6,439.4" stroke-width="2.8"/><path d="M324.6,439.4 C326.1,443.6 327.5,448.4 330.5,455.5 C333.5,462.6 334.8,464.2 336.3,467.2" stroke-width="2.1"/><path d="M229.7,490.6 C230.4,492.5 230.3,494.9 232.6,497.9 C234.8,500.9 236.9,501.1 238.4,502.3" stroke-width="2.8"/><path d="M299.8,490.6 C299.4,493.6 299.1,497.0 298.3,502.3 C297.6,507.5 297.2,508.8 296.9,511.0" stroke-width="2.8"/><path d="M131.8,516.9 L128.8,528.6" stroke-width="2.1"/><path d="M159.5,597.2 C162.5,598.4 166.7,599.8 171.2,601.6 C175.7,603.5 175.6,603.8 177.1,604.5" stroke-width="2.8"/><path d="M250.1,589.9 C249.7,592.9 248.7,596.4 248.7,601.6 C248.7,606.9 249.7,608.1 250.1,610.4" stroke-width="2.8"/><path d="M289.6,619.2 C290.7,621.4 293.6,623.4 293.9,627.9 C294.3,632.4 291.8,634.4 291.0,636.7" stroke-width="2.8"/><path d="M191.7,627.2 L206.3,626.5" stroke-width="2.8"/><path d="M133.2,638.1 L147.8,636.7" stroke-width="2.1"/><path d="M99.6,579.7 L98.2,587.0" stroke-width="2.8"/><path d="M101.1,617.7 L109.9,619.2" stroke-width="2.8"/><path d="M456.7,404.4 C454.8,407.8 453.1,410.8 449.4,417.5 C445.6,424.3 444.3,424.7 442.1,430.7 C439.8,436.7 441.0,438.3 440.6,440.9" stroke-width="2.8"/><path d="M402.6,435.1 C404.5,436.6 406.5,437.5 409.9,440.9 C413.3,444.3 414.3,446.3 415.8,448.2" stroke-width="2.8"/><path d="M390.9,457.0 L389.5,464.3" stroke-width="2.1"/><path d="M382.2,505.2 L383.6,493.5" stroke-width="2.8"/><path d="M544.3,439.4 L550.2,443.8" stroke-width="3.5"/><path d="M573.6,439.4 L579.4,443.8" stroke-width="3.5"/><path d="M481.5,524.2 L483.0,531.5" stroke-width="2.8"/><path d="M133.2,664.6 L136.2,654.4" stroke-width="2.1"/><path d="M147.1,664.6 L147.8,676.3" stroke-width="2.1"/><path d="M161.0,658.0 C163.2,658.6 165.6,658.9 169.8,660.2 C173.9,661.5 175.2,662.4 177.1,663.1" stroke-width="2.8"/><path d="M272.0,655.8 C274.3,657.3 277.0,659.1 280.8,661.7 C284.5,664.3 285.1,664.9 286.6,666.1" stroke-width="3.5"/><path d="M260.3,669.0 C262.6,669.7 265.0,670.0 269.1,671.9 C273.2,673.8 274.5,675.2 276.4,676.3" stroke-width="2.8"/><path d="M220.9,707.0 L223.8,709.9" stroke-width="2.8"/><path d="M171.2,730.4 L175.6,730.4" stroke-width="2.1"/><path d="M149.3,762.5 L165.4,761.8" stroke-width="2.1"/><path d="M153.0,762.5 L153.0,766.9" stroke-width="2.1"/><path d="M147.8,787.3 C149.7,786.6 151.0,785.5 155.1,784.4 C159.3,783.3 161.7,783.3 163.9,783.0" stroke-width="2.8"/><path d="M104.0,847.2 C107.8,847.6 111.1,849.5 118.6,848.7 C126.1,848.0 129.5,845.4 133.2,844.3" stroke-width="4.2"/></g><g fill="none" stroke="rgb(189,0,0)" stroke-linecap="round" stroke-linejoin="round"><path d="M331.9,304.9 C332.3,309.4 333.2,314.2 333.4,322.4 C333.6,330.6 332.9,333.3 332.7,337.0" stroke-width="5.6"/><path d="M357.5,294.6 L357.5,304.9" stroke-width="5.6"/><path d="M257.4,389.6 C257.0,391.5 255.6,394.3 256.0,396.9 C256.3,399.6 258.1,399.2 258.9,400.0" stroke-width="6.3"/><path d="M293.9,391.1 L293.9,400.0" stroke-width="4.7"/><path d="M348.0,372.1 L359.4,377.9" stroke-width="4.7"/><path d="M358.8,296.1 L364.6,301.2" stroke-width="9.9"/><path d="M367.5,303.4 L370.5,312.2" stroke-width="5.4"/><path d="M598.4,329.7 C598.8,333.5 599.1,337.2 599.9,344.3 C600.6,351.4 600.9,354.1 601.3,357.5" stroke-width="6.8"/><path d="M601.3,357.5 C602.8,360.5 604.9,362.4 607.2,369.2 C609.4,375.9 609.3,380.0 610.1,383.8" stroke-width="7.0"/><path d="M610.1,383.8 L605.7,395.5" stroke-width="5.4"/><path d="M573.6,366.2 C575.4,369.2 577.1,372.7 580.9,377.9 C584.6,383.2 586.3,384.4 588.2,386.7" stroke-width="6.1"/><path d="M491.7,377.9 C493.2,380.2 493.8,382.9 497.6,386.7 C501.3,390.4 501.9,389.5 506.3,392.5 C510.8,395.5 512.9,396.9 515.1,398.4" stroke-width="6.1"/><path d="M374.9,351.6 C374.5,354.2 374.9,357.4 373.4,361.9 C371.9,366.3 370.1,367.3 369.0,369.2" stroke-width="7.8"/><path d="M363.2,358.9 L370.5,366.2" stroke-width="4.7"/><path d="M389.5,354.5 C390.0,357.5 390.7,360.2 391.7,366.2 C392.6,372.2 392.7,374.9 393.1,377.9" stroke-width="5.4"/><path d="M360.2,379.4 L357.3,383.8" stroke-width="6.1"/><path d="M213.6,404.4 C212.8,407.0 211.8,410.1 210.7,414.6 C209.5,419.1 209.6,420.0 209.2,421.9" stroke-width="6.1"/><path d="M258.9,401.5 L260.3,407.3" stroke-width="4.7"/><path d="M108.4,496.4 L114.2,497.9" stroke-width="5.4"/><path d="M153.7,497.9 C155.2,499.8 156.5,501.8 159.5,505.2 C162.5,508.6 163.9,509.5 165.4,511.0" stroke-width="9.2"/><path d="M245.7,433.6 L247.2,443.8" stroke-width="4.7"/><path d="M342.2,537.3 L350.9,540.3" stroke-width="7.8"/><path d="M352.4,543.2 C351.6,545.4 351.0,548.2 349.5,551.9 C348.0,555.7 347.3,556.3 346.5,557.8" stroke-width="5.4"/><path d="M331.9,565.1 C333.4,567.0 335.5,568.3 337.8,572.4 C340.0,576.5 338.8,577.0 340.7,581.2 C342.6,585.3 344.0,586.6 345.1,588.5" stroke-width="6.1"/><path d="M200.4,578.2 C198.9,580.5 198.3,583.6 194.6,587.0 C190.8,590.4 189.6,589.9 185.8,591.4 C182.1,592.9 181.5,592.5 180.0,592.9" stroke-width="6.3"/><path d="M175.6,578.2 C176.4,581.2 178.1,583.2 178.5,589.9 C178.9,596.7 177.4,600.8 177.1,604.5" stroke-width="5.4"/><path d="M423.1,416.1 C424.9,417.6 426.6,418.5 430.4,421.9 C434.1,425.3 435.8,427.3 437.7,429.2" stroke-width="6.3"/><path d="M392.4,455.5 C395.4,454.4 397.7,452.6 404.1,451.1 C410.4,449.6 413.9,450.0 417.2,449.7" stroke-width="6.3"/><path d="M374.9,512.5 C376.7,510.6 378.8,506.3 382.2,505.2 C385.5,504.1 384.3,506.2 388.0,508.1 C391.8,510.0 394.5,511.4 396.8,512.5" stroke-width="6.8"/><path d="M354.4,541.7 C356.3,541.3 357.6,541.4 361.7,540.3 C365.8,539.1 368.2,538.1 370.5,537.3" stroke-width="5.6"/><path d="M122.3,816.6 C123.6,817.7 123.8,819.8 127.4,820.9 C130.9,822.1 130.9,822.1 136.2,820.9 C141.4,819.8 144.8,817.7 147.8,816.6" stroke-width="4.7"/><path d="M96.7,825.3 L97.4,834.1" stroke-width="10.6"/><path d="M96.7,844.3 L104.0,845.8" stroke-width="5.4"/></g></g>
<g filter="url(#dr1)"><g fill="none" stroke="rgb(222,0,0)" stroke-linecap="round" stroke-linejoin="round"><path d="M293.9,391.1 L293.9,400.0" stroke-width="2.7"/><path d="M348.0,372.1 L359.4,377.9" stroke-width="2.7"/><path d="M367.5,303.4 L370.5,312.2" stroke-width="3.4"/><path d="M598.4,329.7 C598.8,333.5 599.1,337.2 599.9,344.3 C600.6,351.4 600.9,354.1 601.3,357.5" stroke-width="4.8"/><path d="M610.1,383.8 L605.7,395.5" stroke-width="3.4"/><path d="M573.6,366.2 C575.4,369.2 577.1,372.7 580.9,377.9 C584.6,383.2 586.3,384.4 588.2,386.7" stroke-width="4.1"/><path d="M491.7,377.9 C493.2,380.2 493.8,382.9 497.6,386.7 C501.3,390.4 501.9,389.5 506.3,392.5 C510.8,395.5 512.9,396.9 515.1,398.4" stroke-width="4.1"/><path d="M363.2,358.9 L370.5,366.2" stroke-width="2.7"/><path d="M389.5,354.5 C390.0,357.5 390.7,360.2 391.7,366.2 C392.6,372.2 392.7,374.9 393.1,377.9" stroke-width="3.4"/><path d="M360.2,379.4 L357.3,383.8" stroke-width="4.1"/><path d="M213.6,404.4 C212.8,407.0 211.8,410.1 210.7,414.6 C209.5,419.1 209.6,420.0 209.2,421.9" stroke-width="4.1"/><path d="M258.9,401.5 L260.3,407.3" stroke-width="2.7"/><path d="M108.4,496.4 L114.2,497.9" stroke-width="3.4"/><path d="M245.7,433.6 L247.2,443.8" stroke-width="2.7"/><path d="M352.4,543.2 C351.6,545.4 351.0,548.2 349.5,551.9 C348.0,555.7 347.3,556.3 346.5,557.8" stroke-width="3.4"/><path d="M331.9,565.1 C333.4,567.0 335.5,568.3 337.8,572.4 C340.0,576.5 338.8,577.0 340.7,581.2 C342.6,585.3 344.0,586.6 345.1,588.5" stroke-width="4.1"/><path d="M175.6,578.2 C176.4,581.2 178.1,583.2 178.5,589.9 C178.9,596.7 177.4,600.8 177.1,604.5" stroke-width="3.4"/><path d="M374.9,512.5 C376.7,510.6 378.8,506.3 382.2,505.2 C385.5,504.1 384.3,506.2 388.0,508.1 C391.8,510.0 394.5,511.4 396.8,512.5" stroke-width="4.8"/><path d="M122.3,816.6 C123.6,817.7 123.8,819.8 127.4,820.9 C130.9,822.1 130.9,822.1 136.2,820.9 C141.4,819.8 144.8,817.7 147.8,816.6" stroke-width="2.7"/><path d="M96.7,844.3 L104.0,845.8" stroke-width="3.4"/></g><g fill="none" stroke="rgb(222,0,0)" stroke-linecap="round" stroke-linejoin="round"><path d="M331.9,304.9 C332.3,309.4 333.2,314.2 333.4,322.4 C333.6,330.6 332.9,333.3 332.7,337.0" stroke-width="4.1"/><path d="M357.5,294.6 L357.5,304.9" stroke-width="4.1"/><path d="M257.4,389.6 C257.0,391.5 255.6,394.3 256.0,396.9 C256.3,399.6 258.1,399.2 258.9,400.0" stroke-width="4.8"/><path d="M358.8,296.1 L364.6,301.2" stroke-width="8.4"/><path d="M601.3,357.5 C602.8,360.5 604.9,362.4 607.2,369.2 C609.4,375.9 609.3,380.0 610.1,383.8" stroke-width="5.5"/><path d="M374.9,351.6 C374.5,354.2 374.9,357.4 373.4,361.9 C371.9,366.3 370.1,367.3 369.0,369.2" stroke-width="6.3"/><path d="M153.7,497.9 C155.2,499.8 156.5,501.8 159.5,505.2 C162.5,508.6 163.9,509.5 165.4,511.0" stroke-width="7.7"/><path d="M342.2,537.3 L350.9,540.3" stroke-width="6.3"/><path d="M200.4,578.2 C198.9,580.5 198.3,583.6 194.6,587.0 C190.8,590.4 189.6,589.9 185.8,591.4 C182.1,592.9 181.5,592.5 180.0,592.9" stroke-width="4.8"/><path d="M423.1,416.1 C424.9,417.6 426.6,418.5 430.4,421.9 C434.1,425.3 435.8,427.3 437.7,429.2" stroke-width="4.8"/><path d="M392.4,455.5 C395.4,454.4 397.7,452.6 404.1,451.1 C410.4,449.6 413.9,450.0 417.2,449.7" stroke-width="4.8"/><path d="M354.4,541.7 C356.3,541.3 357.6,541.4 361.7,540.3 C365.8,539.1 368.2,538.1 370.5,537.3" stroke-width="4.1"/><path d="M96.7,825.3 L97.4,834.1" stroke-width="9.1"/></g></g>
<g filter="url(#dr2)"><g fill="none" stroke="rgb(245,0,0)" stroke-linecap="round" stroke-linejoin="round"><path d="M331.9,304.9 C332.3,309.4 333.2,314.2 333.4,322.4 C333.6,330.6 332.9,333.3 332.7,337.0" stroke-width="3.1"/><path d="M357.5,294.6 L357.5,304.9" stroke-width="3.1"/><path d="M257.4,389.6 C257.0,391.5 255.6,394.3 256.0,396.9 C256.3,399.6 258.1,399.2 258.9,400.0" stroke-width="3.8"/><path d="M358.8,296.1 L364.6,301.2" stroke-width="7.4"/><path d="M601.3,357.5 C602.8,360.5 604.9,362.4 607.2,369.2 C609.4,375.9 609.3,380.0 610.1,383.8" stroke-width="4.5"/><path d="M374.9,351.6 C374.5,354.2 374.9,357.4 373.4,361.9 C371.9,366.3 370.1,367.3 369.0,369.2" stroke-width="5.3"/><path d="M153.7,497.9 C155.2,499.8 156.5,501.8 159.5,505.2 C162.5,508.6 163.9,509.5 165.4,511.0" stroke-width="6.7"/><path d="M342.2,537.3 L350.9,540.3" stroke-width="5.3"/><path d="M200.4,578.2 C198.9,580.5 198.3,583.6 194.6,587.0 C190.8,590.4 189.6,589.9 185.8,591.4 C182.1,592.9 181.5,592.5 180.0,592.9" stroke-width="3.8"/><path d="M423.1,416.1 C424.9,417.6 426.6,418.5 430.4,421.9 C434.1,425.3 435.8,427.3 437.7,429.2" stroke-width="3.8"/><path d="M392.4,455.5 C395.4,454.4 397.7,452.6 404.1,451.1 C410.4,449.6 413.9,450.0 417.2,449.7" stroke-width="3.8"/><path d="M354.4,541.7 C356.3,541.3 357.6,541.4 361.7,540.3 C365.8,539.1 368.2,538.1 370.5,537.3" stroke-width="3.1"/><path d="M96.7,825.3 L97.4,834.1" stroke-width="8.1"/></g></g>
<g filter="url(#db1)"><g fill="none" stroke="rgb(64,0,0)" stroke-linecap="round" stroke-linejoin="round"><path d="M293.9,379.4 C297.7,377.5 301.1,375.8 308.6,372.1 C316.0,368.3 319.4,366.6 323.2,364.8" stroke-width="4.5"/><path d="M471.3,228.9 C473.2,230.0 475.6,233.3 478.6,233.3 C481.6,233.3 481.8,230.0 483.0,228.9" stroke-width="4.5"/><path d="M553.1,237.7 C554.6,236.5 555.9,235.5 558.9,233.3 C561.9,231.0 563.3,230.0 564.8,228.9" stroke-width="3.8"/><path d="M363.2,341.4 L367.5,342.9" stroke-width="4.5"/><path d="M551.6,394.0 C553.5,394.7 556.3,395.4 558.9,396.9 C561.6,398.5 561.1,399.2 561.9,400.0" stroke-width="5.2"/><path d="M177.1,515.4 C178.9,517.7 181.4,519.3 184.4,524.2 C187.4,529.1 186.9,528.8 188.8,534.4 C190.6,540.0 190.2,541.6 191.7,546.1 C193.2,550.6 193.8,550.4 194.6,551.9" stroke-width="3.8"/><path d="M251.6,457.0 C252.7,458.9 254.1,461.3 256.0,464.3 C257.8,467.3 258.1,467.5 258.9,468.7" stroke-width="3.8"/><path d="M311.5,614.8 L317.3,623.5" stroke-width="3.8"/><path d="M561.9,402.9 C562.6,404.8 564.4,406.9 564.8,410.2 C565.2,413.6 563.7,414.6 563.3,416.1" stroke-width="3.8"/><path d="M104.0,886.7 C106.6,887.8 109.7,889.6 114.2,891.1 C118.7,892.6 119.7,892.2 121.5,892.5" stroke-width="5.2"/></g><g fill="none" stroke="rgb(64,0,0)" stroke-linecap="round" stroke-linejoin="round"><path d="M323.2,364.8 L337.8,357.5" stroke-width="5.5"/><path d="M277.9,452.6 L277.9,462.8" stroke-width="4.8"/><path d="M339.2,483.3 C340.0,485.2 340.3,487.2 342.2,490.6 C344.0,494.0 345.4,494.9 346.5,496.4" stroke-width="8.5"/><path d="M320.2,627.9 C322.1,629.8 327.2,631.1 327.5,635.2 C327.9,639.3 323.2,641.7 321.7,644.0" stroke-width="6.2"/><path d="M610.8,410.2 L612.3,420.5" stroke-width="7.0"/><path d="M180.0,693.8 C181.1,690.8 182.1,687.4 184.4,682.1 C186.6,676.9 187.6,675.6 188.8,673.4" stroke-width="7.0"/><path d="M188.8,673.4 L197.5,679.2" stroke-width="4.8"/><path d="M106.9,888.1 L117.2,891.1" stroke-width="4.0"/></g></g>
<g filter="url(#db2)"><g fill="none" stroke="rgb(15,0,0)" stroke-linecap="round" stroke-linejoin="round"><path d="M323.2,364.8 L337.8,357.5" stroke-width="4.0"/><path d="M277.9,452.6 L277.9,462.8" stroke-width="3.2"/><path d="M339.2,483.3 C340.0,485.2 340.3,487.2 342.2,490.6 C344.0,494.0 345.4,494.9 346.5,496.4" stroke-width="7.0"/><path d="M320.2,627.9 C322.1,629.8 327.2,631.1 327.5,635.2 C327.9,639.3 323.2,641.7 321.7,644.0" stroke-width="4.8"/><path d="M610.8,410.2 L612.3,420.5" stroke-width="5.5"/><path d="M180.0,693.8 C181.1,690.8 182.1,687.4 184.4,682.1 C186.6,676.9 187.6,675.6 188.8,673.4" stroke-width="5.5"/><path d="M188.8,673.4 L197.5,679.2" stroke-width="3.2"/><path d="M106.9,888.1 L117.2,891.1" stroke-width="2.5"/></g></g>
</g>
<g fill="none" stroke="#0a330a" stroke-width="1.7" stroke-linejoin="round" opacity="0.95"><path d="M263.9,252.3 C265.5,250.8 264.5,247.4 269.7,250.8 C275.0,254.2 277.9,259.8 284.3,265.4 C290.7,271.0 288.2,270.1 294.5,272.7 C300.9,275.3 304.5,273.8 309.2,275.6 C313.8,277.5 312.8,278.3 312.8,280.0 C312.8,281.7 312.3,281.3 309.2,282.2 C306.0,283.2 307.1,284.6 300.4,283.7 C293.6,282.7 290.0,283.3 282.9,278.6 C275.7,273.9 277.7,271.0 272.6,265.4 C267.6,259.8 265.4,260.0 263.1,256.7 C260.9,253.3 262.2,253.8 263.9,252.3Z"/><path d="M329.6,266.9 C330.4,265.4 330.1,266.8 334.0,264.0 C337.9,261.2 339.6,259.8 345.0,256.0 C350.4,252.2 350.9,251.8 355.0,249.0 C359.1,246.2 357.9,245.8 361.0,245.0 C364.1,244.2 364.9,244.7 367.0,246.0 C369.1,247.3 369.3,247.9 369.0,250.0 C368.7,252.1 368.8,251.7 366.0,254.0 C363.2,256.3 362.6,255.9 358.0,259.0 C353.4,262.1 353.1,262.8 348.0,266.0 C342.9,269.2 342.4,270.5 338.0,271.5 C333.6,272.5 333.2,271.2 331.0,270.0 C328.8,268.8 328.8,268.4 329.6,266.9Z"/><path d="M111.9,183.6 C113.4,180.6 114.7,179.3 119.2,176.3 C123.7,173.3 125.3,172.3 129.4,171.9 C133.6,171.5 134.2,172.6 135.3,174.8 C136.4,177.1 136.5,178.1 133.8,180.7 C131.2,183.3 128.8,182.6 125.1,185.1 C121.3,187.5 122.2,189.4 119.2,190.2 C116.2,190.9 115.2,189.7 113.4,188.0 C111.5,186.3 110.4,186.6 111.9,183.6Z"/><path d="M101.7,171.9 C103.9,175.3 106.9,170.5 110.5,167.5 C114.0,164.5 114.8,163.6 115.6,160.2 C116.3,156.9 116.9,155.9 113.4,154.4 C109.8,152.9 104.7,149.9 101.7,154.4 C98.7,158.9 99.4,168.5 101.7,171.9Z"/><path d="M464.8,159.7 C464.1,160.4 463.7,160.5 464.2,161.7 C464.7,162.9 464.8,163.1 466.8,164.3 C468.8,165.5 469.0,165.4 471.9,166.2 C474.9,167.1 475.1,167.3 478.4,167.5 C481.8,167.8 481.6,167.7 484.9,167.2 C488.3,166.7 488.1,166.7 491.4,165.6 C494.8,164.5 494.6,164.3 497.9,163.0 C501.3,161.7 501.9,160.9 504.4,160.4 C506.9,159.9 507.0,158.7 507.7,161.0 C508.3,163.4 507.5,165.7 507.0,169.5 C506.5,173.3 505.9,172.6 505.7,176.0 C505.5,179.3 505.7,179.5 506.4,182.5 C507.0,185.5 507.3,185.0 508.3,187.7 C509.3,190.3 508.3,192.2 510.3,192.9 C512.3,193.5 514.9,192.9 516.1,190.3 C517.3,187.6 515.5,186.1 514.8,182.5 C514.1,178.8 513.7,179.3 513.5,176.0 C513.3,172.6 514.5,173.1 514.2,169.5 C513.8,165.8 513.2,164.9 512.2,161.7 C511.2,158.5 511.8,158.8 510.3,157.1 C508.8,155.5 508.7,155.4 506.4,155.2 C504.0,155.0 504.2,155.7 501.2,156.5 C498.2,157.3 498.0,158.1 494.7,158.4 C491.3,158.8 491.5,158.0 488.2,157.8 C484.9,157.6 484.2,158.3 481.7,157.8 C479.2,157.3 480.1,156.2 478.4,155.8 C476.8,155.5 476.9,156.0 475.2,156.5 C473.5,157.0 474.1,157.1 471.9,157.8 C469.8,158.5 468.6,158.6 466.8,159.1 C464.9,159.6 465.5,159.1 464.8,159.7Z"/><path d="M436.6,152.6 C433.4,154.6 435.8,159.0 437.0,161.7 C438.3,164.4 439.1,163.8 441.4,163.0 C443.7,162.2 444.0,160.8 446.0,158.4 C448.0,156.1 451.6,155.4 449.2,153.9 C446.8,152.4 439.7,150.6 436.6,152.6Z"/><path d="M429.7,170.8 C429.7,169.8 430.5,169.0 433.0,167.5 C435.5,166.0 437.3,165.4 439.5,164.9 C441.6,164.4 441.8,164.6 441.4,165.6 C441.1,166.6 440.3,167.3 438.2,168.8 C436.0,170.3 435.2,170.9 433.0,171.4 C430.8,171.9 429.7,171.8 429.7,170.8Z"/><path d="M405.4,205.5 C407.1,202.3 410.3,200.6 413.4,198.2 C416.6,195.8 416.5,195.6 417.8,196.0 C419.1,196.4 419.7,197.2 418.6,199.7 C417.4,202.1 416.4,202.7 413.4,205.5 C410.4,208.3 408.9,210.6 406.9,210.6 C404.8,210.6 403.7,208.7 405.4,205.5Z"/><path d="M565.4,464.3 C568.8,462.4 569.7,461.0 572.7,461.4 C575.7,461.7 576.3,463.5 577.1,465.7 C577.8,468.0 578.2,467.9 575.6,470.1 C573.0,472.4 571.0,471.5 566.9,474.5 C562.7,477.5 562.5,478.1 559.5,481.8 C556.5,485.6 557.8,485.8 555.2,489.1 C552.5,492.5 551.6,491.6 549.3,495.0 C547.1,498.3 546.4,498.2 546.4,502.3 C546.4,506.4 547.8,506.5 549.3,511.0 C550.8,515.5 552.2,515.3 552.2,519.8 C552.2,524.3 551.6,524.8 549.3,528.6 C547.1,532.3 547.2,531.4 543.5,534.4 C539.7,537.4 539.2,536.5 534.7,540.3 C530.2,544.0 530.1,544.9 525.9,549.0 C521.8,553.1 521.6,553.0 518.6,556.3 C515.6,559.7 515.4,558.4 514.3,562.2 C513.1,565.9 513.5,566.4 514.3,570.9 C515.0,575.4 516.1,574.8 517.2,579.7 C518.3,584.6 519.0,585.4 518.6,589.9 C518.3,594.4 518.0,594.2 515.7,597.2 C513.5,600.2 512.1,599.4 509.9,601.6 C507.6,603.9 507.3,602.6 506.9,606.0 C506.6,609.4 506.9,610.3 508.4,614.8 C509.9,619.3 510.5,619.8 512.8,623.5 C515.0,627.3 516.4,627.1 517.2,629.4 C517.9,631.6 517.6,632.3 515.7,632.3 C513.8,632.3 512.5,632.4 509.9,629.4 C507.2,626.4 507.7,625.1 505.5,620.6 C503.2,616.1 502.6,616.7 501.1,611.9 C499.6,607.0 499.3,606.1 499.6,601.6 C500.0,597.1 500.7,597.7 502.6,594.3 C504.4,590.9 505.4,592.2 506.9,588.5 C508.4,584.7 509.2,583.8 508.4,579.7 C507.7,575.6 506.6,575.0 504.0,572.4 C501.4,569.8 501.6,571.4 498.2,569.5 C494.8,567.6 493.9,568.5 490.9,565.1 C487.9,561.7 488.4,559.7 486.5,556.3 C484.6,553.0 483.2,553.8 483.6,551.9 C483.9,550.1 485.3,549.4 488.0,549.0 C490.6,548.7 490.1,548.6 493.8,550.5 C497.5,552.4 499.2,556.0 502.6,556.3 C505.9,556.7 503.6,554.9 506.9,551.9 C510.3,549.0 511.2,549.1 515.7,544.6 C520.2,540.1 520.7,539.7 524.5,534.4 C528.2,529.2 527.0,528.7 530.3,524.2 C533.7,519.7 534.6,520.3 537.6,516.9 C540.6,513.5 541.6,514.8 542.0,511.0 C542.4,507.3 540.2,506.8 539.1,502.3 C538.0,497.8 537.3,497.6 537.6,493.5 C538.0,489.4 538.3,489.9 540.6,486.2 C542.8,482.5 543.8,482.6 546.4,478.9 C549.0,475.1 547.4,474.2 550.8,471.6 C554.2,469.0 555.8,470.5 559.5,468.7 C563.3,466.8 562.0,466.2 565.4,464.3Z"/><path d="M466.0,573.9 C467.4,574.6 467.5,577.4 467.5,582.6 C467.5,587.9 465.7,588.7 466.0,594.3 C466.4,599.9 467.8,599.7 469.0,604.5 C470.1,609.4 470.6,610.7 470.4,613.3 C470.2,615.9 469.7,616.3 468.2,614.8 C466.7,613.3 466.3,610.1 464.6,607.5 C462.9,604.8 462.0,607.2 461.7,604.5 C461.3,601.9 463.3,601.0 463.1,597.2 C462.9,593.5 461.1,594.4 460.9,589.9 C460.7,585.4 461.1,583.8 462.4,579.7 C463.7,575.6 464.7,573.1 466.0,573.9Z"/><path d="M578.5,540.3 C578.5,538.8 581.8,539.6 584.4,537.3 C587.0,535.1 586.5,533.4 588.8,531.5 C591.0,529.6 591.7,529.3 593.1,530.0 C594.6,530.8 595.0,531.8 594.6,534.4 C594.2,537.0 592.1,536.9 591.7,540.3 C591.3,543.6 591.7,544.6 593.1,547.6 C594.6,550.6 594.9,551.2 597.5,551.9 C600.2,552.7 600.8,552.0 603.4,550.5 C606.0,549.0 607.0,549.1 607.8,546.1 C608.5,543.1 605.9,541.8 606.3,538.8 C606.7,535.8 607.7,534.0 609.2,534.4 C610.7,534.8 611.0,536.5 612.1,540.3 C613.3,544.0 613.6,544.5 613.6,549.0 C613.6,553.5 612.9,554.8 612.1,557.8 C611.4,560.8 611.8,561.5 610.7,560.7 C609.6,560.0 609.6,556.4 607.8,554.9 C605.9,553.4 606.0,554.1 603.4,554.9 C600.8,555.6 600.5,556.3 597.5,557.8 C594.5,559.3 593.6,561.5 591.7,560.7 C589.8,560.0 591.0,558.6 590.2,554.9 C589.5,551.1 590.3,549.1 588.8,546.1 C587.3,543.1 587.0,544.7 584.4,543.2 C581.8,541.7 578.5,541.8 578.5,540.3Z"/><path d="M606.3,538.8 C605.5,537.3 603.7,530.5 606.3,527.1 C608.9,523.7 613.9,524.5 616.5,525.6 C619.1,526.8 618.4,529.6 616.5,531.5 C614.7,533.4 611.8,531.1 609.2,533.0 C606.6,534.8 607.0,540.3 606.3,538.8Z"/><path d="M544.9,588.5 C545.7,586.2 547.4,585.9 549.3,587.0 C551.2,588.1 550.0,590.2 552.2,592.9 C554.5,595.5 555.1,595.4 558.1,597.2 C561.1,599.1 563.2,598.7 563.9,600.2 C564.7,601.7 563.6,602.7 561.0,603.1 C558.4,603.5 557.1,602.0 553.7,601.6 C550.3,601.2 549.7,603.1 547.9,601.6 C546.0,600.1 547.1,599.2 546.4,595.8 C545.6,592.4 544.2,590.7 544.9,588.5Z"/><path d="M527.4,600.2 C528.2,599.8 529.0,600.1 530.3,601.6 C531.6,603.1 532.7,604.5 532.5,606.0 C532.3,607.5 530.9,608.2 529.6,607.5 C528.3,606.7 528.0,605.0 527.4,603.1 C526.8,601.2 526.7,600.5 527.4,600.2Z"/><path d="M535.4,611.9 C537.1,610.4 538.9,609.6 540.6,610.4 C542.2,611.1 543.1,612.5 542.0,614.8 C540.9,617.0 538.2,618.8 536.2,619.2 C534.1,619.5 534.2,618.1 534.0,616.2 C533.8,614.4 533.8,613.3 535.4,611.9Z"/><path d="M363.0,745.0 C362.7,742.7 363.5,742.1 365.2,740.6 C366.9,739.1 367.5,738.9 369.6,739.1 C371.7,739.3 371.6,739.1 373.3,741.3 C374.9,743.6 376.4,745.6 376.2,747.9 C376.0,750.1 375.0,749.7 372.5,750.1 C370.1,750.5 369.1,750.7 366.7,749.4 C364.3,748.0 363.4,747.2 363.0,745.0Z"/></g><path d="M269.7,900.0 L271.2,886.7 L277.0,875.0 L284.3,869.2 L291.6,863.3 L294.5,854.5 L301.9,847.2 L309.2,841.4 L316.5,834.1 L323.8,831.2 L338.4,834.1 L350.1,835.6 L355.0,833.4 L376.9,831.9 L391.5,835.6 L413.4,833.4 L417.8,838.5 L428.1,832.6 L433.9,834.1 L439.7,844.3 L457.3,841.4 L464.6,848.0 L479.2,845.8 L490.9,844.3 L506.9,848.7 L515.7,861.9 L523.0,877.9 L530.3,889.6 L542.0,889.6 L549.3,893.3 L559.5,893.3 L569.8,886.7 L574.2,882.3 L588.8,877.9 L603.4,872.1 L615.1,867.7 L620.2,868.4" fill="none" stroke="#1a6a6e" stroke-width="1.4" stroke-linejoin="round"/><path d="M612.9,250.8 L596.1,256.7 L581.5,264.0 L571.2,272.7 L556.6,277.1 L537.6,283.0 L527.4,290.3" fill="none" stroke="#3f6f6f" stroke-width="1.0" stroke-linejoin="round" opacity="0.8"/></g>
<path d="M102.2,154.1 Q357,156.7 612.4,154.1 L621.0,898.9 Q357,902.9 93.1,898.9 Z" fill="none" stroke="#000" stroke-width="1.1"/>
<line x1="102.2" y1="136.1" x2="102.2" y2="154.1" stroke="#000" stroke-width="1.3"/>
<line x1="357" y1="137.4" x2="357" y2="155.4" stroke="#000" stroke-width="1.3"/>
<line x1="612.4" y1="136.1" x2="612.4" y2="154.1" stroke="#000" stroke-width="1.3"/>
<line x1="93.1" y1="916.9" x2="93.1" y2="898.9" stroke="#000" stroke-width="1.3"/>
<line x1="357" y1="918.9" x2="357" y2="900.9" stroke="#000" stroke-width="1.3"/>
<line x1="621.0" y1="916.9" x2="621.0" y2="898.9" stroke="#000" stroke-width="1.3"/>
<line x1="84.2" y1="154.1" x2="102.2" y2="154.1" stroke="#000" stroke-width="1.3"/>
<line x1="630.4" y1="154.1" x2="612.4" y2="154.1" stroke="#000" stroke-width="1.3"/>
<line x1="79.65" y1="526.5" x2="97.65" y2="526.5" stroke="#000" stroke-width="1.3"/>
<line x1="634.7" y1="526.5" x2="616.7" y2="526.5" stroke="#000" stroke-width="1.3"/>
<line x1="75.1" y1="898.9" x2="93.1" y2="898.9" stroke="#000" stroke-width="1.3"/>
<line x1="639.0" y1="898.9" x2="621.0" y2="898.9" stroke="#000" stroke-width="1.3"/>
<text transform="translate(69.8,166.7) scale(1.055,1)" text-anchor="end" class="t">47<tspan font-size="24" dy="-10">°</tspan></text>
<text transform="translate(65.2,539.1) scale(1.055,1)" text-anchor="end" class="t">46<tspan font-size="24" dy="-10">°</tspan></text>
<text transform="translate(60.7,911.5) scale(1.055,1)" text-anchor="end" class="t">45<tspan font-size="24" dy="-10">°</tspan></text>
<text transform="translate(92.8,957.3) scale(1.055,1)" text-anchor="middle" class="t">7<tspan font-size="24" dy="-10">°</tspan></text>
<text transform="translate(356.7,957.3) scale(1.055,1)" text-anchor="middle" class="t">8<tspan font-size="24" dy="-10">°</tspan></text>
<text transform="translate(620.7,957.3) scale(1.055,1)" text-anchor="middle" class="t">9<tspan font-size="24" dy="-10">°</tspan></text>
</g>
<g transform="translate(0,1055.6)">
<path d="M88.8,140.7 Q357,143.29999999999998 625.8,140.7 L634.4,912.3 Q357,916.3 79.69999999999999,912.3 Z" fill="#fff" stroke="#000" stroke-width="1.3"/>
<path d="M357,142.0 Q485,141.7 612.4,140.7 L612.4,154.1 Q485,155.1 357,155.4 Z" fill="#000"/>
<path d="M357,914.3 Q489,913.8 621.0,912.3 L621.0,898.9 Q489,900.4 357,900.9 Z" fill="#000"/>
<path d="M88.8,154.1 L102.2,154.1 L97.65,526.5 L84.25,526.5 Z" fill="#000"/>
<path d="M625.8,154.1 L612.4,154.1 L616.7,526.5 L630.1,526.5 Z" fill="#000"/>
<path d="M102.2,154.1 Q357,156.7 612.4,154.1 L621.0,898.9 Q357,902.9 93.1,898.9 Z" fill="#80ff80"/>
<g clip-path="url(#mapclip)"><g filter="url(#jetC)">
<rect x="80" y="140" width="560" height="780" fill="rgb(127,0,3)"/>
<g filter="url(#bALP)"><path d="M90.0,296.0 L141.0,289.0 L177.7,261.0 L236.0,258.0 L258.0,281.5 L280.0,252.0 L302.0,230.0 L360.0,201.0 L384.0,164.6 L399.0,150.0 L630.0,150.0 L630.0,524.0 L574.0,528.6 L537.6,538.8 L501.0,560.7 L486.5,597.0 L464.6,616.0 L442.7,619.0 L420.7,650.0 L400.0,655.0 L360.0,694.0 L309.0,723.0 L272.6,737.7 L258.0,759.6 L243.4,781.5 L228.8,796.0 L225.9,825.0 L221.5,854.6 L206.9,869.0 L192.0,876.5 L177.7,905.0 L85.0,905.0Z" fill="rgb(127,5,5)"/></g>
<g filter="url(#dvein)" fill="none" stroke="rgb(153,0,0)" stroke-linecap="round" stroke-linejoin="round"><path d="M206.9,282.2 C212.5,283.0 219.1,285.0 228.8,285.1 C238.5,285.3 240.7,283.5 244.9,283.0" stroke-width="3.5"/><path d="M104.6,344.3 C108.4,346.6 110.6,350.8 119.2,353.1 C127.8,355.3 127.0,355.3 138.2,353.1 C149.5,350.8 154.4,349.6 163.1,344.3 C171.7,339.1 168.1,341.2 171.8,332.6 C175.6,324.0 180.7,318.6 177.7,310.7 C174.7,302.8 166.9,303.4 160.1,301.9 C153.4,300.4 153.6,304.1 151.4,304.9" stroke-width="3.5"/><path d="M195.2,296.1 C196.7,301.7 198.0,306.8 201.0,318.0 C204.0,329.3 204.3,328.7 206.9,339.9 C209.5,351.2 207.5,354.7 211.3,361.9 C215.0,369.0 218.9,366.2 221.5,367.7" stroke-width="3.0"/><path d="M218.6,366.2 L225.9,372.1" stroke-width="4.0"/><path d="M250.7,318.0 C254.5,315.4 258.6,313.4 265.3,307.8 C272.1,302.2 271.4,300.6 277.0,296.1 C282.6,291.6 277.9,294.6 287.2,290.3 C296.6,286.0 306.8,282.1 313.5,279.3" stroke-width="3.5"/><path d="M262.4,310.7 C264.3,316.3 267.5,321.4 269.7,332.6 C272.0,343.9 270.8,348.9 271.2,354.5" stroke-width="3.0"/><path d="M271.2,354.5 C274.5,356.0 278.3,360.4 284.3,360.4 C290.3,360.4 291.9,356.0 294.5,354.5" stroke-width="4.5"/><path d="M285.8,310.7 C288.0,312.6 290.0,316.9 294.5,318.0 C299.0,319.1 301.1,315.8 303.3,315.1" stroke-width="4.0"/><path d="M331.8,303.4 C332.3,309.0 334.3,316.3 333.7,325.3 C333.1,334.3 330.7,335.1 329.6,338.5" stroke-width="5.4"/><path d="M316.5,331.2 L329.6,333.4" stroke-width="4.5"/><path d="M294.5,382.3 C300.2,378.9 305.2,375.1 316.5,369.2 C327.7,363.2 332.8,361.6 338.4,358.9" stroke-width="5.4"/><path d="M294.5,382.3 L294.5,400.0" stroke-width="4.0"/><path d="M313.5,279.3 C316.9,281.7 322.2,282.6 326.7,288.8 C331.2,295.0 329.9,299.7 331.1,303.4" stroke-width="3.5"/><path d="M168.9,388.1 L171.8,392.5" stroke-width="3.2"/><path d="M258.0,383.8 L259.5,391.1" stroke-width="4.0"/><path d="M101.7,332.6 L111.9,344.3" stroke-width="3.0"/><path d="M183.5,373.5 L186.4,391.1" stroke-width="2.5"/><path d="M317.9,231.8 C323.2,230.7 327.6,230.8 338.4,227.4 C349.2,224.1 354.5,220.9 360.0,218.7" stroke-width="4.0"/><path d="M355.0,252.3 C358.7,252.3 360.2,251.9 369.6,252.3 C379.0,252.6 380.3,251.1 391.5,253.7 C402.8,256.4 404.1,260.6 413.4,262.5 C422.8,264.4 418.7,263.7 428.1,261.0 C437.4,258.4 441.7,254.5 450.0,252.3 C458.2,250.0 457.6,252.3 460.2,252.3" stroke-width="6.4"/><path d="M423.7,278.6 C425.9,281.6 428.9,283.7 432.4,290.3 C436.0,296.8 436.2,300.6 437.5,304.1" stroke-width="4.5"/><path d="M413.4,262.5 L423.7,278.6" stroke-width="3.5"/><path d="M514.3,193.8 C515.8,198.3 517.5,203.1 520.1,211.4 C522.7,219.6 523.4,222.2 524.5,226.0" stroke-width="5.6"/><path d="M524.5,226.0 C525.4,229.3 528.5,233.1 528.1,239.1 C527.8,245.1 526.8,243.0 523.0,249.4 C519.3,255.7 517.3,257.2 513.5,264.0 C509.8,270.7 509.7,269.3 508.4,275.6 C507.1,282.0 508.4,285.4 508.4,288.8" stroke-width="6.3"/><path d="M530.3,239.9 C534.8,239.7 540.4,240.8 547.9,239.1 C555.3,237.4 555.0,236.7 559.5,233.3 C564.0,229.9 563.9,227.8 565.4,226.0" stroke-width="5.4"/><path d="M612.9,249.4 C608.6,250.8 604.1,251.8 596.1,255.2 C588.0,258.6 587.8,258.4 581.5,262.5 C575.1,266.6 577.6,267.9 571.2,271.3 C564.9,274.6 565.2,273.0 556.6,275.6 C548.0,278.3 545.1,278.1 537.6,281.5 C530.1,284.9 530.0,286.9 527.4,288.8" stroke-width="5.6"/><path d="M454.4,186.5 C453.2,190.3 450.7,193.6 450.0,201.1 C449.2,208.6 448.8,210.1 451.4,215.7 C454.1,221.4 457.9,221.2 460.2,223.1" stroke-width="4.8"/><path d="M463.1,221.6 C465.4,223.5 467.0,226.3 471.9,228.9 C476.8,231.5 479.5,231.1 482.1,231.8" stroke-width="6.3"/><path d="M544.9,161.7 C548.7,162.4 553.9,161.6 559.5,164.6 C565.2,167.6 564.2,168.9 566.9,173.4 C569.5,177.9 569.0,179.9 569.8,182.1" stroke-width="4.0"/><path d="M610.0,186.5 C609.4,190.3 609.8,194.0 607.8,201.1 C605.7,208.3 603.4,210.9 601.9,214.3" stroke-width="5.4"/><path d="M549.3,205.5 L566.9,204.1" stroke-width="3.2"/><path d="M553.7,205.5 L552.2,215.7" stroke-width="2.0"/><path d="M355.0,400.0 C360.6,397.7 366.4,396.7 376.9,391.1 C387.4,385.4 385.8,385.8 395.9,377.9 C406.0,370.1 404.4,370.9 416.4,360.4 C428.4,349.9 434.4,346.0 442.7,337.0 C450.9,328.0 447.0,328.3 448.5,325.3" stroke-width="4.5"/><path d="M448.5,325.3 C450.8,321.6 451.3,316.3 457.3,310.7 C463.3,305.1 464.4,307.2 471.9,303.4 C479.4,299.7 479.0,299.9 486.5,296.1 C494.0,292.4 495.1,290.3 501.1,288.8 C507.1,287.3 507.6,289.9 509.9,290.3" stroke-width="3.5"/><path d="M469.0,347.2 C473.5,345.0 476.4,342.2 486.5,338.5 C496.6,334.7 502.8,334.1 508.4,332.6" stroke-width="4.8"/><path d="M508.4,332.6 C514.0,333.4 519.1,332.2 530.3,335.6 C541.6,338.9 542.1,340.2 552.2,345.8 C562.4,351.4 563.0,351.5 569.8,357.5 C576.5,363.5 573.7,362.4 578.5,369.2 C583.4,375.9 582.4,377.8 588.8,383.8 C595.1,389.8 597.4,388.4 603.4,392.5 C609.4,396.7 609.9,398.1 612.1,400.0" stroke-width="4.5"/><path d="M508.4,332.6 C514.0,333.4 519.1,332.2 530.3,335.6 C541.6,338.9 542.1,340.2 552.2,345.8 C562.4,351.4 563.0,351.5 569.8,357.5 C576.5,363.5 573.7,362.4 578.5,369.2 C583.4,375.9 586.1,380.0 588.8,383.8" stroke-width="5.0"/><path d="M597.5,307.8 C597.9,312.3 597.9,317.1 599.0,325.3 C600.1,333.6 601.2,336.2 601.9,339.9" stroke-width="4.5"/><path d="M601.9,339.9 C603.0,347.4 604.2,353.8 606.3,369.2 C608.4,384.6 609.0,392.1 610.0,400.0" stroke-width="5.6"/><path d="M489.4,369.2 C490.9,372.2 492.6,375.6 495.3,380.8 C497.9,386.1 498.5,387.4 499.6,389.6" stroke-width="4.5"/><path d="M523.0,372.1 C524.9,374.7 530.3,377.4 530.3,382.3 C530.3,387.2 524.9,388.8 523.0,391.1" stroke-width="3.2"/><path d="M556.6,386.7 L562.5,396.9" stroke-width="3.2"/><path d="M360.8,293.9 L374.0,296.1" stroke-width="12.6"/><path d="M369.6,296.1 C370.0,298.4 369.6,301.1 371.1,304.9 C372.6,308.6 374.3,309.2 375.5,310.7" stroke-width="7.2"/><path d="M355.0,318.0 C360.6,317.3 365.7,314.0 376.9,315.1 C388.2,316.2 383.8,321.7 398.8,322.4 C413.8,323.2 423.4,319.5 435.4,318.0 C447.3,316.5 443.0,316.9 445.6,316.6" stroke-width="3.5"/><path d="M413.4,262.5 C411.6,256.1 407.3,249.7 406.1,237.7 C405.0,225.7 405.3,227.0 409.1,215.7 C412.8,204.5 415.1,203.2 420.7,193.8 C426.4,184.5 425.4,186.7 431.0,179.2 C436.6,171.7 439.7,168.4 442.7,164.6" stroke-width="7.0"/><path d="M471.9,278.6 C473.8,280.8 473.6,285.5 479.2,287.3 C484.8,289.2 490.1,286.3 493.8,285.9" stroke-width="3.0"/><path d="M515.7,193.8 C523.2,195.0 530.0,198.2 544.9,198.2 C559.9,198.2 562.9,193.8 574.2,193.8 C585.4,193.8 585.0,197.1 588.8,198.2" stroke-width="3.0"/><path d="M461.7,369.2 C462.8,372.9 464.5,375.9 466.0,383.8 C467.5,391.7 467.1,395.8 467.5,400.0" stroke-width="2.5"/><path d="M571.2,171.9 L574.2,188.0" stroke-width="3.0"/><path d="M104.6,487.7 C110.2,484.7 115.3,482.0 126.5,476.0 C137.8,470.0 137.2,470.7 148.4,464.3 C159.7,457.9 159.1,458.3 170.4,451.1 C181.6,444.0 181.0,443.3 192.3,436.5 C203.5,429.8 202.9,430.1 214.2,424.8 C225.4,419.6 223.0,419.1 236.1,416.1 C249.2,413.1 250.3,414.3 265.3,413.1 C280.3,412.0 279.6,411.3 294.5,411.7 C309.5,412.1 307.0,414.2 323.8,414.6 C340.5,415.0 350.7,413.5 360.0,413.1" stroke-width="7.5"/><path d="M272.6,413.1 C278.2,412.8 281.4,411.3 294.5,411.7 C307.7,412.1 307.0,414.0 323.8,414.6 C340.5,415.2 350.7,414.1 360.0,413.9" stroke-width="4.8"/><path d="M106.1,487.7 C104.8,483.9 101.5,481.7 101.0,473.1 C100.4,464.4 103.1,458.9 103.9,454.1" stroke-width="6.4"/><path d="M158.7,502.3 C162.0,504.5 165.4,506.2 171.8,511.0 C178.2,515.9 179.0,514.1 183.5,521.3 C188.0,528.4 186.7,530.9 189.4,538.8 C192.0,546.7 192.6,548.6 193.7,551.9" stroke-width="5.4"/><path d="M206.9,461.4 C209.1,464.4 210.8,465.6 215.6,473.1 C220.5,480.5 220.6,482.3 225.9,490.6 C231.1,498.8 231.6,498.8 236.1,505.2 C240.6,511.6 241.5,512.8 243.4,515.4" stroke-width="3.2"/><path d="M202.5,468.7 C201.8,472.0 199.6,475.4 199.6,481.8 C199.6,488.2 201.8,490.5 202.5,493.5" stroke-width="2.5"/><path d="M247.8,440.9 C248.5,445.4 248.1,450.9 250.7,458.4 C253.3,465.9 255.4,463.4 258.0,470.1 C260.6,476.9 260.2,481.0 260.9,484.7" stroke-width="4.5"/><path d="M279.9,448.2 L277.0,462.8" stroke-width="3.2"/><path d="M317.9,446.8 C314.9,450.5 310.7,452.7 306.2,461.4 C301.7,470.0 302.3,469.9 300.4,480.4 C298.5,490.8 300.4,492.9 298.9,502.3 C297.4,511.6 297.2,510.5 294.5,516.9 C291.9,523.3 290.2,524.5 288.7,527.1" stroke-width="5.4"/><path d="M326.7,446.8 C328.9,451.6 331.3,456.0 335.5,465.7 C339.6,475.5 339.8,475.4 342.8,484.7 C345.8,494.1 346.0,497.8 347.1,502.3" stroke-width="4.5"/><path d="M332.5,492.0 L341.3,490.6" stroke-width="5.4"/><path d="M323.8,414.6 C324.1,420.2 325.2,428.3 325.2,436.5 C325.2,444.8 324.1,444.1 323.8,446.8" stroke-width="4.0"/><path d="M260.9,528.6 C265.8,528.2 272.8,527.5 279.9,527.1 C287.1,526.7 286.5,527.1 288.7,527.1" stroke-width="3.0"/><path d="M332.5,540.3 C335.5,539.7 337.2,538.1 344.2,538.1 C351.3,538.1 356.0,539.7 360.0,540.3" stroke-width="8.1"/><path d="M236.1,556.3 C232.4,558.6 229.0,560.6 221.5,565.1 C214.0,569.6 214.4,569.4 206.9,573.9 C199.4,578.4 199.0,577.8 192.3,582.6 C185.5,587.5 183.6,590.2 180.6,592.9" stroke-width="4.0"/><path d="M174.7,572.4 C175.9,576.9 176.9,581.7 179.1,589.9 C181.4,598.2 182.0,597.1 183.5,604.5 C185.0,612.0 184.6,615.4 185.0,619.2" stroke-width="2.5"/><path d="M126.5,531.5 C125.8,535.2 125.5,540.5 123.6,546.1 C121.7,551.7 120.3,551.5 119.2,553.4" stroke-width="4.0"/><path d="M256.6,570.9 C255.8,575.1 255.1,580.6 253.6,587.0 C252.1,593.4 251.5,593.5 250.7,595.8" stroke-width="3.2"/><path d="M307.7,572.4 C308.4,578.8 308.4,585.3 310.6,597.2 C312.9,609.2 313.1,609.8 316.5,619.2 C319.8,628.5 322.6,625.9 323.8,633.8 C324.9,641.7 321.6,645.8 320.8,650.0" stroke-width="4.0"/><path d="M317.9,622.1 C319.8,625.1 324.5,627.8 325.2,633.8 C326.0,639.8 322.0,642.5 320.8,645.5" stroke-width="3.6"/><path d="M332.5,568.0 C334.8,571.8 336.1,577.0 341.3,582.6 C346.5,588.2 350.0,588.1 353.0,589.9" stroke-width="2.5"/><path d="M98.8,614.8 C102.1,617.4 104.8,620.1 111.9,625.0 C119.0,629.9 117.2,631.5 126.5,633.8 C135.9,636.0 135.3,635.6 148.4,633.8 C161.6,631.9 162.7,629.1 177.7,626.5 C192.6,623.8 191.9,624.3 206.9,623.5 C221.9,622.8 221.1,623.9 236.1,623.5 C251.1,623.2 257.8,622.5 265.3,622.1" stroke-width="6.5"/><path d="M192.3,625.0 C197.9,624.6 202.9,623.7 214.2,623.5 C225.4,623.4 230.5,624.1 236.1,624.3" stroke-width="4.8"/><path d="M98.8,614.8 C104.0,618.5 111.0,623.8 119.2,629.4 C127.5,635.0 127.9,634.8 130.9,636.7" stroke-width="3.2"/><path d="M129.4,592.9 C134.3,593.2 141.7,593.6 148.4,594.3 C155.2,595.1 153.9,595.4 155.7,595.8" stroke-width="2.5"/><path d="M98.8,582.6 L109.0,570.9" stroke-width="2.5"/><path d="M284.3,575.3 L287.2,589.9" stroke-width="2.5"/><path d="M230.3,531.5 L227.3,546.1" stroke-width="2.5"/><path d="M279.9,589.9 C279.2,595.6 277.0,602.5 277.0,611.9 C277.0,621.2 279.2,622.7 279.9,626.5" stroke-width="2.5"/><path d="M438.3,436.5 C438.3,442.1 438.7,448.3 438.3,458.4 C437.9,468.6 438.3,466.6 436.8,476.0 C435.3,485.3 434.3,485.2 432.4,495.0 C430.6,504.7 429.5,506.1 429.5,514.0 C429.5,521.8 428.3,521.5 432.4,525.6 C436.6,529.8 438.5,527.8 445.6,530.0 C452.7,532.3 454.2,531.0 460.2,534.4 C466.2,537.8 464.8,539.4 469.0,543.2 C473.1,546.9 472.5,546.8 476.3,549.0 C480.0,551.3 481.7,551.2 483.6,551.9" stroke-width="6.5"/><path d="M438.3,436.5 C440.2,432.8 441.5,428.7 445.6,421.9 C449.7,415.2 449.9,415.5 454.4,410.2 C458.8,405.0 460.9,403.7 463.1,401.5" stroke-width="4.5"/><path d="M438.3,436.5 C435.7,432.8 431.8,427.2 428.1,421.9 C424.3,416.7 424.8,417.6 423.7,416.1" stroke-width="4.0"/><path d="M445.6,478.9 C452.3,478.5 457.6,477.4 471.9,477.4 C486.1,477.4 489.9,477.8 501.1,478.9 C512.3,480.0 512.0,481.1 515.7,481.8" stroke-width="4.0"/><path d="M355.0,541.7 C358.7,540.6 362.1,539.2 369.6,537.3 C377.1,535.5 376.7,536.7 384.2,534.4 C391.7,532.2 391.3,530.8 398.8,528.6 C406.3,526.3 405.9,526.8 413.4,525.6 C420.9,524.5 424.3,524.6 428.1,524.2" stroke-width="4.8"/><path d="M355.0,541.7 C358.7,540.6 362.1,539.2 369.6,537.3 C377.1,535.5 380.5,535.2 384.2,534.4" stroke-width="3.6"/><path d="M363.8,448.2 C366.4,450.8 366.9,456.6 374.0,458.4 C381.1,460.3 383.3,457.4 391.5,455.5 C399.8,453.6 402.4,452.3 406.1,451.1" stroke-width="4.5"/><path d="M406.1,451.1 C409.9,451.5 413.6,450.7 420.7,452.6 C427.9,454.5 430.5,456.9 433.9,458.4" stroke-width="4.0"/><path d="M374.0,458.4 L369.6,470.1" stroke-width="3.6"/><path d="M378.4,505.2 C381.0,505.6 384.1,505.2 388.6,506.7 C393.1,508.2 394.0,509.9 395.9,511.0" stroke-width="4.0"/><path d="M372.5,490.6 C374.8,491.7 378.3,491.2 381.3,495.0 C384.3,498.7 383.5,502.6 384.2,505.2" stroke-width="3.0"/><path d="M512.8,400.0 C512.8,402.2 510.9,403.9 512.8,408.8 C514.7,413.6 515.6,414.5 520.1,419.0 C524.6,423.5 525.1,421.8 530.3,426.3 C535.6,430.8 536.4,432.0 540.6,436.5 C544.7,441.0 544.9,442.0 546.4,443.8" stroke-width="4.8"/><path d="M574.2,465.7 C579.8,465.6 585.6,465.4 596.1,465.0 C606.6,464.6 610.2,464.5 615.1,464.3" stroke-width="6.5"/><path d="M471.9,426.3 C475.6,424.4 479.0,422.0 486.5,419.0 C494.0,416.0 494.4,417.2 501.1,414.6 C507.8,412.0 509.8,410.3 512.8,408.8" stroke-width="4.0"/><path d="M559.5,400.0 C560.3,403.7 559.5,407.9 562.5,414.6 C565.5,421.4 567.9,420.7 571.2,426.3 C574.6,431.9 573.7,431.3 575.6,436.5 C577.5,441.8 577.8,444.1 578.5,446.8" stroke-width="4.0"/><path d="M578.5,421.9 L571.2,426.3" stroke-width="3.2"/><path d="M606.3,400.0 C607.8,403.7 609.7,407.9 612.1,414.6 C614.6,421.4 614.9,423.3 615.8,426.3" stroke-width="8.1"/><path d="M483.6,438.0 L501.1,439.4" stroke-width="2.5"/><path d="M486.5,451.1 L501.1,449.7" stroke-width="2.5"/><path d="M479.2,511.0 C480.3,514.0 484.7,518.2 483.6,522.7 C482.4,527.2 477.1,527.1 474.8,528.6" stroke-width="2.5"/><path d="M600.5,481.8 C600.8,487.1 600.4,493.3 601.9,502.3 C603.4,511.3 605.2,513.1 606.3,516.9" stroke-width="6.0"/><path d="M355.0,597.2 C358.0,599.1 361.8,600.8 366.7,604.5 C371.6,608.3 373.2,608.9 374.0,611.9 C374.7,614.8 374.5,615.5 369.6,616.2 C364.7,617.0 358.7,615.1 355.0,614.8" stroke-width="3.0"/><path d="M391.5,560.7 C393.4,564.5 395.8,567.8 398.8,575.3 C401.8,582.8 402.1,586.2 403.2,589.9" stroke-width="2.5"/><path d="M433.9,557.8 C436.9,558.5 439.6,560.0 445.6,560.7 C451.6,561.5 454.3,560.7 457.3,560.7" stroke-width="2.5"/><path d="M355.0,419.0 C358.0,421.6 364.4,422.9 366.7,429.2 C368.9,435.6 364.5,440.1 363.8,443.8" stroke-width="2.5"/><path d="M391.5,426.3 L403.2,435.1" stroke-width="2.5"/><path d="M460.2,560.7 L463.1,575.3" stroke-width="3.5"/><path d="M177.7,664.6 C179.5,667.2 183.5,668.8 185.0,674.8 C186.5,680.8 185.0,682.0 183.5,688.0 C182.0,694.0 180.2,695.6 179.1,698.2" stroke-width="7.2"/><path d="M190.8,674.8 C192.7,677.8 195.9,681.7 198.1,686.5 C200.4,691.4 199.2,692.0 199.6,693.8" stroke-width="6.3"/><path d="M185.0,674.8 L204.0,677.8" stroke-width="4.5"/><path d="M114.8,658.8 C113.3,662.1 112.0,665.9 109.0,671.9 C106.0,677.9 104.6,679.5 103.1,682.1" stroke-width="4.0"/><path d="M132.4,654.4 C131.2,660.8 129.5,669.1 128.0,679.2 C126.5,689.3 126.9,690.1 126.5,693.8" stroke-width="2.5"/><path d="M148.4,664.6 C149.2,670.2 150.6,675.3 151.4,686.5 C152.1,697.8 151.4,702.8 151.4,708.4" stroke-width="4.0"/><path d="M135.3,728.9 C138.7,730.0 142.1,731.0 148.4,733.3 C154.8,735.5 154.5,738.0 160.1,737.7 C165.7,737.3 165.1,733.3 170.4,731.8 C175.6,730.3 175.0,730.3 180.6,731.8 C186.2,733.3 185.5,735.8 192.3,737.7 C199.0,739.5 200.5,737.3 206.9,739.1 C213.3,741.0 211.9,742.3 217.1,745.0 C222.4,747.6 224.7,748.2 227.3,749.4" stroke-width="6.0"/><path d="M135.3,728.9 C138.7,730.0 142.1,731.0 148.4,733.3 C154.8,735.5 154.5,738.0 160.1,737.7 C165.7,737.3 165.1,733.3 170.4,731.8 C175.6,730.3 175.0,730.3 180.6,731.8 C186.2,733.3 185.5,735.8 192.3,737.7 C199.0,739.5 200.5,737.3 206.9,739.1 C213.3,741.0 211.9,742.3 217.1,745.0 C222.4,747.6 224.7,748.2 227.3,749.4" stroke-width="4.5"/><path d="M195.2,727.4 C197.4,729.3 201.0,731.7 204.0,734.7 C207.0,737.7 206.1,738.0 206.9,739.1" stroke-width="3.6"/><path d="M97.3,728.9 C101.1,728.9 106.3,729.6 111.9,728.9 C117.5,728.1 117.3,726.7 119.2,726.0" stroke-width="3.0"/><path d="M221.5,690.9 C225.2,693.2 231.6,695.2 236.1,699.7 C240.6,704.2 239.0,704.3 239.0,708.4 C239.0,712.6 236.9,713.9 236.1,715.7" stroke-width="2.5"/><path d="M243.4,689.4 L240.5,699.7" stroke-width="2.5"/><path d="M218.6,708.4 L230.3,711.4" stroke-width="2.5"/><path d="M262.4,696.8 C266.9,698.6 271.7,701.1 279.9,704.1 C288.2,707.1 290.8,707.3 294.5,708.4" stroke-width="3.0"/><path d="M272.6,654.4 C276.4,657.0 279.7,658.2 287.2,664.6 C294.7,671.0 296.2,671.7 301.9,679.2 C307.5,686.7 306.5,685.6 309.2,693.8 C311.8,702.1 311.3,706.9 312.1,711.4" stroke-width="5.5"/><path d="M309.2,654.4 C311.4,657.0 316.4,659.7 317.9,664.6 C319.4,669.5 317.2,669.6 315.0,673.4 C312.8,677.1 310.7,677.7 309.2,679.2" stroke-width="4.0"/><path d="M236.1,669.0 C241.7,668.6 246.8,666.8 258.0,667.5 C269.3,668.3 274.3,670.8 279.9,671.9" stroke-width="3.5"/><path d="M148.4,761.0 C149.6,762.2 152.8,762.8 152.8,765.4 C152.8,768.0 149.6,769.8 148.4,771.3" stroke-width="3.2"/><path d="M145.5,762.5 C151.9,762.5 158.4,761.8 170.4,762.5 C182.3,763.2 185.2,762.4 192.3,765.4 C199.4,768.4 196.2,768.2 198.1,774.2 C200.0,780.2 199.2,785.1 199.6,788.8" stroke-width="3.0"/><path d="M135.3,785.9 C138.7,786.3 141.3,787.7 148.4,787.3 C155.6,787.0 155.6,785.9 163.1,784.4 C170.5,782.9 170.2,782.2 177.7,781.5 C185.2,780.7 188.5,781.5 192.3,781.5" stroke-width="4.8"/><path d="M138.2,807.8 C140.8,808.9 142.1,810.7 148.4,812.2 C154.8,813.7 154.8,812.5 163.1,813.6 C171.3,814.8 173.1,816.2 180.6,816.6 C188.1,816.9 187.0,816.6 192.3,815.1 C197.5,813.6 198.8,811.8 201.0,810.7" stroke-width="5.5"/><path d="M138.2,807.8 C140.8,808.9 142.1,810.7 148.4,812.2 C154.8,813.7 154.8,812.5 163.1,813.6 C171.3,814.8 176.1,815.8 180.6,816.6" stroke-width="4.5"/><path d="M98.8,766.9 C99.5,770.6 98.3,776.2 101.7,781.5 C105.1,786.7 107.4,783.6 111.9,787.3 C116.4,791.1 117.3,793.9 119.2,796.1" stroke-width="4.0"/><path d="M95.8,752.3 L104.6,749.4" stroke-width="2.5"/><path d="M94.4,825.3 L97.3,832.6" stroke-width="7.2"/><path d="M95.8,850.2 C101.8,849.4 107.6,847.6 119.2,847.2 C130.8,846.9 131.8,846.8 141.1,848.7 C150.5,850.6 146.4,852.3 155.7,854.5 C165.1,856.8 168.3,856.3 177.7,857.5 C187.0,858.6 188.5,858.6 192.3,858.9" stroke-width="7.5"/><path d="M101.7,886.7 C104.3,887.8 106.7,888.4 111.9,891.1 C117.2,893.7 118.0,894.6 122.1,896.9 C126.3,899.2 126.5,899.2 128.0,900.0" stroke-width="4.0"/><path d="M98.8,883.8 C104.0,884.1 108.4,883.4 119.2,885.2 C130.1,887.1 135.5,889.6 141.1,891.1" stroke-width="4.0"/><path d="M163.1,883.8 L177.7,886.7" stroke-width="3.0"/><path d="M355.0,650.0 C356.5,655.6 359.7,660.7 360.8,671.9 C362.0,683.2 359.8,688.2 359.4,693.8" stroke-width="4.5"/></g>
<g filter="url(#dy)"><g fill="none" stroke="rgb(156,0,0)" stroke-linecap="round" stroke-linejoin="round"><path d="M140.5,347.2 C146.2,346.5 151.2,346.9 162.5,344.3 C173.7,341.7 178.7,338.9 184.4,337.0" stroke-width="9.6"/><path d="M242.8,201.1 L264.7,199.7" stroke-width="7.2"/><path d="M250.1,281.5 L248.7,288.8" stroke-width="6.0"/><path d="M228.2,252.3 L235.5,256.7" stroke-width="6.0"/><path d="M293.9,245.0 L308.6,240.6" stroke-width="6.0"/><path d="M452.3,198.2 C451.9,200.8 450.5,203.2 450.8,208.4 C451.2,213.7 453.0,216.0 453.8,218.7" stroke-width="4.8"/><path d="M427.5,261.0 L439.1,259.6" stroke-width="4.8"/><path d="M412.8,266.9 L415.8,272.7" stroke-width="4.8"/><path d="M483.0,285.9 C486.0,284.8 489.0,283.4 494.7,281.5 C500.3,279.6 502.3,279.3 504.9,278.6" stroke-width="6.0"/><path d="M488.8,255.2 C491.8,255.9 494.5,256.2 500.5,258.1 C506.5,260.0 510.3,259.1 512.2,262.5 C514.1,265.9 508.9,269.0 507.8,271.3" stroke-width="4.8"/><path d="M447.9,320.9 C446.4,325.1 447.3,330.3 442.1,337.0 C436.8,343.8 434.9,340.9 427.5,347.2 C420.0,353.6 420.3,354.4 412.8,361.9 C405.3,369.3 402.0,372.7 398.2,376.5" stroke-width="4.8"/><path d="M405.5,318.0 L447.9,318.0" stroke-width="3.6"/><path d="M108.4,481.8 C112.9,480.3 115.8,480.1 125.9,476.0 C136.0,471.9 134.7,474.0 147.8,465.7 C161.0,457.5 162.1,452.4 177.1,443.8 C192.0,435.2 191.3,437.4 206.3,432.1 C221.3,426.9 228.0,425.6 235.5,423.4" stroke-width="12.0"/><path d="M235.5,413.1 C246.7,413.5 256.9,413.9 279.3,414.6 C301.8,415.4 302.6,416.8 323.2,416.1 C343.7,415.3 350.1,412.8 359.4,411.7" stroke-width="9.6"/><path d="M137.6,521.3 L147.8,531.5" stroke-width="3.6"/><path d="M257.4,547.6 L258.9,554.9" stroke-width="7.2"/><path d="M276.4,595.8 L277.9,604.5" stroke-width="6.0"/><path d="M314.4,578.2 L312.9,589.9" stroke-width="6.0"/><path d="M125.9,632.3 C135.3,631.6 145.6,630.9 162.5,629.4 C179.3,627.9 172.9,628.0 191.7,626.5 C210.4,625.0 216.8,624.7 235.5,623.5 C254.2,622.4 257.2,622.5 264.7,622.1" stroke-width="12.0"/><path d="M500.5,414.6 C503.5,413.5 508.4,413.2 512.2,410.2 C515.9,407.2 514.4,404.8 515.1,402.9" stroke-width="6.0"/><path d="M485.9,454.1 L500.5,454.8" stroke-width="7.2"/><path d="M398.2,483.3 L412.8,484.7" stroke-width="7.2"/><path d="M464.0,534.4 L471.3,541.7" stroke-width="9.6"/><path d="M405.5,576.8 L415.8,579.7" stroke-width="7.2"/><path d="M358.8,407.3 L360.2,410.2" stroke-width="6.0"/><path d="M286.6,666.1 L288.1,671.9" stroke-width="4.8"/><path d="M308.6,669.0 L314.4,664.6" stroke-width="4.8"/><path d="M293.9,677.8 L302.7,679.2" stroke-width="4.8"/><path d="M228.2,692.4 C230.1,694.6 232.5,696.3 235.5,701.1 C238.5,706.0 238.0,706.1 239.9,711.4 C241.8,716.6 242.1,719.0 242.8,721.6" stroke-width="4.8"/><path d="M317.3,709.9 L320.2,711.4" stroke-width="9.6"/><path d="M283.7,726.0 L288.1,727.4" stroke-width="7.2"/><path d="M150.8,737.7 C156.0,735.8 163.0,731.9 171.2,730.4 C179.5,728.9 177.7,728.4 182.9,731.8 C188.2,735.2 185.7,739.4 191.7,743.5 C197.7,747.6 196.9,747.1 206.3,747.9 C215.6,748.6 217.0,747.6 228.2,746.4 C239.4,745.3 241.5,742.8 250.1,743.5 C258.7,744.3 258.8,747.9 261.8,749.4" stroke-width="6.0"/><path d="M147.8,761.0 C155.3,761.4 165.8,760.3 177.1,762.5 C188.3,764.7 187.9,767.9 191.7,769.8" stroke-width="6.0"/><path d="M163.9,783.0 L174.1,781.5" stroke-width="6.0"/><path d="M125.9,810.7 L133.2,807.8" stroke-width="9.6"/><path d="M133.2,842.9 L140.5,838.5" stroke-width="9.6"/><path d="M162.5,857.5 L184.4,860.4" stroke-width="9.6"/></g><g fill="none" stroke="rgb(156,0,0)" stroke-linecap="round" stroke-linejoin="round"><path d="M331.9,304.9 C332.3,309.4 333.2,314.2 333.4,322.4 C333.6,330.6 332.9,333.3 332.7,337.0" stroke-width="10.6"/><path d="M357.5,294.6 L357.5,304.9" stroke-width="10.6"/><path d="M334.9,316.6 L343.6,318.0" stroke-width="9.8"/><path d="M215.0,357.5 L215.8,366.2" stroke-width="10.5"/><path d="M184.4,372.1 L185.1,377.9" stroke-width="9.8"/><path d="M169.8,376.5 L169.0,383.8" stroke-width="9.8"/><path d="M272.0,325.3 C272.6,330.2 273.5,336.8 274.2,344.3 C275.0,351.8 274.8,351.9 275.0,354.5" stroke-width="9.8"/><path d="M275.0,354.5 L280.8,357.5" stroke-width="9.1"/><path d="M257.4,389.6 C257.0,391.5 255.6,394.3 256.0,396.9 C256.3,399.6 258.1,399.2 258.9,400.0" stroke-width="11.3"/><path d="M293.9,391.1 L293.9,400.0" stroke-width="9.7"/><path d="M348.0,372.1 L359.4,377.9" stroke-width="9.7"/><path d="M112.8,395.5 L118.6,398.4" stroke-width="10.5"/><path d="M358.8,296.1 L364.6,301.2" stroke-width="14.9"/><path d="M367.5,303.4 L370.5,312.2" stroke-width="10.4"/><path d="M512.2,196.8 C513.3,199.0 514.3,199.5 516.6,205.5 C518.8,211.5 518.3,213.4 521.0,220.1 C523.6,226.9 524.9,227.3 526.8,231.8 C528.7,236.3 527.9,236.2 528.3,237.7" stroke-width="11.2"/><path d="M542.9,201.9 C545.9,202.6 551.9,200.5 554.6,204.8 C557.2,209.1 553.5,215.1 553.1,218.7" stroke-width="9.8"/><path d="M608.6,185.1 L609.4,199.7" stroke-width="9.1"/><path d="M408.5,274.2 L409.9,287.3" stroke-width="9.8"/><path d="M420.1,274.2 C422.0,276.1 423.7,278.1 427.5,281.5 C431.2,284.9 432.9,285.8 434.8,287.3" stroke-width="10.5"/><path d="M580.9,240.6 C582.0,242.8 583.7,245.2 585.2,249.4 C586.7,253.5 586.3,254.8 586.7,256.7" stroke-width="9.1"/><path d="M598.4,329.7 C598.8,333.5 599.1,337.2 599.9,344.3 C600.6,351.4 600.9,354.1 601.3,357.5" stroke-width="11.8"/><path d="M601.3,357.5 C602.8,360.5 604.9,362.4 607.2,369.2 C609.4,375.9 609.3,380.0 610.1,383.8" stroke-width="12.0"/><path d="M610.1,383.8 L605.7,395.5" stroke-width="10.4"/><path d="M573.6,366.2 C575.4,369.2 577.1,372.7 580.9,377.9 C584.6,383.2 586.3,384.4 588.2,386.7" stroke-width="11.1"/><path d="M588.2,386.7 L602.8,396.9" stroke-width="9.1"/><path d="M491.7,377.9 C493.2,380.2 493.8,382.9 497.6,386.7 C501.3,390.4 501.9,389.5 506.3,392.5 C510.8,395.5 512.9,396.9 515.1,398.4" stroke-width="11.1"/><path d="M526.8,386.7 L522.4,396.9" stroke-width="9.8"/><path d="M526.8,335.6 L538.5,338.5" stroke-width="9.8"/><path d="M374.9,351.6 C374.5,354.2 374.9,357.4 373.4,361.9 C371.9,366.3 370.1,367.3 369.0,369.2" stroke-width="12.8"/><path d="M363.2,358.9 L370.5,366.2" stroke-width="9.7"/><path d="M389.5,354.5 C390.0,357.5 390.7,360.2 391.7,366.2 C392.6,372.2 392.7,374.9 393.1,377.9" stroke-width="10.4"/><path d="M360.2,379.4 L357.3,383.8" stroke-width="11.1"/><path d="M388.0,338.5 L392.4,339.9" stroke-width="9.8"/><path d="M466.9,386.7 L467.6,392.5" stroke-width="9.8"/><path d="M213.6,404.4 C212.8,407.0 211.8,410.1 210.7,414.6 C209.5,419.1 209.6,420.0 209.2,421.9" stroke-width="11.1"/><path d="M178.5,411.7 C180.0,413.2 183.2,414.5 184.4,417.5 C185.5,420.5 183.3,421.9 182.9,423.4" stroke-width="9.8"/><path d="M161.0,419.0 C161.0,421.6 160.2,423.6 161.0,429.2 C161.7,434.8 163.2,437.9 163.9,440.9" stroke-width="9.8"/><path d="M149.3,446.8 C151.9,447.5 153.9,450.4 159.5,449.7 C165.1,448.9 168.2,445.3 171.2,443.8" stroke-width="10.5"/><path d="M114.2,426.3 L121.5,429.2" stroke-width="9.8"/><path d="M104.0,433.6 L103.3,440.9" stroke-width="9.1"/><path d="M125.9,474.5 C128.5,473.4 131.7,471.6 136.2,470.1 C140.6,468.6 141.6,469.0 143.5,468.7" stroke-width="12.6"/><path d="M235.5,408.8 C239.3,409.3 242.6,410.6 250.1,411.0 C257.6,411.3 261.0,410.4 264.7,410.2" stroke-width="9.8"/><path d="M258.9,401.5 L260.3,407.3" stroke-width="9.7"/><path d="M264.7,416.1 C272.2,414.9 279.0,412.1 293.9,411.7 C308.9,411.3 315.7,413.9 323.2,414.6" stroke-width="9.1"/><path d="M292.5,402.9 L293.9,408.8" stroke-width="9.8"/><path d="M111.3,478.9 L115.7,484.7" stroke-width="9.8"/><path d="M108.4,496.4 L114.2,497.9" stroke-width="10.4"/><path d="M153.7,497.9 C155.2,499.8 156.5,501.8 159.5,505.2 C162.5,508.6 163.9,509.5 165.4,511.0" stroke-width="14.2"/><path d="M206.3,454.1 C206.7,455.9 208.5,457.6 207.7,461.4 C207.0,465.1 204.5,466.8 203.4,468.7" stroke-width="9.8"/><path d="M245.7,433.6 L247.2,443.8" stroke-width="9.7"/><path d="M311.5,452.6 C313.0,450.3 314.0,447.2 317.3,443.8 C320.7,440.5 322.8,440.6 324.6,439.4" stroke-width="9.8"/><path d="M324.6,439.4 C326.1,443.6 327.5,448.4 330.5,455.5 C333.5,462.6 334.8,464.2 336.3,467.2" stroke-width="9.1"/><path d="M229.7,490.6 C230.4,492.5 230.3,494.9 232.6,497.9 C234.8,500.9 236.9,501.1 238.4,502.3" stroke-width="9.8"/><path d="M299.8,490.6 C299.4,493.6 299.1,497.0 298.3,502.3 C297.6,507.5 297.2,508.8 296.9,511.0" stroke-width="9.8"/><path d="M131.8,516.9 L128.8,528.6" stroke-width="9.1"/><path d="M342.2,537.3 L350.9,540.3" stroke-width="12.8"/><path d="M352.4,543.2 C351.6,545.4 351.0,548.2 349.5,551.9 C348.0,555.7 347.3,556.3 346.5,557.8" stroke-width="10.4"/><path d="M331.9,565.1 C333.4,567.0 335.5,568.3 337.8,572.4 C340.0,576.5 338.8,577.0 340.7,581.2 C342.6,585.3 344.0,586.6 345.1,588.5" stroke-width="11.1"/><path d="M200.4,578.2 C198.9,580.5 198.3,583.6 194.6,587.0 C190.8,590.4 189.6,589.9 185.8,591.4 C182.1,592.9 181.5,592.5 180.0,592.9" stroke-width="11.3"/><path d="M175.6,578.2 C176.4,581.2 178.1,583.2 178.5,589.9 C178.9,596.7 177.4,600.8 177.1,604.5" stroke-width="10.4"/><path d="M159.5,597.2 C162.5,598.4 166.7,599.8 171.2,601.6 C175.7,603.5 175.6,603.8 177.1,604.5" stroke-width="9.8"/><path d="M250.1,589.9 C249.7,592.9 248.7,596.4 248.7,601.6 C248.7,606.9 249.7,608.1 250.1,610.4" stroke-width="9.8"/><path d="M289.6,619.2 C290.7,621.4 293.6,623.4 293.9,627.9 C294.3,632.4 291.8,634.4 291.0,636.7" stroke-width="9.8"/><path d="M191.7,627.2 L206.3,626.5" stroke-width="9.8"/><path d="M133.2,638.1 L147.8,636.7" stroke-width="9.1"/><path d="M99.6,579.7 L98.2,587.0" stroke-width="9.8"/><path d="M101.1,617.7 L109.9,619.2" stroke-width="9.8"/><path d="M423.1,416.1 C424.9,417.6 426.6,418.5 430.4,421.9 C434.1,425.3 435.8,427.3 437.7,429.2" stroke-width="11.3"/><path d="M456.7,404.4 C454.8,407.8 453.1,410.8 449.4,417.5 C445.6,424.3 444.3,424.7 442.1,430.7 C439.8,436.7 441.0,438.3 440.6,440.9" stroke-width="9.8"/><path d="M402.6,435.1 C404.5,436.6 406.5,437.5 409.9,440.9 C413.3,444.3 414.3,446.3 415.8,448.2" stroke-width="9.8"/><path d="M392.4,455.5 C395.4,454.4 397.7,452.6 404.1,451.1 C410.4,449.6 413.9,450.0 417.2,449.7" stroke-width="11.3"/><path d="M390.9,457.0 L389.5,464.3" stroke-width="9.1"/><path d="M374.9,512.5 C376.7,510.6 378.8,506.3 382.2,505.2 C385.5,504.1 384.3,506.2 388.0,508.1 C391.8,510.0 394.5,511.4 396.8,512.5" stroke-width="11.8"/><path d="M382.2,505.2 L383.6,493.5" stroke-width="9.8"/><path d="M354.4,541.7 C356.3,541.3 357.6,541.4 361.7,540.3 C365.8,539.1 368.2,538.1 370.5,537.3" stroke-width="10.6"/><path d="M544.3,439.4 L550.2,443.8" stroke-width="10.5"/><path d="M573.6,439.4 L579.4,443.8" stroke-width="10.5"/><path d="M481.5,524.2 L483.0,531.5" stroke-width="9.8"/><path d="M133.2,664.6 L136.2,654.4" stroke-width="9.1"/><path d="M147.1,664.6 L147.8,676.3" stroke-width="9.1"/><path d="M161.0,658.0 C163.2,658.6 165.6,658.9 169.8,660.2 C173.9,661.5 175.2,662.4 177.1,663.1" stroke-width="9.8"/><path d="M272.0,655.8 C274.3,657.3 277.0,659.1 280.8,661.7 C284.5,664.3 285.1,664.9 286.6,666.1" stroke-width="10.5"/><path d="M260.3,669.0 C262.6,669.7 265.0,670.0 269.1,671.9 C273.2,673.8 274.5,675.2 276.4,676.3" stroke-width="9.8"/><path d="M220.9,707.0 L223.8,709.9" stroke-width="9.8"/><path d="M171.2,730.4 L175.6,730.4" stroke-width="9.1"/><path d="M149.3,762.5 L165.4,761.8" stroke-width="9.1"/><path d="M153.0,762.5 L153.0,766.9" stroke-width="9.1"/><path d="M147.8,787.3 C149.7,786.6 151.0,785.5 155.1,784.4 C159.3,783.3 161.7,783.3 163.9,783.0" stroke-width="9.8"/><path d="M122.3,816.6 C123.6,817.7 123.8,819.8 127.4,820.9 C130.9,822.1 130.9,822.1 136.2,820.9 C141.4,819.8 144.8,817.7 147.8,816.6" stroke-width="9.7"/><path d="M96.7,825.3 L97.4,834.1" stroke-width="15.6"/><path d="M96.7,844.3 L104.0,845.8" stroke-width="10.4"/><path d="M104.0,847.2 C107.8,847.6 111.1,849.5 118.6,848.7 C126.1,848.0 129.5,845.4 133.2,844.3" stroke-width="11.2"/></g></g>
<g filter="url(#dc)"><g fill="none" stroke="rgb(102,0,0)" stroke-linecap="round" stroke-linejoin="round"><path d="M225.3,281.5 L228.2,283.0" stroke-width="6.0"/><path d="M109.9,348.7 L115.7,354.5" stroke-width="6.0"/><path d="M258.9,293.2 L264.7,296.1" stroke-width="5.0"/><path d="M234.0,300.5 C232.5,301.6 230.8,301.5 228.2,304.9 C225.6,308.2 224.9,311.4 223.8,313.6" stroke-width="4.0"/><path d="M299.8,316.6 L301.3,322.4" stroke-width="6.0"/><path d="M561.9,167.5 L567.7,174.8" stroke-width="4.0"/><path d="M377.8,310.7 L382.2,319.5" stroke-width="5.0"/><path d="M478.6,345.8 L483.0,344.3" stroke-width="5.0"/><path d="M458.1,367.7 L462.5,372.1" stroke-width="6.0"/><path d="M471.3,280.0 L475.7,285.9" stroke-width="4.0"/><path d="M526.8,290.3 C529.4,288.4 529.5,286.7 537.0,283.0 C544.5,279.2 551.2,277.5 556.0,275.6" stroke-width="3.0"/><path d="M277.1,462.8 L276.4,467.2" stroke-width="4.0"/><path d="M301.3,465.7 L302.7,471.6" stroke-width="5.0"/><path d="M213.6,570.9 C215.5,569.8 217.9,568.4 220.9,566.6 C223.9,564.7 224.2,564.4 225.3,563.6" stroke-width="5.0"/><path d="M133.2,589.9 L140.5,592.9" stroke-width="6.0"/><path d="M143.5,404.4 L143.8,406.6" stroke-width="4.0"/><path d="M134.7,419.0 L136.9,420.5" stroke-width="4.0"/><path d="M242.8,515.4 L244.3,518.3" stroke-width="5.0"/><path d="M200.4,481.8 L200.7,487.7" stroke-width="4.0"/><path d="M475.7,423.4 C477.5,423.0 480.7,420.0 483.0,421.9 C485.2,423.8 484.1,428.4 484.4,430.7" stroke-width="5.0"/><path d="M485.9,439.4 L491.7,438.7" stroke-width="5.0"/><path d="M393.8,426.3 L396.8,427.0" stroke-width="4.0"/><path d="M367.5,448.2 L373.4,458.4" stroke-width="5.0"/><path d="M573.6,426.3 L577.9,427.8" stroke-width="4.0"/><path d="M108.4,671.9 L104.0,679.2" stroke-width="5.0"/><path d="M150.8,690.9 L151.5,698.2" stroke-width="4.0"/><path d="M193.1,737.7 C195.8,737.8 198.9,736.5 203.4,738.4 C207.9,740.3 208.8,743.3 210.7,745.0" stroke-width="5.0"/><path d="M133.2,727.4 L137.6,728.2" stroke-width="5.0"/><path d="M115.7,790.3 L118.6,796.1" stroke-width="6.0"/></g><g fill="none" stroke="rgb(102,0,0)" stroke-linecap="round" stroke-linejoin="round"><path d="M293.9,379.4 C297.7,377.5 301.1,375.8 308.6,372.1 C316.0,368.3 319.4,366.6 323.2,364.8" stroke-width="9.5"/><path d="M323.2,364.8 L337.8,357.5" stroke-width="9.5"/><path d="M471.3,228.9 C473.2,230.0 475.6,233.3 478.6,233.3 C481.6,233.3 481.8,230.0 483.0,228.9" stroke-width="9.5"/><path d="M553.1,237.7 C554.6,236.5 555.9,235.5 558.9,233.3 C561.9,231.0 563.3,230.0 564.8,228.9" stroke-width="8.8"/><path d="M363.2,341.4 L367.5,342.9" stroke-width="9.5"/><path d="M551.6,394.0 C553.5,394.7 556.3,395.4 558.9,396.9 C561.6,398.5 561.1,399.2 561.9,400.0" stroke-width="10.2"/><path d="M177.1,515.4 C178.9,517.7 181.4,519.3 184.4,524.2 C187.4,529.1 186.9,528.8 188.8,534.4 C190.6,540.0 190.2,541.6 191.7,546.1 C193.2,550.6 193.8,550.4 194.6,551.9" stroke-width="8.8"/><path d="M251.6,457.0 C252.7,458.9 254.1,461.3 256.0,464.3 C257.8,467.3 258.1,467.5 258.9,468.7" stroke-width="8.8"/><path d="M277.9,452.6 L277.9,462.8" stroke-width="8.8"/><path d="M339.2,483.3 C340.0,485.2 340.3,487.2 342.2,490.6 C344.0,494.0 345.4,494.9 346.5,496.4" stroke-width="12.5"/><path d="M311.5,614.8 L317.3,623.5" stroke-width="8.8"/><path d="M320.2,627.9 C322.1,629.8 327.2,631.1 327.5,635.2 C327.9,639.3 323.2,641.7 321.7,644.0" stroke-width="10.2"/><path d="M561.9,402.9 C562.6,404.8 564.4,406.9 564.8,410.2 C565.2,413.6 563.7,414.6 563.3,416.1" stroke-width="8.8"/><path d="M610.8,410.2 L612.3,420.5" stroke-width="11.0"/><path d="M180.0,693.8 C181.1,690.8 182.1,687.4 184.4,682.1 C186.6,676.9 187.6,675.6 188.8,673.4" stroke-width="11.0"/><path d="M188.8,673.4 L197.5,679.2" stroke-width="8.8"/><path d="M104.0,886.7 C106.6,887.8 109.7,889.6 114.2,891.1 C118.7,892.6 119.7,892.2 121.5,892.5" stroke-width="10.2"/><path d="M106.9,888.1 L117.2,891.1" stroke-width="8.0"/></g></g>
<g filter="url(#do)"><g fill="none" stroke="rgb(189,0,0)" stroke-linecap="round" stroke-linejoin="round"><path d="M334.9,316.6 L343.6,318.0" stroke-width="2.8"/><path d="M215.0,357.5 L215.8,366.2" stroke-width="3.5"/><path d="M184.4,372.1 L185.1,377.9" stroke-width="2.8"/><path d="M169.8,376.5 L169.0,383.8" stroke-width="2.8"/><path d="M272.0,325.3 C272.6,330.2 273.5,336.8 274.2,344.3 C275.0,351.8 274.8,351.9 275.0,354.5" stroke-width="2.8"/><path d="M275.0,354.5 L280.8,357.5" stroke-width="2.1"/><path d="M112.8,395.5 L118.6,398.4" stroke-width="3.5"/><path d="M512.2,196.8 C513.3,199.0 514.3,199.5 516.6,205.5 C518.8,211.5 518.3,213.4 521.0,220.1 C523.6,226.9 524.9,227.3 526.8,231.8 C528.7,236.3 527.9,236.2 528.3,237.7" stroke-width="4.2"/><path d="M542.9,201.9 C545.9,202.6 551.9,200.5 554.6,204.8 C557.2,209.1 553.5,215.1 553.1,218.7" stroke-width="2.8"/><path d="M608.6,185.1 L609.4,199.7" stroke-width="2.1"/><path d="M408.5,274.2 L409.9,287.3" stroke-width="2.8"/><path d="M420.1,274.2 C422.0,276.1 423.7,278.1 427.5,281.5 C431.2,284.9 432.9,285.8 434.8,287.3" stroke-width="3.5"/><path d="M580.9,240.6 C582.0,242.8 583.7,245.2 585.2,249.4 C586.7,253.5 586.3,254.8 586.7,256.7" stroke-width="2.1"/><path d="M588.2,386.7 L602.8,396.9" stroke-width="2.1"/><path d="M526.8,386.7 L522.4,396.9" stroke-width="2.8"/><path d="M526.8,335.6 L538.5,338.5" stroke-width="2.8"/><path d="M388.0,338.5 L392.4,339.9" stroke-width="2.8"/><path d="M466.9,386.7 L467.6,392.5" stroke-width="2.8"/><path d="M178.5,411.7 C180.0,413.2 183.2,414.5 184.4,417.5 C185.5,420.5 183.3,421.9 182.9,423.4" stroke-width="2.8"/><path d="M161.0,419.0 C161.0,421.6 160.2,423.6 161.0,429.2 C161.7,434.8 163.2,437.9 163.9,440.9" stroke-width="2.8"/><path d="M149.3,446.8 C151.9,447.5 153.9,450.4 159.5,449.7 C165.1,448.9 168.2,445.3 171.2,443.8" stroke-width="3.5"/><path d="M114.2,426.3 L121.5,429.2" stroke-width="2.8"/><path d="M104.0,433.6 L103.3,440.9" stroke-width="2.1"/><path d="M125.9,474.5 C128.5,473.4 131.7,471.6 136.2,470.1 C140.6,468.6 141.6,469.0 143.5,468.7" stroke-width="5.6"/><path d="M235.5,408.8 C239.3,409.3 242.6,410.6 250.1,411.0 C257.6,411.3 261.0,410.4 264.7,410.2" stroke-width="2.8"/><path d="M264.7,416.1 C272.2,414.9 279.0,412.1 293.9,411.7 C308.9,411.3 315.7,413.9 323.2,414.6" stroke-width="2.1"/><path d="M292.5,402.9 L293.9,408.8" stroke-width="2.8"/><path d="M111.3,478.9 L115.7,484.7" stroke-width="2.8"/><path d="M206.3,454.1 C206.7,455.9 208.5,457.6 207.7,461.4 C207.0,465.1 204.5,466.8 203.4,468.7" stroke-width="2.8"/><path d="M311.5,452.6 C313.0,450.3 314.0,447.2 317.3,443.8 C320.7,440.5 322.8,440.6 324.6,439.4" stroke-width="2.8"/><path d="M324.6,439.4 C326.1,443.6 327.5,448.4 330.5,455.5 C333.5,462.6 334.8,464.2 336.3,467.2" stroke-width="2.1"/><path d="M229.7,490.6 C230.4,492.5 230.3,494.9 232.6,497.9 C234.8,500.9 236.9,501.1 238.4,502.3" stroke-width="2.8"/><path d="M299.8,490.6 C299.4,493.6 299.1,497.0 298.3,502.3 C297.6,507.5 297.2,508.8 296.9,511.0" stroke-width="2.8"/><path d="M131.8,516.9 L128.8,528.6" stroke-width="2.1"/><path d="M159.5,597.2 C162.5,598.4 166.7,599.8 171.2,601.6 C175.7,603.5 175.6,603.8 177.1,604.5" stroke-width="2.8"/><path d="M250.1,589.9 C249.7,592.9 248.7,596.4 248.7,601.6 C248.7,606.9 249.7,608.1 250.1,610.4" stroke-width="2.8"/><path d="M289.6,619.2 C290.7,621.4 293.6,623.4 293.9,627.9 C294.3,632.4 291.8,634.4 291.0,636.7" stroke-width="2.8"/><path d="M191.7,627.2 L206.3,626.5" stroke-width="2.8"/><path d="M133.2,638.1 L147.8,636.7" stroke-width="2.1"/><path d="M99.6,579.7 L98.2,587.0" stroke-width="2.8"/><path d="M101.1,617.7 L109.9,619.2" stroke-width="2.8"/><path d="M456.7,404.4 C454.8,407.8 453.1,410.8 449.4,417.5 C445.6,424.3 444.3,424.7 442.1,430.7 C439.8,436.7 441.0,438.3 440.6,440.9" stroke-width="2.8"/><path d="M402.6,435.1 C404.5,436.6 406.5,437.5 409.9,440.9 C413.3,444.3 414.3,446.3 415.8,448.2" stroke-width="2.8"/><path d="M390.9,457.0 L389.5,464.3" stroke-width="2.1"/><path d="M382.2,505.2 L383.6,493.5" stroke-width="2.8"/><path d="M544.3,439.4 L550.2,443.8" stroke-width="3.5"/><path d="M573.6,439.4 L579.4,443.8" stroke-width="3.5"/><path d="M481.5,524.2 L483.0,531.5" stroke-width="2.8"/><path d="M133.2,664.6 L136.2,654.4" stroke-width="2.1"/><path d="M147.1,664.6 L147.8,676.3" stroke-width="2.1"/><path d="M161.0,658.0 C163.2,658.6 165.6,658.9 169.8,660.2 C173.9,661.5 175.2,662.4 177.1,663.1" stroke-width="2.8"/><path d="M272.0,655.8 C274.3,657.3 277.0,659.1 280.8,661.7 C284.5,664.3 285.1,664.9 286.6,666.1" stroke-width="3.5"/><path d="M260.3,669.0 C262.6,669.7 265.0,670.0 269.1,671.9 C273.2,673.8 274.5,675.2 276.4,676.3" stroke-width="2.8"/><path d="M220.9,707.0 L223.8,709.9" stroke-width="2.8"/><path d="M171.2,730.4 L175.6,730.4" stroke-width="2.1"/><path d="M149.3,762.5 L165.4,761.8" stroke-width="2.1"/><path d="M153.0,762.5 L153.0,766.9" stroke-width="2.1"/><path d="M147.8,787.3 C149.7,786.6 151.0,785.5 155.1,784.4 C159.3,783.3 161.7,783.3 163.9,783.0" stroke-width="2.8"/><path d="M104.0,847.2 C107.8,847.6 111.1,849.5 118.6,848.7 C126.1,848.0 129.5,845.4 133.2,844.3" stroke-width="4.2"/></g><g fill="none" stroke="rgb(189,0,0)" stroke-linecap="round" stroke-linejoin="round"><path d="M331.9,304.9 C332.3,309.4 333.2,314.2 333.4,322.4 C333.6,330.6 332.9,333.3 332.7,337.0" stroke-width="5.6"/><path d="M357.5,294.6 L357.5,304.9" stroke-width="5.6"/><path d="M257.4,389.6 C257.0,391.5 255.6,394.3 256.0,396.9 C256.3,399.6 258.1,399.2 258.9,400.0" stroke-width="6.3"/><path d="M293.9,391.1 L293.9,400.0" stroke-width="4.7"/><path d="M348.0,372.1 L359.4,377.9" stroke-width="4.7"/><path d="M358.8,296.1 L364.6,301.2" stroke-width="9.9"/><path d="M367.5,303.4 L370.5,312.2" stroke-width="5.4"/><path d="M598.4,329.7 C598.8,333.5 599.1,337.2 599.9,344.3 C600.6,351.4 600.9,354.1 601.3,357.5" stroke-width="6.8"/><path d="M601.3,357.5 C602.8,360.5 604.9,362.4 607.2,369.2 C609.4,375.9 609.3,380.0 610.1,383.8" stroke-width="7.0"/><path d="M610.1,383.8 L605.7,395.5" stroke-width="5.4"/><path d="M573.6,366.2 C575.4,369.2 577.1,372.7 580.9,377.9 C584.6,383.2 586.3,384.4 588.2,386.7" stroke-width="6.1"/><path d="M491.7,377.9 C493.2,380.2 493.8,382.9 497.6,386.7 C501.3,390.4 501.9,389.5 506.3,392.5 C510.8,395.5 512.9,396.9 515.1,398.4" stroke-width="6.1"/><path d="M374.9,351.6 C374.5,354.2 374.9,357.4 373.4,361.9 C371.9,366.3 370.1,367.3 369.0,369.2" stroke-width="7.8"/><path d="M363.2,358.9 L370.5,366.2" stroke-width="4.7"/><path d="M389.5,354.5 C390.0,357.5 390.7,360.2 391.7,366.2 C392.6,372.2 392.7,374.9 393.1,377.9" stroke-width="5.4"/><path d="M360.2,379.4 L357.3,383.8" stroke-width="6.1"/><path d="M213.6,404.4 C212.8,407.0 211.8,410.1 210.7,414.6 C209.5,419.1 209.6,420.0 209.2,421.9" stroke-width="6.1"/><path d="M258.9,401.5 L260.3,407.3" stroke-width="4.7"/><path d="M108.4,496.4 L114.2,497.9" stroke-width="5.4"/><path d="M153.7,497.9 C155.2,499.8 156.5,501.8 159.5,505.2 C162.5,508.6 163.9,509.5 165.4,511.0" stroke-width="9.2"/><path d="M245.7,433.6 L247.2,443.8" stroke-width="4.7"/><path d="M342.2,537.3 L350.9,540.3" stroke-width="7.8"/><path d="M352.4,543.2 C351.6,545.4 351.0,548.2 349.5,551.9 C348.0,555.7 347.3,556.3 346.5,557.8" stroke-width="5.4"/><path d="M331.9,565.1 C333.4,567.0 335.5,568.3 337.8,572.4 C340.0,576.5 338.8,577.0 340.7,581.2 C342.6,585.3 344.0,586.6 345.1,588.5" stroke-width="6.1"/><path d="M200.4,578.2 C198.9,580.5 198.3,583.6 194.6,587.0 C190.8,590.4 189.6,589.9 185.8,591.4 C182.1,592.9 181.5,592.5 180.0,592.9" stroke-width="6.3"/><path d="M175.6,578.2 C176.4,581.2 178.1,583.2 178.5,589.9 C178.9,596.7 177.4,600.8 177.1,604.5" stroke-width="5.4"/><path d="M423.1,416.1 C424.9,417.6 426.6,418.5 430.4,421.9 C434.1,425.3 435.8,427.3 437.7,429.2" stroke-width="6.3"/><path d="M392.4,455.5 C395.4,454.4 397.7,452.6 404.1,451.1 C410.4,449.6 413.9,450.0 417.2,449.7" stroke-width="6.3"/><path d="M374.9,512.5 C376.7,510.6 378.8,506.3 382.2,505.2 C385.5,504.1 384.3,506.2 388.0,508.1 C391.8,510.0 394.5,511.4 396.8,512.5" stroke-width="6.8"/><path d="M354.4,541.7 C356.3,541.3 357.6,541.4 361.7,540.3 C365.8,539.1 368.2,538.1 370.5,537.3" stroke-width="5.6"/><path d="M122.3,816.6 C123.6,817.7 123.8,819.8 127.4,820.9 C130.9,822.1 130.9,822.1 136.2,820.9 C141.4,819.8 144.8,817.7 147.8,816.6" stroke-width="4.7"/><path d="M96.7,825.3 L97.4,834.1" stroke-width="10.6"/><path d="M96.7,844.3 L104.0,845.8" stroke-width="5.4"/></g></g>
<g filter="url(#dr1)"><g fill="none" stroke="rgb(222,0,0)" stroke-linecap="round" stroke-linejoin="round"><path d="M293.9,391.1 L293.9,400.0" stroke-width="2.7"/><path d="M348.0,372.1 L359.4,377.9" stroke-width="2.7"/><path d="M367.5,303.4 L370.5,312.2" stroke-width="3.4"/><path d="M598.4,329.7 C598.8,333.5 599.1,337.2 599.9,344.3 C600.6,351.4 600.9,354.1 601.3,357.5" stroke-width="4.8"/><path d="M610.1,383.8 L605.7,395.5" stroke-width="3.4"/><path d="M573.6,366.2 C575.4,369.2 577.1,372.7 580.9,377.9 C584.6,383.2 586.3,384.4 588.2,386.7" stroke-width="4.1"/><path d="M491.7,377.9 C493.2,380.2 493.8,382.9 497.6,386.7 C501.3,390.4 501.9,389.5 506.3,392.5 C510.8,395.5 512.9,396.9 515.1,398.4" stroke-width="4.1"/><path d="M363.2,358.9 L370.5,366.2" stroke-width="2.7"/><path d="M389.5,354.5 C390.0,357.5 390.7,360.2 391.7,366.2 C392.6,372.2 392.7,374.9 393.1,377.9" stroke-width="3.4"/><path d="M360.2,379.4 L357.3,383.8" stroke-width="4.1"/><path d="M213.6,404.4 C212.8,407.0 211.8,410.1 210.7,414.6 C209.5,419.1 209.6,420.0 209.2,421.9" stroke-width="4.1"/><path d="M258.9,401.5 L260.3,407.3" stroke-width="2.7"/><path d="M108.4,496.4 L114.2,497.9" stroke-width="3.4"/><path d="M245.7,433.6 L247.2,443.8" stroke-width="2.7"/><path d="M352.4,543.2 C351.6,545.4 351.0,548.2 349.5,551.9 C348.0,555.7 347.3,556.3 346.5,557.8" stroke-width="3.4"/><path d="M331.9,565.1 C333.4,567.0 335.5,568.3 337.8,572.4 C340.0,576.5 338.8,577.0 340.7,581.2 C342.6,585.3 344.0,586.6 345.1,588.5" stroke-width="4.1"/><path d="M175.6,578.2 C176.4,581.2 178.1,583.2 178.5,589.9 C178.9,596.7 177.4,600.8 177.1,604.5" stroke-width="3.4"/><path d="M374.9,512.5 C376.7,510.6 378.8,506.3 382.2,505.2 C385.5,504.1 384.3,506.2 388.0,508.1 C391.8,510.0 394.5,511.4 396.8,512.5" stroke-width="4.8"/><path d="M122.3,816.6 C123.6,817.7 123.8,819.8 127.4,820.9 C130.9,822.1 130.9,822.1 136.2,820.9 C141.4,819.8 144.8,817.7 147.8,816.6" stroke-width="2.7"/><path d="M96.7,844.3 L104.0,845.8" stroke-width="3.4"/></g><g fill="none" stroke="rgb(222,0,0)" stroke-linecap="round" stroke-linejoin="round"><path d="M331.9,304.9 C332.3,309.4 333.2,314.2 333.4,322.4 C333.6,330.6 332.9,333.3 332.7,337.0" stroke-width="4.1"/><path d="M357.5,294.6 L357.5,304.9" stroke-width="4.1"/><path d="M257.4,389.6 C257.0,391.5 255.6,394.3 256.0,396.9 C256.3,399.6 258.1,399.2 258.9,400.0" stroke-width="4.8"/><path d="M358.8,296.1 L364.6,301.2" stroke-width="8.4"/><path d="M601.3,357.5 C602.8,360.5 604.9,362.4 607.2,369.2 C609.4,375.9 609.3,380.0 610.1,383.8" stroke-width="5.5"/><path d="M374.9,351.6 C374.5,354.2 374.9,357.4 373.4,361.9 C371.9,366.3 370.1,367.3 369.0,369.2" stroke-width="6.3"/><path d="M153.7,497.9 C155.2,499.8 156.5,501.8 159.5,505.2 C162.5,508.6 163.9,509.5 165.4,511.0" stroke-width="7.7"/><path d="M342.2,537.3 L350.9,540.3" stroke-width="6.3"/><path d="M200.4,578.2 C198.9,580.5 198.3,583.6 194.6,587.0 C190.8,590.4 189.6,589.9 185.8,591.4 C182.1,592.9 181.5,592.5 180.0,592.9" stroke-width="4.8"/><path d="M423.1,416.1 C424.9,417.6 426.6,418.5 430.4,421.9 C434.1,425.3 435.8,427.3 437.7,429.2" stroke-width="4.8"/><path d="M392.4,455.5 C395.4,454.4 397.7,452.6 404.1,451.1 C410.4,449.6 413.9,450.0 417.2,449.7" stroke-width="4.8"/><path d="M354.4,541.7 C356.3,541.3 357.6,541.4 361.7,540.3 C365.8,539.1 368.2,538.1 370.5,537.3" stroke-width="4.1"/><path d="M96.7,825.3 L97.4,834.1" stroke-width="9.1"/></g></g>
<g filter="url(#dr2)"><g fill="none" stroke="rgb(245,0,0)" stroke-linecap="round" stroke-linejoin="round"><path d="M331.9,304.9 C332.3,309.4 333.2,314.2 333.4,322.4 C333.6,330.6 332.9,333.3 332.7,337.0" stroke-width="3.1"/><path d="M357.5,294.6 L357.5,304.9" stroke-width="3.1"/><path d="M257.4,389.6 C257.0,391.5 255.6,394.3 256.0,396.9 C256.3,399.6 258.1,399.2 258.9,400.0" stroke-width="3.8"/><path d="M358.8,296.1 L364.6,301.2" stroke-width="7.4"/><path d="M601.3,357.5 C602.8,360.5 604.9,362.4 607.2,369.2 C609.4,375.9 609.3,380.0 610.1,383.8" stroke-width="4.5"/><path d="M374.9,351.6 C374.5,354.2 374.9,357.4 373.4,361.9 C371.9,366.3 370.1,367.3 369.0,369.2" stroke-width="5.3"/><path d="M153.7,497.9 C155.2,499.8 156.5,501.8 159.5,505.2 C162.5,508.6 163.9,509.5 165.4,511.0" stroke-width="6.7"/><path d="M342.2,537.3 L350.9,540.3" stroke-width="5.3"/><path d="M200.4,578.2 C198.9,580.5 198.3,583.6 194.6,587.0 C190.8,590.4 189.6,589.9 185.8,591.4 C182.1,592.9 181.5,592.5 180.0,592.9" stroke-width="3.8"/><path d="M423.1,416.1 C424.9,417.6 426.6,418.5 430.4,421.9 C434.1,425.3 435.8,427.3 437.7,429.2" stroke-width="3.8"/><path d="M392.4,455.5 C395.4,454.4 397.7,452.6 404.1,451.1 C410.4,449.6 413.9,450.0 417.2,449.7" stroke-width="3.8"/><path d="M354.4,541.7 C356.3,541.3 357.6,541.4 361.7,540.3 C365.8,539.1 368.2,538.1 370.5,537.3" stroke-width="3.1"/><path d="M96.7,825.3 L97.4,834.1" stroke-width="8.1"/></g></g>
<g filter="url(#db1)"><g fill="none" stroke="rgb(64,0,0)" stroke-linecap="round" stroke-linejoin="round"><path d="M293.9,379.4 C297.7,377.5 301.1,375.8 308.6,372.1 C316.0,368.3 319.4,366.6 323.2,364.8" stroke-width="4.5"/><path d="M471.3,228.9 C473.2,230.0 475.6,233.3 478.6,233.3 C481.6,233.3 481.8,230.0 483.0,228.9" stroke-width="4.5"/><path d="M553.1,237.7 C554.6,236.5 555.9,235.5 558.9,233.3 C561.9,231.0 563.3,230.0 564.8,228.9" stroke-width="3.8"/><path d="M363.2,341.4 L367.5,342.9" stroke-width="4.5"/><path d="M551.6,394.0 C553.5,394.7 556.3,395.4 558.9,396.9 C561.6,398.5 561.1,399.2 561.9,400.0" stroke-width="5.2"/><path d="M177.1,515.4 C178.9,517.7 181.4,519.3 184.4,524.2 C187.4,529.1 186.9,528.8 188.8,534.4 C190.6,540.0 190.2,541.6 191.7,546.1 C193.2,550.6 193.8,550.4 194.6,551.9" stroke-width="3.8"/><path d="M251.6,457.0 C252.7,458.9 254.1,461.3 256.0,464.3 C257.8,467.3 258.1,467.5 258.9,468.7" stroke-width="3.8"/><path d="M311.5,614.8 L317.3,623.5" stroke-width="3.8"/><path d="M561.9,402.9 C562.6,404.8 564.4,406.9 564.8,410.2 C565.2,413.6 563.7,414.6 563.3,416.1" stroke-width="3.8"/><path d="M104.0,886.7 C106.6,887.8 109.7,889.6 114.2,891.1 C118.7,892.6 119.7,892.2 121.5,892.5" stroke-width="5.2"/></g><g fill="none" stroke="rgb(64,0,0)" stroke-linecap="round" stroke-linejoin="round"><path d="M323.2,364.8 L337.8,357.5" stroke-width="5.5"/><path d="M277.9,452.6 L277.9,462.8" stroke-width="4.8"/><path d="M339.2,483.3 C340.0,485.2 340.3,487.2 342.2,490.6 C344.0,494.0 345.4,494.9 346.5,496.4" stroke-width="8.5"/><path d="M320.2,627.9 C322.1,629.8 327.2,631.1 327.5,635.2 C327.9,639.3 323.2,641.7 321.7,644.0" stroke-width="6.2"/><path d="M610.8,410.2 L612.3,420.5" stroke-width="7.0"/><path d="M180.0,693.8 C181.1,690.8 182.1,687.4 184.4,682.1 C186.6,676.9 187.6,675.6 188.8,673.4" stroke-width="7.0"/><path d="M188.8,673.4 L197.5,679.2" stroke-width="4.8"/><path d="M106.9,888.1 L117.2,891.1" stroke-width="4.0"/></g></g>
<g filter="url(#db2)"><g fill="none" stroke="rgb(15,0,0)" stroke-linecap="round" stroke-linejoin="round"><path d="M323.2,364.8 L337.8,357.5" stroke-width="4.0"/><path d="M277.9,452.6 L277.9,462.8" stroke-width="3.2"/><path d="M339.2,483.3 C340.0,485.2 340.3,487.2 342.2,490.6 C344.0,494.0 345.4,494.9 346.5,496.4" stroke-width="7.0"/><path d="M320.2,627.9 C322.1,629.8 327.2,631.1 327.5,635.2 C327.9,639.3 323.2,641.7 321.7,644.0" stroke-width="4.8"/><path d="M610.8,410.2 L612.3,420.5" stroke-width="5.5"/><path d="M180.0,693.8 C181.1,690.8 182.1,687.4 184.4,682.1 C186.6,676.9 187.6,675.6 188.8,673.4" stroke-width="5.5"/><path d="M188.8,673.4 L197.5,679.2" stroke-width="3.2"/><path d="M106.9,888.1 L117.2,891.1" stroke-width="2.5"/></g></g>
</g>
<g fill="none" stroke="#0a330a" stroke-width="1.7" stroke-linejoin="round" opacity="0.95"><path d="M263.9,252.3 C265.5,250.8 264.5,247.4 269.7,250.8 C275.0,254.2 277.9,259.8 284.3,265.4 C290.7,271.0 288.2,270.1 294.5,272.7 C300.9,275.3 304.5,273.8 309.2,275.6 C313.8,277.5 312.8,278.3 312.8,280.0 C312.8,281.7 312.3,281.3 309.2,282.2 C306.0,283.2 307.1,284.6 300.4,283.7 C293.6,282.7 290.0,283.3 282.9,278.6 C275.7,273.9 277.7,271.0 272.6,265.4 C267.6,259.8 265.4,260.0 263.1,256.7 C260.9,253.3 262.2,253.8 263.9,252.3Z"/><path d="M329.6,266.9 C330.4,265.4 330.1,266.8 334.0,264.0 C337.9,261.2 339.6,259.8 345.0,256.0 C350.4,252.2 350.9,251.8 355.0,249.0 C359.1,246.2 357.9,245.8 361.0,245.0 C364.1,244.2 364.9,244.7 367.0,246.0 C369.1,247.3 369.3,247.9 369.0,250.0 C368.7,252.1 368.8,251.7 366.0,254.0 C363.2,256.3 362.6,255.9 358.0,259.0 C353.4,262.1 353.1,262.8 348.0,266.0 C342.9,269.2 342.4,270.5 338.0,271.5 C333.6,272.5 333.2,271.2 331.0,270.0 C328.8,268.8 328.8,268.4 329.6,266.9Z"/><path d="M111.9,183.6 C113.4,180.6 114.7,179.3 119.2,176.3 C123.7,173.3 125.3,172.3 129.4,171.9 C133.6,171.5 134.2,172.6 135.3,174.8 C136.4,177.1 136.5,178.1 133.8,180.7 C131.2,183.3 128.8,182.6 125.1,185.1 C121.3,187.5 122.2,189.4 119.2,190.2 C116.2,190.9 115.2,189.7 113.4,188.0 C111.5,186.3 110.4,186.6 111.9,183.6Z"/><path d="M101.7,171.9 C103.9,175.3 106.9,170.5 110.5,167.5 C114.0,164.5 114.8,163.6 115.6,160.2 C116.3,156.9 116.9,155.9 113.4,154.4 C109.8,152.9 104.7,149.9 101.7,154.4 C98.7,158.9 99.4,168.5 101.7,171.9Z"/><path d="M464.8,159.7 C464.1,160.4 463.7,160.5 464.2,161.7 C464.7,162.9 464.8,163.1 466.8,164.3 C468.8,165.5 469.0,165.4 471.9,166.2 C474.9,167.1 475.1,167.3 478.4,167.5 C481.8,167.8 481.6,167.7 484.9,167.2 C488.3,166.7 488.1,166.7 491.4,165.6 C494.8,164.5 494.6,164.3 497.9,163.0 C501.3,161.7 501.9,160.9 504.4,160.4 C506.9,159.9 507.0,158.7 507.7,161.0 C508.3,163.4 507.5,165.7 507.0,169.5 C506.5,173.3 505.9,172.6 505.7,176.0 C505.5,179.3 505.7,179.5 506.4,182.5 C507.0,185.5 507.3,185.0 508.3,187.7 C509.3,190.3 508.3,192.2 510.3,192.9 C512.3,193.5 514.9,192.9 516.1,190.3 C517.3,187.6 515.5,186.1 514.8,182.5 C514.1,178.8 513.7,179.3 513.5,176.0 C513.3,172.6 514.5,173.1 514.2,169.5 C513.8,165.8 513.2,164.9 512.2,161.7 C511.2,158.5 511.8,158.8 510.3,157.1 C508.8,155.5 508.7,155.4 506.4,155.2 C504.0,155.0 504.2,155.7 501.2,156.5 C498.2,157.3 498.0,158.1 494.7,158.4 C491.3,158.8 491.5,158.0 488.2,157.8 C484.9,157.6 484.2,158.3 481.7,157.8 C479.2,157.3 480.1,156.2 478.4,155.8 C476.8,155.5 476.9,156.0 475.2,156.5 C473.5,157.0 474.1,157.1 471.9,157.8 C469.8,158.5 468.6,158.6 466.8,159.1 C464.9,159.6 465.5,159.1 464.8,159.7Z"/><path d="M436.6,152.6 C433.4,154.6 435.8,159.0 437.0,161.7 C438.3,164.4 439.1,163.8 441.4,163.0 C443.7,162.2 444.0,160.8 446.0,158.4 C448.0,156.1 451.6,155.4 449.2,153.9 C446.8,152.4 439.7,150.6 436.6,152.6Z"/><path d="M429.7,170.8 C429.7,169.8 430.5,169.0 433.0,167.5 C435.5,166.0 437.3,165.4 439.5,164.9 C441.6,164.4 441.8,164.6 441.4,165.6 C441.1,166.6 440.3,167.3 438.2,168.8 C436.0,170.3 435.2,170.9 433.0,171.4 C430.8,171.9 429.7,171.8 429.7,170.8Z"/><path d="M405.4,205.5 C407.1,202.3 410.3,200.6 413.4,198.2 C416.6,195.8 416.5,195.6 417.8,196.0 C419.1,196.4 419.7,197.2 418.6,199.7 C417.4,202.1 416.4,202.7 413.4,205.5 C410.4,208.3 408.9,210.6 406.9,210.6 C404.8,210.6 403.7,208.7 405.4,205.5Z"/><path d="M565.4,464.3 C568.8,462.4 569.7,461.0 572.7,461.4 C575.7,461.7 576.3,463.5 577.1,465.7 C577.8,468.0 578.2,467.9 575.6,470.1 C573.0,472.4 571.0,471.5 566.9,474.5 C562.7,477.5 562.5,478.1 559.5,481.8 C556.5,485.6 557.8,485.8 555.2,489.1 C552.5,492.5 551.6,491.6 549.3,495.0 C547.1,498.3 546.4,498.2 546.4,502.3 C546.4,506.4 547.8,506.5 549.3,511.0 C550.8,515.5 552.2,515.3 552.2,519.8 C552.2,524.3 551.6,524.8 549.3,528.6 C547.1,532.3 547.2,531.4 543.5,534.4 C539.7,537.4 539.2,536.5 534.7,540.3 C530.2,544.0 530.1,544.9 525.9,549.0 C521.8,553.1 521.6,553.0 518.6,556.3 C515.6,559.7 515.4,558.4 514.3,562.2 C513.1,565.9 513.5,566.4 514.3,570.9 C515.0,575.4 516.1,574.8 517.2,579.7 C518.3,584.6 519.0,585.4 518.6,589.9 C518.3,594.4 518.0,594.2 515.7,597.2 C513.5,600.2 512.1,599.4 509.9,601.6 C507.6,603.9 507.3,602.6 506.9,606.0 C506.6,609.4 506.9,610.3 508.4,614.8 C509.9,619.3 510.5,619.8 512.8,623.5 C515.0,627.3 516.4,627.1 517.2,629.4 C517.9,631.6 517.6,632.3 515.7,632.3 C513.8,632.3 512.5,632.4 509.9,629.4 C507.2,626.4 507.7,625.1 505.5,620.6 C503.2,616.1 502.6,616.7 501.1,611.9 C499.6,607.0 499.3,606.1 499.6,601.6 C500.0,597.1 500.7,597.7 502.6,594.3 C504.4,590.9 505.4,592.2 506.9,588.5 C508.4,584.7 509.2,583.8 508.4,579.7 C507.7,575.6 506.6,575.0 504.0,572.4 C501.4,569.8 501.6,571.4 498.2,569.5 C494.8,567.6 493.9,568.5 490.9,565.1 C487.9,561.7 488.4,559.7 486.5,556.3 C484.6,553.0 483.2,553.8 483.6,551.9 C483.9,550.1 485.3,549.4 488.0,549.0 C490.6,548.7 490.1,548.6 493.8,550.5 C497.5,552.4 499.2,556.0 502.6,556.3 C505.9,556.7 503.6,554.9 506.9,551.9 C510.3,549.0 511.2,549.1 515.7,544.6 C520.2,540.1 520.7,539.7 524.5,534.4 C528.2,529.2 527.0,528.7 530.3,524.2 C533.7,519.7 534.6,520.3 537.6,516.9 C540.6,513.5 541.6,514.8 542.0,511.0 C542.4,507.3 540.2,506.8 539.1,502.3 C538.0,497.8 537.3,497.6 537.6,493.5 C538.0,489.4 538.3,489.9 540.6,486.2 C542.8,482.5 543.8,482.6 546.4,478.9 C549.0,475.1 547.4,474.2 550.8,471.6 C554.2,469.0 555.8,470.5 559.5,468.7 C563.3,466.8 562.0,466.2 565.4,464.3Z"/><path d="M466.0,573.9 C467.4,574.6 467.5,577.4 467.5,582.6 C467.5,587.9 465.7,588.7 466.0,594.3 C466.4,599.9 467.8,599.7 469.0,604.5 C470.1,609.4 470.6,610.7 470.4,613.3 C470.2,615.9 469.7,616.3 468.2,614.8 C466.7,613.3 466.3,610.1 464.6,607.5 C462.9,604.8 462.0,607.2 461.7,604.5 C461.3,601.9 463.3,601.0 463.1,597.2 C462.9,593.5 461.1,594.4 460.9,589.9 C460.7,585.4 461.1,583.8 462.4,579.7 C463.7,575.6 464.7,573.1 466.0,573.9Z"/><path d="M578.5,540.3 C578.5,538.8 581.8,539.6 584.4,537.3 C587.0,535.1 586.5,533.4 588.8,531.5 C591.0,529.6 591.7,529.3 593.1,530.0 C594.6,530.8 595.0,531.8 594.6,534.4 C594.2,537.0 592.1,536.9 591.7,540.3 C591.3,543.6 591.7,544.6 593.1,547.6 C594.6,550.6 594.9,551.2 597.5,551.9 C600.2,552.7 600.8,552.0 603.4,550.5 C606.0,549.0 607.0,549.1 607.8,546.1 C608.5,543.1 605.9,541.8 606.3,538.8 C606.7,535.8 607.7,534.0 609.2,534.4 C610.7,534.8 611.0,536.5 612.1,540.3 C613.3,544.0 613.6,544.5 613.6,549.0 C613.6,553.5 612.9,554.8 612.1,557.8 C611.4,560.8 611.8,561.5 610.7,560.7 C609.6,560.0 609.6,556.4 607.8,554.9 C605.9,553.4 606.0,554.1 603.4,554.9 C600.8,555.6 600.5,556.3 597.5,557.8 C594.5,559.3 593.6,561.5 591.7,560.7 C589.8,560.0 591.0,558.6 590.2,554.9 C589.5,551.1 590.3,549.1 588.8,546.1 C587.3,543.1 587.0,544.7 584.4,543.2 C581.8,541.7 578.5,541.8 578.5,540.3Z"/><path d="M606.3,538.8 C605.5,537.3 603.7,530.5 606.3,527.1 C608.9,523.7 613.9,524.5 616.5,525.6 C619.1,526.8 618.4,529.6 616.5,531.5 C614.7,533.4 611.8,531.1 609.2,533.0 C606.6,534.8 607.0,540.3 606.3,538.8Z"/><path d="M544.9,588.5 C545.7,586.2 547.4,585.9 549.3,587.0 C551.2,588.1 550.0,590.2 552.2,592.9 C554.5,595.5 555.1,595.4 558.1,597.2 C561.1,599.1 563.2,598.7 563.9,600.2 C564.7,601.7 563.6,602.7 561.0,603.1 C558.4,603.5 557.1,602.0 553.7,601.6 C550.3,601.2 549.7,603.1 547.9,601.6 C546.0,600.1 547.1,599.2 546.4,595.8 C545.6,592.4 544.2,590.7 544.9,588.5Z"/><path d="M527.4,600.2 C528.2,599.8 529.0,600.1 530.3,601.6 C531.6,603.1 532.7,604.5 532.5,606.0 C532.3,607.5 530.9,608.2 529.6,607.5 C528.3,606.7 528.0,605.0 527.4,603.1 C526.8,601.2 526.7,600.5 527.4,600.2Z"/><path d="M535.4,611.9 C537.1,610.4 538.9,609.6 540.6,610.4 C542.2,611.1 543.1,612.5 542.0,614.8 C540.9,617.0 538.2,618.8 536.2,619.2 C534.1,619.5 534.2,618.1 534.0,616.2 C533.8,614.4 533.8,613.3 535.4,611.9Z"/><path d="M363.0,745.0 C362.7,742.7 363.5,742.1 365.2,740.6 C366.9,739.1 367.5,738.9 369.6,739.1 C371.7,739.3 371.6,739.1 373.3,741.3 C374.9,743.6 376.4,745.6 376.2,747.9 C376.0,750.1 375.0,749.7 372.5,750.1 C370.1,750.5 369.1,750.7 366.7,749.4 C364.3,748.0 363.4,747.2 363.0,745.0Z"/></g><path d="M269.7,900.0 L271.2,886.7 L277.0,875.0 L284.3,869.2 L291.6,863.3 L294.5,854.5 L301.9,847.2 L309.2,841.4 L316.5,834.1 L323.8,831.2 L338.4,834.1 L350.1,835.6 L355.0,833.4 L376.9,831.9 L391.5,835.6 L413.4,833.4 L417.8,838.5 L428.1,832.6 L433.9,834.1 L439.7,844.3 L457.3,841.4 L464.6,848.0 L479.2,845.8 L490.9,844.3 L506.9,848.7 L515.7,861.9 L523.0,877.9 L530.3,889.6 L542.0,889.6 L549.3,893.3 L559.5,893.3 L569.8,886.7 L574.2,882.3 L588.8,877.9 L603.4,872.1 L615.1,867.7 L620.2,868.4" fill="none" stroke="#1a6a6e" stroke-width="1.4" stroke-linejoin="round"/><path d="M612.9,250.8 L596.1,256.7 L581.5,264.0 L571.2,272.7 L556.6,277.1 L537.6,283.0 L527.4,290.3" fill="none" stroke="#3f6f6f" stroke-width="1.0" stroke-linejoin="round" opacity="0.8"/></g>
<path d="M102.2,154.1 Q357,156.7 612.4,154.1 L621.0,898.9 Q357,902.9 93.1,898.9 Z" fill="none" stroke="#000" stroke-width="1.1"/>
<line x1="102.2" y1="136.1" x2="102.2" y2="154.1" stroke="#000" stroke-width="1.3"/>
<line x1="357" y1="137.4" x2="357" y2="155.4" stroke="#000" stroke-width="1.3"/>
<line x1="612.4" y1="136.1" x2="612.4" y2="154.1" stroke="#000" stroke-width="1.3"/>
<line x1="93.1" y1="916.9" x2="93.1" y2="898.9" stroke="#000" stroke-width="1.3"/>
<line x1="357" y1="918.9" x2="357" y2="900.9" stroke="#000" stroke-width="1.3"/>
<line x1="621.0" y1="916.9" x2="621.0" y2="898.9" stroke="#000" stroke-width="1.3"/>
<line x1="84.2" y1="154.1" x2="102.2" y2="154.1" stroke="#000" stroke-width="1.3"/>
<line x1="630.4" y1="154.1" x2="612.4" y2="154.1" stroke="#000" stroke-width="1.3"/>
<line x1="79.65" y1="526.5" x2="97.65" y2="526.5" stroke="#000" stroke-width="1.3"/>
<line x1="634.7" y1="526.5" x2="616.7" y2="526.5" stroke="#000" stroke-width="1.3"/>
<line x1="75.1" y1="898.9" x2="93.1" y2="898.9" stroke="#000" stroke-width="1.3"/>
<line x1="639.0" y1="898.9" x2="621.0" y2="898.9" stroke="#000" stroke-width="1.3"/>
<text transform="translate(69.8,166.7) scale(1.055,1)" text-anchor="end" class="t">47<tspan font-size="24" dy="-10">°</tspan></text>
<text transform="translate(65.2,539.1) scale(1.055,1)" text-anchor="end" class="t">46<tspan font-size="24" dy="-10">°</tspan></text>
<text transform="translate(60.7,911.5) scale(1.055,1)" text-anchor="end" class="t">45<tspan font-size="24" dy="-10">°</tspan></text>
<text transform="translate(92.8,957.3) scale(1.055,1)" text-anchor="middle" class="t">7<tspan font-size="24" dy="-10">°</tspan></text>
<text transform="translate(356.7,957.3) scale(1.055,1)" text-anchor="middle" class="t">8<tspan font-size="24" dy="-10">°</tspan></text>
<text transform="translate(620.7,957.3) scale(1.055,1)" text-anchor="middle" class="t">9<tspan font-size="24" dy="-10">°</tspan></text>
</g>
<g transform="translate(1055.6,1055.6)">
<path d="M88.8,140.7 Q357,143.29999999999998 625.8,140.7 L634.4,912.3 Q357,916.3 79.69999999999999,912.3 Z" fill="#fff" stroke="#000" stroke-width="1.3"/>
<path d="M357,142.0 Q485,141.7 612.4,140.7 L612.4,154.1 Q485,155.1 357,155.4 Z" fill="#000"/>
<path d="M357,914.3 Q489,913.8 621.0,912.3 L621.0,898.9 Q489,900.4 357,900.9 Z" fill="#000"/>
<path d="M88.8,154.1 L102.2,154.1 L97.65,526.5 L84.25,526.5 Z" fill="#000"/>
<path d="M625.8,154.1 L612.4,154.1 L616.7,526.5 L630.1,526.5 Z" fill="#000"/>
<path d="M102.2,154.1 Q357,156.7 612.4,154.1 L621.0,898.9 Q357,902.9 93.1,898.9 Z" fill="#80ff80"/>
<g clip-path="url(#mapclip)"><g filter="url(#jetD)">
<rect x="80" y="140" width="560" height="780" fill="rgb(128,3,5)"/>
<g filter="url(#bALP)"><path d="M90.0,296.0 L141.0,289.0 L177.7,261.0 L236.0,258.0 L258.0,281.5 L280.0,252.0 L302.0,230.0 L360.0,201.0 L384.0,164.6 L399.0,150.0 L630.0,150.0 L630.0,524.0 L574.0,528.6 L537.6,538.8 L501.0,560.7 L486.5,597.0 L464.6,616.0 L442.7,619.0 L420.7,650.0 L400.0,655.0 L360.0,694.0 L309.0,723.0 L272.6,737.7 L258.0,759.6 L243.4,781.5 L228.8,796.0 L225.9,825.0 L221.5,854.6 L206.9,869.0 L192.0,876.5 L177.7,905.0 L85.0,905.0Z" fill="rgb(126,8,13)"/></g>
<g filter="url(#dblob)" fill="none" stroke-linecap="round"><path d="M121.7,461.8 L124.5,446.1" stroke="rgb(99,13,0)" stroke-width="11.2"/><path d="M151.3,372.5 L148.5,356.8" stroke="rgb(99,13,0)" stroke-width="13.4"/><path d="M189.8,364.3 L199.3,353.0" stroke="rgb(99,13,0)" stroke-width="11.2"/><path d="M259.5,294.3 L266.4,286.1" stroke="rgb(99,13,0)" stroke-width="11.2"/><path d="M305.6,320.6 L321.6,301.5" stroke="rgb(99,13,0)" stroke-width="17.9"/><path d="M350.4,283.8 L354.1,275.9" stroke="rgb(99,13,0)" stroke-width="12.5"/><path d="M383.1,278.5 L380.9,266.2" stroke="rgb(99,13,0)" stroke-width="12.5"/><path d="M394.1,299.2 L399.7,287.2" stroke="rgb(99,13,0)" stroke-width="17.9"/><path d="M352.8,329.1 L351.7,322.8" stroke="rgb(99,13,0)" stroke-width="8.9"/><path d="M536.4,187.5 L531.2,178.6" stroke="rgb(99,13,0)" stroke-width="13.4"/><path d="M593.0,175.3 L599.6,161.1" stroke="rgb(99,13,0)" stroke-width="13.4"/><path d="M488.8,219.5 L477.6,200.2" stroke="rgb(99,13,0)" stroke-width="15.6"/><path d="M504.9,243.2 L497.3,230.1" stroke="rgb(99,13,0)" stroke-width="13.4"/><path d="M528.5,279.3 L545.1,259.5" stroke="rgb(99,13,0)" stroke-width="17.9"/><path d="M421.9,239.4 L431.4,228.0" stroke="rgb(99,13,0)" stroke-width="13.4"/><path d="M260.0,445.4 L265.9,432.7" stroke="rgb(99,13,0)" stroke-width="15.6"/><path d="M294.5,447.9 L302.8,430.1" stroke="rgb(99,13,0)" stroke-width="17.9"/><path d="M232.8,470.2 L227.7,461.4" stroke="rgb(99,13,0)" stroke-width="11.2"/><path d="M283.7,504.9 L272.0,498.2" stroke="rgb(99,13,0)" stroke-width="11.2"/><path d="M352.0,469.7 L358.5,462.0" stroke="rgb(99,13,0)" stroke-width="8.9"/><path d="M407.5,467.4 L416.1,464.3" stroke="rgb(99,13,0)" stroke-width="11.2"/><path d="M520.9,488.4 L528.8,479.0" stroke="rgb(99,13,0)" stroke-width="11.2"/><path d="M570.7,492.4 L580.3,480.9" stroke="rgb(99,13,0)" stroke-width="13.4"/><path d="M604.6,446.0 L599.9,438.0" stroke="rgb(99,13,0)" stroke-width="11.2"/><path d="M569.7,393.5 L581.2,389.3" stroke="rgb(99,13,0)" stroke-width="11.2"/><path d="M590.9,366.7 L583.8,362.6" stroke="rgb(99,13,0)" stroke-width="8.9"/><path d="M547.4,360.9 L538.0,344.6" stroke="rgb(99,13,0)" stroke-width="13.4"/><path d="M378.5,376.6 L379.6,370.6" stroke="rgb(99,13,0)" stroke-width="6.7"/><path d="M298.8,348.6 L292.6,345.0" stroke="rgb(99,13,0)" stroke-width="8.9"/><path d="M215.7,503.5 L209.0,499.6" stroke="rgb(99,13,0)" stroke-width="8.9"/><path d="M321.0,489.3 L318.0,484.0" stroke="rgb(99,13,0)" stroke-width="6.7"/><path d="M219.9,278.4 L216.7,260.4" stroke="rgb(99,13,0)" stroke-width="13.4"/><path d="M316.0,206.3 L328.9,201.6" stroke="rgb(99,13,0)" stroke-width="13.4"/><path d="M203.6,663.0 L191.3,641.7" stroke="rgb(99,13,0)" stroke-width="17.0"/><path d="M236.7,652.9 L247.5,640.0" stroke="rgb(99,13,0)" stroke-width="15.6"/><path d="M101.0,658.4 L109.4,640.4" stroke="rgb(99,13,0)" stroke-width="15.6"/><path d="M119.8,671.4 L126.4,657.1" stroke="rgb(99,13,0)" stroke-width="11.2"/><path d="M153.5,617.5 L152.2,609.8" stroke="rgb(99,13,0)" stroke-width="11.2"/><path d="M194.4,605.9 L200.6,603.6" stroke="rgb(99,13,0)" stroke-width="8.9"/><path d="M167.3,683.5 L162.2,674.8" stroke="rgb(99,13,0)" stroke-width="8.9"/><path d="M302.2,651.4 L295.1,647.4" stroke="rgb(99,13,0)" stroke-width="8.9"/><path d="M399.9,612.9 L411.8,608.5" stroke="rgb(99,13,0)" stroke-width="13.4"/><path d="M338.7,621.1 L336.1,606.2" stroke="rgb(99,13,0)" stroke-width="13.4"/><path d="M442.7,554.6 L440.4,541.9" stroke="rgb(99,13,0)" stroke-width="17.9"/><path d="M473.2,579.9 L481.3,570.1" stroke="rgb(99,13,0)" stroke-width="8.9"/><path d="M288.2,702.1 L285.4,686.0" stroke="rgb(99,13,0)" stroke-width="13.4"/><path d="M206.8,717.9 L212.0,711.8" stroke="rgb(99,13,0)" stroke-width="11.2"/><path d="M325.6,686.2 L331.3,684.1" stroke="rgb(99,13,0)" stroke-width="6.7"/><path d="M172.6,806.7 L162.8,789.7" stroke="rgb(99,13,0)" stroke-width="13.4"/><path d="M131.0,780.2 L121.1,774.5" stroke="rgb(99,13,0)" stroke-width="11.2"/><path d="M118.8,882.3 L139.3,874.8" stroke="rgb(99,13,0)" stroke-width="22.3"/><path d="M205.4,823.5 L213.4,820.6" stroke="rgb(99,13,0)" stroke-width="8.9"/><path d="M109.1,720.1 L107.3,709.6" stroke="rgb(99,13,0)" stroke-width="11.2"/><path d="M163.5,539.2 L160.1,533.4" stroke="rgb(99,13,0)" stroke-width="8.9"/><path d="M204.0,539.2 L208.8,533.4" stroke="rgb(99,13,0)" stroke-width="8.9"/><path d="M366.5,530.8 L367.7,524.0" stroke="rgb(99,13,0)" stroke-width="8.9"/><path d="M274.1,405.3 L281.6,389.4" stroke="rgb(150,13,0)" stroke-width="17.9"/><path d="M251.3,400.9 L238.9,393.8" stroke="rgb(150,13,0)" stroke-width="13.4"/><path d="M307.7,403.6 L313.5,391.1" stroke="rgb(150,13,0)" stroke-width="13.4"/><path d="M342.8,392.7 L337.9,384.2" stroke="rgb(150,13,0)" stroke-width="11.2"/><path d="M378.3,405.4 L385.8,389.4" stroke="rgb(150,13,0)" stroke-width="13.4"/><path d="M418.2,371.3 L405.4,363.9" stroke="rgb(150,13,0)" stroke-width="13.4"/><path d="M505.6,394.1 L520.3,388.8" stroke="rgb(150,13,0)" stroke-width="15.6"/><path d="M529.9,256.9 L531.8,246.2" stroke="rgb(150,13,0)" stroke-width="8.9"/><path d="M160.5,421.7 L157.1,402.8" stroke="rgb(150,13,0)" stroke-width="13.4"/><path d="M216.6,445.7 L220.1,438.3" stroke="rgb(150,13,0)" stroke-width="11.2"/><path d="M582.4,327.3 L586.4,318.7" stroke="rgb(150,13,0)" stroke-width="11.2"/><path d="M603.6,356.2 L606.8,349.3" stroke="rgb(150,13,0)" stroke-width="11.2"/><path d="M458.9,433.3 L447.9,426.9" stroke="rgb(150,13,0)" stroke-width="11.2"/><path d="M441.0,450.9 L442.1,445.0" stroke="rgb(150,13,0)" stroke-width="6.7"/><path d="M206.6,593.0 L212.2,580.8" stroke="rgb(150,13,0)" stroke-width="13.4"/><path d="M124.9,614.1 L127.2,601.4" stroke="rgb(150,13,0)" stroke-width="11.2"/><path d="M249.7,600.7 L252.5,585.0" stroke="rgb(150,13,0)" stroke-width="11.2"/><path d="M270.8,610.3 L285.0,605.1" stroke="rgb(150,13,0)" stroke-width="11.2"/><path d="M229.9,582.6 L224.6,573.4" stroke="rgb(150,13,0)" stroke-width="8.9"/><path d="M185.6,579.1 L191.5,576.9" stroke="rgb(150,13,0)" stroke-width="8.9"/><path d="M297.7,595.7 L287.7,590.0" stroke="rgb(150,13,0)" stroke-width="8.9"/><path d="M239.1,712.3 L227.4,705.5" stroke="rgb(150,13,0)" stroke-width="11.2"/><path d="M294.9,688.9 L290.5,681.3" stroke="rgb(150,13,0)" stroke-width="8.9"/><path d="M183.8,751.1 L181.5,738.2" stroke="rgb(150,13,0)" stroke-width="13.4"/><path d="M169.6,841.3 L165.9,820.6" stroke="rgb(150,13,0)" stroke-width="17.9"/><path d="M110.6,814.3 L117.7,805.9" stroke="rgb(150,13,0)" stroke-width="13.4"/><path d="M105.8,827.2 L110.6,816.9" stroke="rgb(150,13,0)" stroke-width="11.2"/></g><g filter="url(#dc)"><circle cx="313.6" cy="311.1" r="4.8" fill="rgb(93,20,0)"/><circle cx="396.9" cy="293.2" r="4.8" fill="rgb(93,20,0)"/><circle cx="483.2" cy="209.9" r="4.2" fill="rgb(93,20,0)"/><circle cx="536.8" cy="269.4" r="4.8" fill="rgb(93,20,0)"/><circle cx="263.0" cy="439.0" r="4.2" fill="rgb(93,20,0)"/><circle cx="298.7" cy="439.0" r="4.8" fill="rgb(93,20,0)"/><circle cx="197.5" cy="652.4" r="4.5" fill="rgb(93,20,0)"/><circle cx="242.1" cy="646.4" r="4.2" fill="rgb(93,20,0)"/><circle cx="105.2" cy="649.4" r="4.2" fill="rgb(93,20,0)"/><circle cx="441.5" cy="548.2" r="4.8" fill="rgb(93,20,0)"/><circle cx="129.0" cy="878.6" r="6.0" fill="rgb(93,20,0)"/></g>
</g>
<g fill="none" stroke="#0a330a" stroke-width="1.7" stroke-linejoin="round" opacity="0.95"><path d="M263.9,252.3 C265.5,250.8 264.5,247.4 269.7,250.8 C275.0,254.2 277.9,259.8 284.3,265.4 C290.7,271.0 288.2,270.1 294.5,272.7 C300.9,275.3 304.5,273.8 309.2,275.6 C313.8,277.5 312.8,278.3 312.8,280.0 C312.8,281.7 312.3,281.3 309.2,282.2 C306.0,283.2 307.1,284.6 300.4,283.7 C293.6,282.7 290.0,283.3 282.9,278.6 C275.7,273.9 277.7,271.0 272.6,265.4 C267.6,259.8 265.4,260.0 263.1,256.7 C260.9,253.3 262.2,253.8 263.9,252.3Z"/><path d="M329.6,266.9 C330.4,265.4 330.1,266.8 334.0,264.0 C337.9,261.2 339.6,259.8 345.0,256.0 C350.4,252.2 350.9,251.8 355.0,249.0 C359.1,246.2 357.9,245.8 361.0,245.0 C364.1,244.2 364.9,244.7 367.0,246.0 C369.1,247.3 369.3,247.9 369.0,250.0 C368.7,252.1 368.8,251.7 366.0,254.0 C363.2,256.3 362.6,255.9 358.0,259.0 C353.4,262.1 353.1,262.8 348.0,266.0 C342.9,269.2 342.4,270.5 338.0,271.5 C333.6,272.5 333.2,271.2 331.0,270.0 C328.8,268.8 328.8,268.4 329.6,266.9Z"/><path d="M111.9,183.6 C113.4,180.6 114.7,179.3 119.2,176.3 C123.7,173.3 125.3,172.3 129.4,171.9 C133.6,171.5 134.2,172.6 135.3,174.8 C136.4,177.1 136.5,178.1 133.8,180.7 C131.2,183.3 128.8,182.6 125.1,185.1 C121.3,187.5 122.2,189.4 119.2,190.2 C116.2,190.9 115.2,189.7 113.4,188.0 C111.5,186.3 110.4,186.6 111.9,183.6Z"/><path d="M101.7,171.9 C103.9,175.3 106.9,170.5 110.5,167.5 C114.0,164.5 114.8,163.6 115.6,160.2 C116.3,156.9 116.9,155.9 113.4,154.4 C109.8,152.9 104.7,149.9 101.7,154.4 C98.7,158.9 99.4,168.5 101.7,171.9Z"/><path d="M464.8,159.7 C464.1,160.4 463.7,160.5 464.2,161.7 C464.7,162.9 464.8,163.1 466.8,164.3 C468.8,165.5 469.0,165.4 471.9,166.2 C474.9,167.1 475.1,167.3 478.4,167.5 C481.8,167.8 481.6,167.7 484.9,167.2 C488.3,166.7 488.1,166.7 491.4,165.6 C494.8,164.5 494.6,164.3 497.9,163.0 C501.3,161.7 501.9,160.9 504.4,160.4 C506.9,159.9 507.0,158.7 507.7,161.0 C508.3,163.4 507.5,165.7 507.0,169.5 C506.5,173.3 505.9,172.6 505.7,176.0 C505.5,179.3 505.7,179.5 506.4,182.5 C507.0,185.5 507.3,185.0 508.3,187.7 C509.3,190.3 508.3,192.2 510.3,192.9 C512.3,193.5 514.9,192.9 516.1,190.3 C517.3,187.6 515.5,186.1 514.8,182.5 C514.1,178.8 513.7,179.3 513.5,176.0 C513.3,172.6 514.5,173.1 514.2,169.5 C513.8,165.8 513.2,164.9 512.2,161.7 C511.2,158.5 511.8,158.8 510.3,157.1 C508.8,155.5 508.7,155.4 506.4,155.2 C504.0,155.0 504.2,155.7 501.2,156.5 C498.2,157.3 498.0,158.1 494.7,158.4 C491.3,158.8 491.5,158.0 488.2,157.8 C484.9,157.6 484.2,158.3 481.7,157.8 C479.2,157.3 480.1,156.2 478.4,155.8 C476.8,155.5 476.9,156.0 475.2,156.5 C473.5,157.0 474.1,157.1 471.9,157.8 C469.8,158.5 468.6,158.6 466.8,159.1 C464.9,159.6 465.5,159.1 464.8,159.7Z"/><path d="M436.6,152.6 C433.4,154.6 435.8,159.0 437.0,161.7 C438.3,164.4 439.1,163.8 441.4,163.0 C443.7,162.2 444.0,160.8 446.0,158.4 C448.0,156.1 451.6,155.4 449.2,153.9 C446.8,152.4 439.7,150.6 436.6,152.6Z"/><path d="M429.7,170.8 C429.7,169.8 430.5,169.0 433.0,167.5 C435.5,166.0 437.3,165.4 439.5,164.9 C441.6,164.4 441.8,164.6 441.4,165.6 C441.1,166.6 440.3,167.3 438.2,168.8 C436.0,170.3 435.2,170.9 433.0,171.4 C430.8,171.9 429.7,171.8 429.7,170.8Z"/><path d="M405.4,205.5 C407.1,202.3 410.3,200.6 413.4,198.2 C416.6,195.8 416.5,195.6 417.8,196.0 C419.1,196.4 419.7,197.2 418.6,199.7 C417.4,202.1 416.4,202.7 413.4,205.5 C410.4,208.3 408.9,210.6 406.9,210.6 C404.8,210.6 403.7,208.7 405.4,205.5Z"/><path d="M565.4,464.3 C568.8,462.4 569.7,461.0 572.7,461.4 C575.7,461.7 576.3,463.5 577.1,465.7 C577.8,468.0 578.2,467.9 575.6,470.1 C573.0,472.4 571.0,471.5 566.9,474.5 C562.7,477.5 562.5,478.1 559.5,481.8 C556.5,485.6 557.8,485.8 555.2,489.1 C552.5,492.5 551.6,491.6 549.3,495.0 C547.1,498.3 546.4,498.2 546.4,502.3 C546.4,506.4 547.8,506.5 549.3,511.0 C550.8,515.5 552.2,515.3 552.2,519.8 C552.2,524.3 551.6,524.8 549.3,528.6 C547.1,532.3 547.2,531.4 543.5,534.4 C539.7,537.4 539.2,536.5 534.7,540.3 C530.2,544.0 530.1,544.9 525.9,549.0 C521.8,553.1 521.6,553.0 518.6,556.3 C515.6,559.7 515.4,558.4 514.3,562.2 C513.1,565.9 513.5,566.4 514.3,570.9 C515.0,575.4 516.1,574.8 517.2,579.7 C518.3,584.6 519.0,585.4 518.6,589.9 C518.3,594.4 518.0,594.2 515.7,597.2 C513.5,600.2 512.1,599.4 509.9,601.6 C507.6,603.9 507.3,602.6 506.9,606.0 C506.6,609.4 506.9,610.3 508.4,614.8 C509.9,619.3 510.5,619.8 512.8,623.5 C515.0,627.3 516.4,627.1 517.2,629.4 C517.9,631.6 517.6,632.3 515.7,632.3 C513.8,632.3 512.5,632.4 509.9,629.4 C507.2,626.4 507.7,625.1 505.5,620.6 C503.2,616.1 502.6,616.7 501.1,611.9 C499.6,607.0 499.3,606.1 499.6,601.6 C500.0,597.1 500.7,597.7 502.6,594.3 C504.4,590.9 505.4,592.2 506.9,588.5 C508.4,584.7 509.2,583.8 508.4,579.7 C507.7,575.6 506.6,575.0 504.0,572.4 C501.4,569.8 501.6,571.4 498.2,569.5 C494.8,567.6 493.9,568.5 490.9,565.1 C487.9,561.7 488.4,559.7 486.5,556.3 C484.6,553.0 483.2,553.8 483.6,551.9 C483.9,550.1 485.3,549.4 488.0,549.0 C490.6,548.7 490.1,548.6 493.8,550.5 C497.5,552.4 499.2,556.0 502.6,556.3 C505.9,556.7 503.6,554.9 506.9,551.9 C510.3,549.0 511.2,549.1 515.7,544.6 C520.2,540.1 520.7,539.7 524.5,534.4 C528.2,529.2 527.0,528.7 530.3,524.2 C533.7,519.7 534.6,520.3 537.6,516.9 C540.6,513.5 541.6,514.8 542.0,511.0 C542.4,507.3 540.2,506.8 539.1,502.3 C538.0,497.8 537.3,497.6 537.6,493.5 C538.0,489.4 538.3,489.9 540.6,486.2 C542.8,482.5 543.8,482.6 546.4,478.9 C549.0,475.1 547.4,474.2 550.8,471.6 C554.2,469.0 555.8,470.5 559.5,468.7 C563.3,466.8 562.0,466.2 565.4,464.3Z"/><path d="M466.0,573.9 C467.4,574.6 467.5,577.4 467.5,582.6 C467.5,587.9 465.7,588.7 466.0,594.3 C466.4,599.9 467.8,599.7 469.0,604.5 C470.1,609.4 470.6,610.7 470.4,613.3 C470.2,615.9 469.7,616.3 468.2,614.8 C466.7,613.3 466.3,610.1 464.6,607.5 C462.9,604.8 462.0,607.2 461.7,604.5 C461.3,601.9 463.3,601.0 463.1,597.2 C462.9,593.5 461.1,594.4 460.9,589.9 C460.7,585.4 461.1,583.8 462.4,579.7 C463.7,575.6 464.7,573.1 466.0,573.9Z"/><path d="M578.5,540.3 C578.5,538.8 581.8,539.6 584.4,537.3 C587.0,535.1 586.5,533.4 588.8,531.5 C591.0,529.6 591.7,529.3 593.1,530.0 C594.6,530.8 595.0,531.8 594.6,534.4 C594.2,537.0 592.1,536.9 591.7,540.3 C591.3,543.6 591.7,544.6 593.1,547.6 C594.6,550.6 594.9,551.2 597.5,551.9 C600.2,552.7 600.8,552.0 603.4,550.5 C606.0,549.0 607.0,549.1 607.8,546.1 C608.5,543.1 605.9,541.8 606.3,538.8 C606.7,535.8 607.7,534.0 609.2,534.4 C610.7,534.8 611.0,536.5 612.1,540.3 C613.3,544.0 613.6,544.5 613.6,549.0 C613.6,553.5 612.9,554.8 612.1,557.8 C611.4,560.8 611.8,561.5 610.7,560.7 C609.6,560.0 609.6,556.4 607.8,554.9 C605.9,553.4 606.0,554.1 603.4,554.9 C600.8,555.6 600.5,556.3 597.5,557.8 C594.5,559.3 593.6,561.5 591.7,560.7 C589.8,560.0 591.0,558.6 590.2,554.9 C589.5,551.1 590.3,549.1 588.8,546.1 C587.3,543.1 587.0,544.7 584.4,543.2 C581.8,541.7 578.5,541.8 578.5,540.3Z"/><path d="M606.3,538.8 C605.5,537.3 603.7,530.5 606.3,527.1 C608.9,523.7 613.9,524.5 616.5,525.6 C619.1,526.8 618.4,529.6 616.5,531.5 C614.7,533.4 611.8,531.1 609.2,533.0 C606.6,534.8 607.0,540.3 606.3,538.8Z"/><path d="M544.9,588.5 C545.7,586.2 547.4,585.9 549.3,587.0 C551.2,588.1 550.0,590.2 552.2,592.9 C554.5,595.5 555.1,595.4 558.1,597.2 C561.1,599.1 563.2,598.7 563.9,600.2 C564.7,601.7 563.6,602.7 561.0,603.1 C558.4,603.5 557.1,602.0 553.7,601.6 C550.3,601.2 549.7,603.1 547.9,601.6 C546.0,600.1 547.1,599.2 546.4,595.8 C545.6,592.4 544.2,590.7 544.9,588.5Z"/><path d="M527.4,600.2 C528.2,599.8 529.0,600.1 530.3,601.6 C531.6,603.1 532.7,604.5 532.5,606.0 C532.3,607.5 530.9,608.2 529.6,607.5 C528.3,606.7 528.0,605.0 527.4,603.1 C526.8,601.2 526.7,600.5 527.4,600.2Z"/><path d="M535.4,611.9 C537.1,610.4 538.9,609.6 540.6,610.4 C542.2,611.1 543.1,612.5 542.0,614.8 C540.9,617.0 538.2,618.8 536.2,619.2 C534.1,619.5 534.2,618.1 534.0,616.2 C533.8,614.4 533.8,613.3 535.4,611.9Z"/><path d="M363.0,745.0 C362.7,742.7 363.5,742.1 365.2,740.6 C366.9,739.1 367.5,738.9 369.6,739.1 C371.7,739.3 371.6,739.1 373.3,741.3 C374.9,743.6 376.4,745.6 376.2,747.9 C376.0,750.1 375.0,749.7 372.5,750.1 C370.1,750.5 369.1,750.7 366.7,749.4 C364.3,748.0 363.4,747.2 363.0,745.0Z"/></g><path d="M269.7,900.0 L271.2,886.7 L277.0,875.0 L284.3,869.2 L291.6,863.3 L294.5,854.5 L301.9,847.2 L309.2,841.4 L316.5,834.1 L323.8,831.2 L338.4,834.1 L350.1,835.6 L355.0,833.4 L376.9,831.9 L391.5,835.6 L413.4,833.4 L417.8,838.5 L428.1,832.6 L433.9,834.1 L439.7,844.3 L457.3,841.4 L464.6,848.0 L479.2,845.8 L490.9,844.3 L506.9,848.7 L515.7,861.9 L523.0,877.9 L530.3,889.6 L542.0,889.6 L549.3,893.3 L559.5,893.3 L569.8,886.7 L574.2,882.3 L588.8,877.9 L603.4,872.1 L615.1,867.7 L620.2,868.4" fill="none" stroke="#1a6a6e" stroke-width="1.4" stroke-linejoin="round"/><path d="M612.9,250.8 L596.1,256.7 L581.5,264.0 L571.2,272.7 L556.6,277.1 L537.6,283.0 L527.4,290.3" fill="none" stroke="#3f6f6f" stroke-width="1.0" stroke-linejoin="round" opacity="0.8"/></g>
<path d="M102.2,154.1 Q357,156.7 612.4,154.1 L621.0,898.9 Q357,902.9 93.1,898.9 Z" fill="none" stroke="#000" stroke-width="1.1"/>
<line x1="102.2" y1="136.1" x2="102.2" y2="154.1" stroke="#000" stroke-width="1.3"/>
<line x1="357" y1="137.4" x2="357" y2="155.4" stroke="#000" stroke-width="1.3"/>
<line x1="612.4" y1="136.1" x2="612.4" y2="154.1" stroke="#000" stroke-width="1.3"/>
<line x1="93.1" y1="916.9" x2="93.1" y2="898.9" stroke="#000" stroke-width="1.3"/>
<line x1="357" y1="918.9" x2="357" y2="900.9" stroke="#000" stroke-width="1.3"/>
<line x1="621.0" y1="916.9" x2="621.0" y2="898.9" stroke="#000" stroke-width="1.3"/>
<line x1="84.2" y1="154.1" x2="102.2" y2="154.1" stroke="#000" stroke-width="1.3"/>
<line x1="630.4" y1="154.1" x2="612.4" y2="154.1" stroke="#000" stroke-width="1.3"/>
<line x1="79.65" y1="526.5" x2="97.65" y2="526.5" stroke="#000" stroke-width="1.3"/>
<line x1="634.7" y1="526.5" x2="616.7" y2="526.5" stroke="#000" stroke-width="1.3"/>
<line x1="75.1" y1="898.9" x2="93.1" y2="898.9" stroke="#000" stroke-width="1.3"/>
<line x1="639.0" y1="898.9" x2="621.0" y2="898.9" stroke="#000" stroke-width="1.3"/>
<text transform="translate(69.8,166.7) scale(1.055,1)" text-anchor="end" class="t">47<tspan font-size="24" dy="-10">°</tspan></text>
<text transform="translate(65.2,539.1) scale(1.055,1)" text-anchor="end" class="t">46<tspan font-size="24" dy="-10">°</tspan></text>
<text transform="translate(60.7,911.5) scale(1.055,1)" text-anchor="end" class="t">45<tspan font-size="24" dy="-10">°</tspan></text>
<text transform="translate(92.8,957.3) scale(1.055,1)" text-anchor="middle" class="t">7<tspan font-size="24" dy="-10">°</tspan></text>
<text transform="translate(356.7,957.3) scale(1.055,1)" text-anchor="middle" class="t">8<tspan font-size="24" dy="-10">°</tspan></text>
<text transform="translate(620.7,957.3) scale(1.055,1)" text-anchor="middle" class="t">9<tspan font-size="24" dy="-10">°</tspan></text>
</g>
<g transform="translate(0,0)">
<rect x="673.3" y="163.3" width="52.2" height="735.6" fill="url(#jet)" stroke="#000" stroke-width="5.6"/>
<text transform="translate(699.2,150.8) scale(1.055,1)" text-anchor="middle" class="t">mGal</text>
<line x1="728" y1="163.3" x2="744.8" y2="163.3" stroke="#000" stroke-width="1.7"/>
<text transform="translate(839.6,176.7) scale(1.055,1)" text-anchor="end" class="t">100</text>
<line x1="728" y1="408.5" x2="744.8" y2="408.5" stroke="#000" stroke-width="1.7"/>
<text transform="translate(839.6,421.9) scale(1.055,1)" text-anchor="end" class="t">0</text>
<line x1="728" y1="653.7" x2="744.8" y2="653.7" stroke="#000" stroke-width="1.7"/>
<text transform="translate(839.6,667.1) scale(1.055,1)" text-anchor="end" class="t">−100</text>
<line x1="728" y1="898.9" x2="744.8" y2="898.9" stroke="#000" stroke-width="1.7"/>
<text transform="translate(839.6,912.3) scale(1.055,1)" text-anchor="end" class="t">−200</text>
</g>
<g transform="translate(1055.6,0)">
<rect x="673.3" y="163.3" width="52.2" height="735.6" fill="url(#jet)" stroke="#000" stroke-width="5.6"/>
<text transform="translate(699.2,150.8) scale(1.055,1)" text-anchor="middle" class="t">mGal</text>
<line x1="728" y1="163.3" x2="744.8" y2="163.3" stroke="#000" stroke-width="1.7"/>
<text transform="translate(798.7,176.7) scale(1.055,1)" text-anchor="end" class="t">5</text>
<line x1="728" y1="531.1" x2="744.8" y2="531.1" stroke="#000" stroke-width="1.7"/>
<text transform="translate(798.7,544.5) scale(1.055,1)" text-anchor="end" class="t">0</text>
<line x1="728" y1="898.9" x2="744.8" y2="898.9" stroke="#000" stroke-width="1.7"/>
<text transform="translate(798.7,912.3) scale(1.055,1)" text-anchor="end" class="t">−5</text>
</g>
<g transform="translate(0,1055.6)">
<rect x="673.3" y="163.3" width="52.2" height="735.6" fill="url(#jet)" stroke="#000" stroke-width="5.6"/>
<text transform="translate(699.2,150.8) scale(1.055,1)" text-anchor="middle" class="t">mGal</text>
<line x1="728" y1="163.3" x2="744.8" y2="163.3" stroke="#000" stroke-width="1.7"/>
<text transform="translate(799.0,176.7) scale(1.055,1)" text-anchor="end" class="t">5</text>
<line x1="728" y1="531.1" x2="744.8" y2="531.1" stroke="#000" stroke-width="1.7"/>
<text transform="translate(799.0,544.5) scale(1.055,1)" text-anchor="end" class="t">0</text>
<line x1="728" y1="898.9" x2="744.8" y2="898.9" stroke="#000" stroke-width="1.7"/>
<text transform="translate(799.0,912.3) scale(1.055,1)" text-anchor="end" class="t">−5</text>
</g>
<g transform="translate(1055.6,1055.6)">
<rect x="673.3" y="163.3" width="52.2" height="735.6" fill="url(#jet)" stroke="#000" stroke-width="5.6"/>
<text transform="translate(699.2,150.8) scale(1.055,1)" text-anchor="middle" class="t">mGal</text>
<line x1="728" y1="163.3" x2="744.8" y2="163.3" stroke="#000" stroke-width="1.7"/>
<text transform="translate(798.7,176.7) scale(1.055,1)" text-anchor="end" class="t">3</text>
<line x1="728" y1="285.9" x2="744.8" y2="285.9" stroke="#000" stroke-width="1.7"/>
<text transform="translate(798.7,299.3) scale(1.055,1)" text-anchor="end" class="t">2</text>
<line x1="728" y1="408.5" x2="744.8" y2="408.5" stroke="#000" stroke-width="1.7"/>
<text transform="translate(798.7,421.9) scale(1.055,1)" text-anchor="end" class="t">1</text>
<line x1="728" y1="531.1" x2="744.8" y2="531.1" stroke="#000" stroke-width="1.7"/>
<text transform="translate(798.7,544.5) scale(1.055,1)" text-anchor="end" class="t">0</text>
<line x1="728" y1="653.7" x2="744.8" y2="653.7" stroke="#000" stroke-width="1.7"/>
<text transform="translate(798.7,667.1) scale(1.055,1)" text-anchor="end" class="t">−1</text>
<line x1="728" y1="776.3" x2="744.8" y2="776.3" stroke="#000" stroke-width="1.7"/>
<text transform="translate(798.7,789.7) scale(1.055,1)" text-anchor="end" class="t">−2</text>
<line x1="728" y1="898.9" x2="744.8" y2="898.9" stroke="#000" stroke-width="1.7"/>
<text transform="translate(798.7,912.3) scale(1.055,1)" text-anchor="end" class="t">−3</text>
</g>
<text transform="translate(357.0,37.3) scale(1.021,1)" text-anchor="middle" class="tt">(a) <tspan class="dl">δ</tspan>g<tspan class="sb" dy="9">RTM</tspan><tspan dy="-9">​</tspan></text>
<text transform="translate(1412.6,37.3) scale(1.021,1)" text-anchor="middle" class="tt">(b) <tspan class="dl">δ</tspan>g<tspan class="sb" dy="9">baseline</tspan><tspan dy="-9">​</tspan> − <tspan class="dl">δ</tspan>g<tspan class="sb" dy="9">RTM</tspan><tspan dy="-9">​</tspan></text>
<text transform="translate(357.0,1092.9) scale(1.021,1)" text-anchor="middle" class="tt">(c) <tspan class="dl">δ</tspan>g<tspan class="sb" dy="9">baseline</tspan><tspan dy="-9">​</tspan> − <tspan class="dl">δ</tspan>g<tspan class="sb" dy="9">RTM</tspan><tspan dy="-9">​</tspan> over H<tspan class="sb" dy="9">RTM</tspan><tspan dy="-9">​</tspan>&lt;0</text>
<text transform="translate(1412.6,1092.9) scale(1.021,1)" text-anchor="middle" class="tt">(d) <tspan class="dl">δ</tspan>g<tspan class="sb" dy="9">baseline</tspan><tspan dy="-9">​</tspan> − <tspan class="dl">δ</tspan>g<tspan class="sb" dy="9">RTM</tspan><tspan dy="-9">​</tspan> over H<tspan class="sb" dy="9">RTM</tspan><tspan dy="-9">​</tspan>&gt;0</text>
</svg></body></html>
